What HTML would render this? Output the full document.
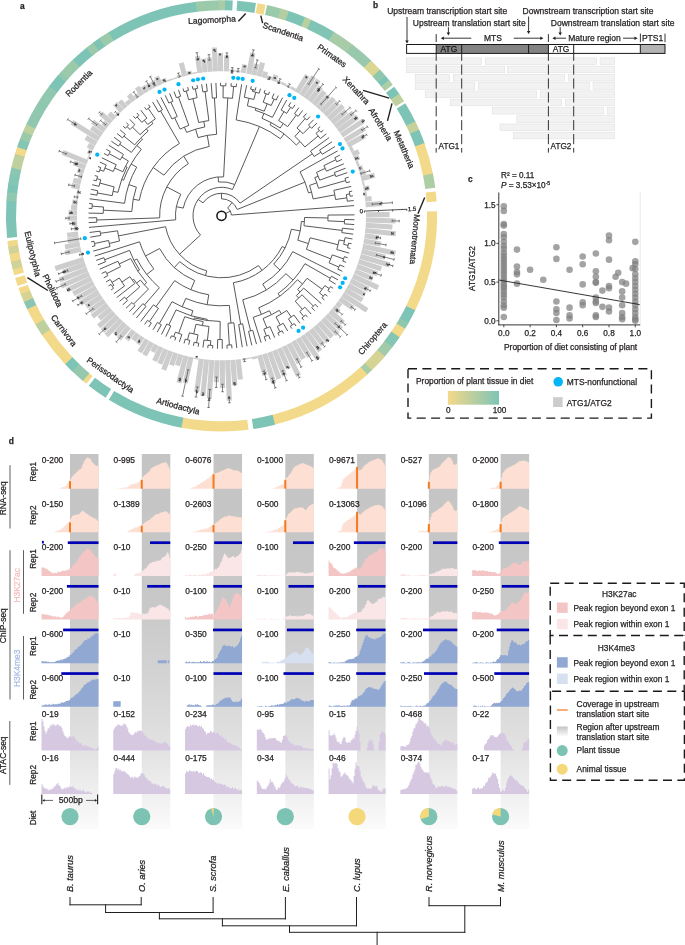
<!DOCTYPE html>
<html><head><meta charset="utf-8"><style>
html,body{margin:0;padding:0;background:#fff;}
svg{display:block;will-change:transform;}
text{font-family:"Liberation Sans", sans-serif;stroke:#231f20;stroke-width:0.25px;}
</style></head><body>
<svg width="685" height="945" viewBox="0 0 685 945">
<text x="20" y="9" font-size="8.4" text-anchor="start" fill="#231f20" font-weight="bold" font-style="normal">a</text>
<path d="M237.29 0.78A215.6 215.6 0 0 1 255.97 2.97L254.36 12.94A205.5 205.5 0 0 0 236.55 10.85Z" fill="#7ec4b6"/>
<path d="M257.46 3.22A215.6 215.6 0 0 1 265.59 4.76L263.52 14.64A205.5 205.5 0 0 0 255.77 13.18Z" fill="#f3da8a"/>
<path d="M267.06 5.07A215.6 215.6 0 0 1 281.47 8.71L278.66 18.41A205.5 205.5 0 0 0 264.93 14.94Z" fill="#9bcaab"/>
<path d="M280.57 8.45A215.6 215.6 0 0 1 289.73 11.28L286.54 20.86A205.5 205.5 0 0 0 277.8 18.16Z" fill="#b3cea2"/>
<path d="M288.84 10.99A215.6 215.6 0 0 1 305.91 17.41L301.96 26.71A205.5 205.5 0 0 0 285.68 20.58Z" fill="#7ec4b6"/>
<path d="M305.05 17.05A215.6 215.6 0 0 1 312.1 20.16L307.86 29.33A205.5 205.5 0 0 0 301.13 26.36Z" fill="#b8cfa0"/>
<path d="M311.25 19.77A215.6 215.6 0 0 1 334.63 32.27L329.33 40.86A205.5 205.5 0 0 0 307.05 28.95Z" fill="#80c4b5"/>
<path d="M333.83 31.77A215.6 215.6 0 0 1 353.2 45.1L347.03 53.09A205.5 205.5 0 0 0 328.57 40.4Z" fill="#a7cca7"/>
<path d="M352.45 44.52A215.6 215.6 0 0 1 371.67 61.1L364.64 68.35A205.5 205.5 0 0 0 346.32 52.55Z" fill="#98c9ac"/>
<path d="M371 60.45A215.6 215.6 0 0 1 380.58 70.28L373.13 77.1A205.5 205.5 0 0 0 363.99 67.73Z" fill="#dcd693"/>
<path d="M379.95 69.59A215.6 215.6 0 0 1 386.05 76.5L378.34 83.02A205.5 205.5 0 0 0 372.52 76.44Z" fill="#90c7af"/>
<path d="M385.44 75.78A215.6 215.6 0 0 1 389.64 80.85L381.77 87.17A205.5 205.5 0 0 0 377.76 82.34Z" fill="#7ec4b6"/>
<path d="M389.05 80.12A215.6 215.6 0 0 1 392.78 84.85L384.75 90.98A205.5 205.5 0 0 0 381.2 86.47Z" fill="#adcda4"/>
<path d="M394.14 86.65A215.6 215.6 0 0 1 399.71 94.46L391.36 100.14A205.5 205.5 0 0 0 386.05 92.7Z" fill="#7ec4b6"/>
<path d="M399.18 93.68A215.6 215.6 0 0 1 404.14 101.23L395.58 106.6A205.5 205.5 0 0 0 390.86 99.4Z" fill="#bed09e"/>
<path d="M405.33 103.15A215.6 215.6 0 0 1 415.69 122.13L406.59 126.52A205.5 205.5 0 0 0 396.72 108.43Z" fill="#7ec4b6"/>
<path d="M415.28 121.29A215.6 215.6 0 0 1 419.59 130.69L410.31 134.68A205.5 205.5 0 0 0 406.2 125.71Z" fill="#c4d19c"/>
<path d="M419.22 129.83A215.6 215.6 0 0 1 424.8 144.01L415.27 147.37A205.5 205.5 0 0 0 409.96 133.86Z" fill="#7ec4b6"/>
<path d="M424.48 143.12A215.6 215.6 0 0 1 433.1 174.48L423.19 176.41A205.5 205.5 0 0 0 414.97 146.53Z" fill="#f3da8a"/>
<path d="M432.92 173.55A215.6 215.6 0 0 1 435.26 187.66L425.24 188.98A205.5 205.5 0 0 0 423.02 175.53Z" fill="#adcda4"/>
<path d="M435.71 191.39A215.6 215.6 0 0 1 436.63 201.51L426.55 202.18A205.5 205.5 0 0 0 425.68 192.54Z" fill="#f3da8a"/>
<path d="M437.05 211.28A215.6 215.6 0 0 1 414.87 311.16L405.81 306.69A205.5 205.5 0 0 0 426.95 211.5Z" fill="#f3da8a"/>
<path d="M415.28 310.31A215.6 215.6 0 0 1 408.12 323.76L399.38 318.71A205.5 205.5 0 0 0 406.2 305.89Z" fill="#7ec4b6"/>
<path d="M408.59 322.95A215.6 215.6 0 0 1 404.64 329.57L396.06 324.24A205.5 205.5 0 0 0 399.83 317.93Z" fill="#90c7af"/>
<path d="M405.13 328.77A215.6 215.6 0 0 1 399.07 338.07L390.76 332.34A205.5 205.5 0 0 0 396.53 323.48Z" fill="#f3da8a"/>
<path d="M399.61 337.3A215.6 215.6 0 0 1 391.97 347.79L383.99 341.61A205.5 205.5 0 0 0 391.26 331.6Z" fill="#84c5b4"/>
<path d="M392.55 347.05A215.6 215.6 0 0 1 384.34 357.1L376.71 350.48A205.5 205.5 0 0 0 384.53 340.9Z" fill="#a1cba9"/>
<path d="M384.95 356.39A215.6 215.6 0 0 1 371.13 371.02L364.12 363.75A205.5 205.5 0 0 0 377.3 349.81Z" fill="#d6d495"/>
<path d="M371.81 370.37A215.6 215.6 0 0 1 366.74 375.14L359.94 367.67A205.5 205.5 0 0 0 364.77 363.13Z" fill="#a7cca7"/>
<path d="M367.43 374.5A215.6 215.6 0 0 1 274.21 424.86L271.74 415.06A205.5 205.5 0 0 0 360.6 367.07Z" fill="#f3da8a"/>
<path d="M275.12 424.63A215.6 215.6 0 0 1 253.37 429.03L251.87 419.04A205.5 205.5 0 0 0 272.61 414.84Z" fill="#7ec4b6"/>
<path d="M248.52 429.7A215.6 215.6 0 0 1 180.55 427.47L182.46 417.56A205.5 205.5 0 0 0 247.26 419.68Z" fill="#f3da8a"/>
<path d="M181.47 427.65A215.6 215.6 0 0 1 108.85 399.63L114.13 391.02A205.5 205.5 0 0 0 183.35 417.73Z" fill="#7ec4b6"/>
<path d="M105.66 397.64A215.6 215.6 0 0 1 88.76 385.7L94.98 377.74A205.5 205.5 0 0 0 111.08 389.12Z" fill="#7ec4b6"/>
<path d="M86.4 383.83A215.6 215.6 0 0 1 82.2 380.35L88.72 372.64A205.5 205.5 0 0 0 92.73 375.95Z" fill="#f3da8a"/>
<path d="M82.91 380.96A215.6 215.6 0 0 1 71.6 370.76L78.62 363.5A205.5 205.5 0 0 0 89.41 373.22Z" fill="#95c8ad"/>
<path d="M72.27 371.41A215.6 215.6 0 0 1 64.46 363.53L71.82 356.61A205.5 205.5 0 0 0 79.26 364.12Z" fill="#7ec4b6"/>
<path d="M65.11 364.21A215.6 215.6 0 0 1 41.4 334.33L49.84 328.77A205.5 205.5 0 0 0 72.44 357.26Z" fill="#f3da8a"/>
<path d="M41.92 335.11A215.6 215.6 0 0 1 34.88 323.76L43.62 318.71A205.5 205.5 0 0 0 50.33 329.52Z" fill="#bed09e"/>
<path d="M35.35 324.58A215.6 215.6 0 0 1 26.82 308.45L35.94 304.11A205.5 205.5 0 0 0 44.07 319.48Z" fill="#f3da8a"/>
<path d="M27.23 309.3A215.6 215.6 0 0 1 23.56 301.25L32.83 297.25A205.5 205.5 0 0 0 36.33 304.92Z" fill="#8ac6b2"/>
<path d="M23.93 302.12A215.6 215.6 0 0 1 20.29 293.24L29.71 289.61A205.5 205.5 0 0 0 33.19 298.07Z" fill="#d6d495"/>
<path d="M20.63 294.12A215.6 215.6 0 0 1 18.39 288.12L27.91 284.74A205.5 205.5 0 0 0 30.04 290.45Z" fill="#f3da8a"/>
<path d="M17.65 285.99A215.6 215.6 0 0 1 15.1 278.12L24.77 275.2A205.5 205.5 0 0 0 27.2 282.7Z" fill="#f3da8a"/>
<path d="M14.25 275.23A215.6 215.6 0 0 1 12.44 268.51L22.24 266.04A205.5 205.5 0 0 0 23.96 272.44Z" fill="#f3da8a"/>
<path d="M12.67 269.42A215.6 215.6 0 0 1 10.65 260.81L20.53 258.7A205.5 205.5 0 0 0 22.46 266.91Z" fill="#d0d397"/>
<path d="M10.85 261.73A215.6 215.6 0 0 1 9.14 253.05L19.09 251.31A205.5 205.5 0 0 0 20.72 259.58Z" fill="#f3da8a"/>
<path d="M9.31 253.98A215.6 215.6 0 0 1 8.02 245.99L18.02 244.58A205.5 205.5 0 0 0 19.25 252.19Z" fill="#d0d397"/>
<path d="M8.16 246.92A215.6 215.6 0 0 1 7.37 240.95L17.4 239.78A205.5 205.5 0 0 0 18.15 245.47Z" fill="#edd98c"/>
<path d="M7.04 237.96A215.6 215.6 0 0 1 6.49 199.82L16.57 200.57A205.5 205.5 0 0 0 17.09 236.92Z" fill="#7ec4b6"/>
<path d="M6.43 200.76A215.6 215.6 0 0 1 7.31 191.21L17.34 192.36A205.5 205.5 0 0 0 16.5 201.47Z" fill="#90c7af"/>
<path d="M7.2 192.14A215.6 215.6 0 0 1 8.35 183.37L18.34 184.89A205.5 205.5 0 0 0 17.24 193.25Z" fill="#7ec4b6"/>
<path d="M8.21 184.3A215.6 215.6 0 0 1 9.83 174.85L19.74 176.76A205.5 205.5 0 0 0 18.2 185.78Z" fill="#84c5b4"/>
<path d="M9.65 175.77A215.6 215.6 0 0 1 11.55 166.75L21.39 169.05A205.5 205.5 0 0 0 19.57 177.65Z" fill="#8ac6b2"/>
<path d="M11.34 167.67A215.6 215.6 0 0 1 15.27 152.94L24.93 155.89A205.5 205.5 0 0 0 21.19 169.92Z" fill="#bed09e"/>
<path d="M14.99 153.85A215.6 215.6 0 0 1 17.46 146.14L27.02 149.4A205.5 205.5 0 0 0 24.67 156.75Z" fill="#f3da8a"/>
<path d="M17.16 147.03A215.6 215.6 0 0 1 20.29 138.36L29.71 141.99A205.5 205.5 0 0 0 26.73 150.25Z" fill="#84c5b4"/>
<path d="M19.95 139.24A215.6 215.6 0 0 1 23.41 130.69L32.69 134.68A205.5 205.5 0 0 0 29.39 142.83Z" fill="#9bcaab"/>
<path d="M23.04 131.56A215.6 215.6 0 0 1 26.66 123.49L35.79 127.82A205.5 205.5 0 0 0 32.34 135.5Z" fill="#bed09e"/>
<path d="M26.26 124.34A215.6 215.6 0 0 1 49.88 85.3L57.92 91.41A205.5 205.5 0 0 0 35.41 128.63Z" fill="#90c7af"/>
<path d="M49.31 86.05A215.6 215.6 0 0 1 58.41 74.78L66.05 81.39A205.5 205.5 0 0 0 57.38 92.13Z" fill="#7ec4b6"/>
<path d="M57.8 75.49A215.6 215.6 0 0 1 61.15 71.68L68.66 78.43A205.5 205.5 0 0 0 65.47 82.07Z" fill="#90c7af"/>
<path d="M60.52 72.38A215.6 215.6 0 0 1 73.5 59.02L80.43 66.37A205.5 205.5 0 0 0 68.07 79.1Z" fill="#9bcaab"/>
<path d="M72.82 59.67A215.6 215.6 0 0 1 87.14 47.19L93.43 55.09A205.5 205.5 0 0 0 79.78 66.98Z" fill="#7ec4b6"/>
<path d="M86.4 47.77A215.6 215.6 0 0 1 93.71 42.15L99.7 50.29A205.5 205.5 0 0 0 92.73 55.65Z" fill="#9bcaab"/>
<path d="M92.95 42.71A215.6 215.6 0 0 1 99.85 37.8L105.55 46.14A205.5 205.5 0 0 0 98.98 50.82Z" fill="#7ec4b6"/>
<path d="M99.07 38.33A215.6 215.6 0 0 1 109.33 31.68L114.59 40.3A205.5 205.5 0 0 0 104.81 46.65Z" fill="#9bcaab"/>
<path d="M108.53 32.17A215.6 215.6 0 0 1 196.53 1.65L197.7 11.68A205.5 205.5 0 0 0 113.82 40.77Z" fill="#7ec4b6"/>
<path d="M195.6 1.76A215.6 215.6 0 0 1 219.81 0.21L219.89 10.31A205.5 205.5 0 0 0 196.81 11.79Z" fill="#9bcaab"/>
<path d="M218.87 0.22A215.6 215.6 0 0 1 226.2 0.25L225.98 10.35A205.5 205.5 0 0 0 218.99 10.32Z" fill="#a7cca7"/>
<path d="M225.26 0.23A215.6 215.6 0 0 1 232.78 0.5L232.26 10.58A205.5 205.5 0 0 0 225.09 10.33Z" fill="#7ec4b6"/>
<g fill="#cdcdcd"><rect x="0" y="-2.55" width="23.64" height="5.1" transform="translate(366 214.79) rotate(-0.4)"/><rect x="0" y="-2.55" width="29.77" height="5.1" transform="translate(365.94 220.05) rotate(1.69)"/><rect x="0" y="-2.55" width="26.76" height="5.1" transform="translate(365.69 225.31) rotate(3.77)"/><rect x="0" y="-2.55" width="30.61" height="5.1" transform="translate(365.24 230.56) rotate(5.86)"/><rect x="0" y="-2.55" width="14.1" height="5.1" transform="translate(364.61 235.78) rotate(7.95)"/><rect x="0" y="-2.55" width="17.14" height="5.1" transform="translate(363.79 240.98) rotate(10.04)"/><rect x="0" y="-2.55" width="33.5" height="5.1" transform="translate(362.78 246.15) rotate(12.12)"/><rect x="0" y="-2.55" width="24.41" height="5.1" transform="translate(361.58 251.27) rotate(14.21)"/><rect x="0" y="-2.55" width="30.61" height="5.1" transform="translate(360.19 256.35) rotate(16.3)"/><rect x="0" y="-2.55" width="23.88" height="5.1" transform="translate(358.62 261.37) rotate(18.38)"/><rect x="0" y="-2.55" width="21.8" height="5.1" transform="translate(356.87 266.34) rotate(20.47)"/><rect x="0" y="-2.55" width="19.12" height="5.1" transform="translate(354.94 271.24) rotate(22.56)"/><rect x="0" y="-2.55" width="27.86" height="5.1" transform="translate(352.84 276.06) rotate(24.65)"/><rect x="0" y="-2.55" width="19.68" height="5.1" transform="translate(350.55 280.8) rotate(26.73)"/><rect x="0" y="-2.55" width="19.17" height="5.1" transform="translate(348.1 285.46) rotate(28.82)"/><rect x="0" y="-2.55" width="19.7" height="5.1" transform="translate(345.48 290.02) rotate(30.91)"/><rect x="0" y="-2.55" width="29.04" height="5.1" transform="translate(342.69 294.49) rotate(32.99)"/><rect x="0" y="-2.55" width="16.4" height="5.1" transform="translate(339.75 298.85) rotate(35.08)"/><rect x="0" y="-2.55" width="5.08" height="5.1" transform="translate(336.65 303.1) rotate(37.17)"/><rect x="0" y="-2.55" width="7.45" height="5.1" transform="translate(333.39 307.24) rotate(39.26)"/><rect x="0" y="-2.55" width="17.66" height="5.1" transform="translate(329.99 311.25) rotate(41.34)"/><rect x="0" y="-2.55" width="20.27" height="5.1" transform="translate(326.44 315.14) rotate(43.43)"/><rect x="0" y="-2.55" width="21.4" height="5.1" transform="translate(322.75 318.9) rotate(45.52)"/><rect x="0" y="-2.55" width="19.57" height="5.1" transform="translate(318.93 322.52) rotate(47.61)"/><rect x="0" y="-2.55" width="20.42" height="5.1" transform="translate(314.98 325.99) rotate(49.69)"/><rect x="0" y="-2.55" width="19.77" height="5.1" transform="translate(310.9 329.32) rotate(51.78)"/><rect x="0" y="-2.55" width="22.87" height="5.1" transform="translate(306.71 332.5) rotate(53.87)"/><rect x="0" y="-2.55" width="28.74" height="5.1" transform="translate(302.4 335.53) rotate(55.95)"/><rect x="0" y="-2.55" width="21.55" height="5.1" transform="translate(297.99 338.4) rotate(58.04)"/><rect x="0" y="-2.55" width="20.32" height="5.1" transform="translate(293.47 341.1) rotate(60.13)"/><rect x="0" y="-2.55" width="21.92" height="5.1" transform="translate(288.86 343.64) rotate(62.22)"/><rect x="0" y="-2.55" width="33.24" height="5.1" transform="translate(284.16 346.01) rotate(64.3)"/><rect x="0" y="-2.55" width="22.47" height="5.1" transform="translate(279.37 348.2) rotate(66.39)"/><rect x="0" y="-2.55" width="27.41" height="5.1" transform="translate(274.51 350.22) rotate(68.48)"/><rect x="0" y="-2.55" width="28.33" height="5.1" transform="translate(269.58 352.07) rotate(70.56)"/><rect x="0" y="-2.55" width="30.72" height="5.1" transform="translate(264.59 353.73) rotate(72.65)"/><rect x="0" y="-2.55" width="20.83" height="5.1" transform="translate(259.54 355.2) rotate(74.74)"/><rect x="0" y="-2.55" width="2.52" height="5.1" transform="translate(254.43 356.5) rotate(76.83)"/><rect x="0" y="-2.55" width="1.2" height="5.1" transform="translate(249.29 357.6) rotate(78.91)"/><rect x="0" y="-2.55" width="1.72" height="5.1" transform="translate(244.1 358.52) rotate(81)"/><rect x="0" y="-2.55" width="20.22" height="5.1" transform="translate(238.11 359.34) rotate(83.4)"/><rect x="0" y="-2.55" width="25.44" height="5.1" transform="translate(232.87 359.85) rotate(85.49)"/><rect x="0" y="-2.55" width="40.43" height="5.1" transform="translate(227.61 360.17) rotate(87.58)"/><rect x="0" y="-2.55" width="27.69" height="5.1" transform="translate(222.34 360.3) rotate(89.67)"/><rect x="0" y="-2.55" width="22.03" height="5.1" transform="translate(217.07 360.23) rotate(91.76)"/><rect x="0" y="-2.55" width="38.6" height="5.1" transform="translate(211.81 359.97) rotate(93.84)"/><rect x="0" y="-2.55" width="36.28" height="5.1" transform="translate(206.56 359.53) rotate(95.93)"/><rect x="0" y="-2.55" width="33.42" height="5.1" transform="translate(201.33 358.89) rotate(98.02)"/><rect x="0" y="-2.55" width="1.21" height="5.1" transform="translate(196.13 358.06) rotate(100.11)"/><rect x="0" y="-2.55" width="26.55" height="5.1" transform="translate(190.96 357.04) rotate(102.2)"/><rect x="0" y="-2.55" width="27.81" height="5.1" transform="translate(185.84 355.83) rotate(104.29)"/><rect x="0" y="-2.55" width="11.55" height="5.1" transform="translate(180.76 354.44) rotate(106.38)"/><rect x="0" y="-2.55" width="13.04" height="5.1" transform="translate(175.73 352.86) rotate(108.47)"/><rect x="0" y="-2.55" width="20.11" height="5.1" transform="translate(170.76 351.1) rotate(110.56)"/><rect x="0" y="-2.55" width="15.74" height="5.1" transform="translate(165.87 349.16) rotate(112.64)"/><rect x="0" y="-2.55" width="15.43" height="5.1" transform="translate(161.04 347.04) rotate(114.73)"/><rect x="0" y="-2.55" width="8" height="5.1" transform="translate(156.3 344.75) rotate(116.82)"/><rect x="0" y="-2.55" width="14.71" height="5.1" transform="translate(151.64 342.29) rotate(118.91)"/><rect x="0" y="-2.55" width="14.33" height="5.1" transform="translate(147.08 339.66) rotate(121)"/><rect x="0" y="-2.55" width="8.51" height="5.1" transform="translate(142.38 336.71) rotate(123.2)"/><rect x="0" y="-2.55" width="7.94" height="5.1" transform="translate(138 333.73) rotate(125.3)"/><rect x="0" y="-2.55" width="11.44" height="5.1" transform="translate(133.73 330.59) rotate(127.4)"/><rect x="0" y="-2.55" width="15.83" height="5.1" transform="translate(129 326.82) rotate(129.8)"/><rect x="0" y="-2.55" width="15.17" height="5.1" transform="translate(125.11 323.45) rotate(131.84)"/><rect x="0" y="-2.55" width="21.61" height="5.1" transform="translate(121.34 319.95) rotate(133.88)"/><rect x="0" y="-2.55" width="21.29" height="5.1" transform="translate(117.7 316.32) rotate(135.92)"/><rect x="0" y="-2.55" width="20.69" height="5.1" transform="translate(114.18 312.56) rotate(137.96)"/><rect x="0" y="-2.55" width="15.23" height="5.1" transform="translate(110.81 308.68) rotate(140)"/><rect x="0" y="-2.55" width="19.36" height="5.1" transform="translate(107.57 304.68) rotate(142.04)"/><rect x="0" y="-2.55" width="18.22" height="5.1" transform="translate(104.48 300.57) rotate(144.08)"/><rect x="0" y="-2.55" width="18.35" height="5.1" transform="translate(101.54 296.35) rotate(146.12)"/><rect x="0" y="-2.55" width="21.89" height="5.1" transform="translate(98.74 292.03) rotate(148.16)"/><rect x="0" y="-2.55" width="21.91" height="5.1" transform="translate(96.11 287.61) rotate(150.2)"/><rect x="0" y="-2.55" width="22.94" height="5.1" transform="translate(93.63 283.1) rotate(152.24)"/><rect x="0" y="-2.55" width="27" height="5.1" transform="translate(91.32 278.51) rotate(154.28)"/><rect x="0" y="-2.55" width="30.85" height="5.1" transform="translate(89.17 273.84) rotate(156.32)"/><rect x="0" y="-2.55" width="29.68" height="5.1" transform="translate(87.18 269.09) rotate(158.36)"/><rect x="0" y="-2.55" width="23.6" height="5.1" transform="translate(85.37 264.27) rotate(160.4)"/><rect x="0" y="-2.55" width="29.88" height="5.1" transform="translate(83.76 259.49) rotate(162.4)"/><rect x="0" y="-2.55" width="1.46" height="5.1" transform="translate(82.19 254.17) rotate(164.6)"/><rect x="0" y="-2.55" width="16.16" height="5.1" transform="translate(80.9 249.16) rotate(166.65)"/><rect x="0" y="-2.55" width="15.07" height="5.1" transform="translate(79.8 244.11) rotate(168.7)"/><rect x="0" y="-2.55" width="11.33" height="5.1" transform="translate(78.88 239.03) rotate(170.75)"/><rect x="0" y="-2.55" width="11.08" height="5.1" transform="translate(78.14 233.91) rotate(172.8)"/><rect x="0" y="-2.55" width="3.44" height="5.1" transform="translate(77.55 228.39) rotate(175)"/><rect x="0" y="-2.55" width="5.64" height="5.1" transform="translate(77.19 223.22) rotate(177.06)"/><rect x="0" y="-2.55" width="9.52" height="5.1" transform="translate(77.02 218.03) rotate(179.12)"/><rect x="0" y="-2.55" width="8.41" height="5.1" transform="translate(77.03 212.84) rotate(181.17)"/><rect x="0" y="-2.55" width="6.16" height="5.1" transform="translate(77.23 207.66) rotate(183.23)"/><rect x="0" y="-2.55" width="5.32" height="5.1" transform="translate(77.62 202.48) rotate(185.29)"/><rect x="0" y="-2.55" width="2.16" height="5.1" transform="translate(78.19 197.32) rotate(187.35)"/><rect x="0" y="-2.55" width="2.11" height="5.1" transform="translate(78.94 192.19) rotate(189.4)"/><rect x="0" y="-2.55" width="8.52" height="5.1" transform="translate(79.88 187.08) rotate(191.46)"/><rect x="0" y="-2.55" width="7.98" height="5.1" transform="translate(81 182.02) rotate(193.52)"/><rect x="0" y="-2.55" width="4.21" height="5.1" transform="translate(82.31 177) rotate(195.58)"/><rect x="0" y="-2.55" width="6.55" height="5.1" transform="translate(83.79 172.02) rotate(197.64)"/><rect x="0" y="-2.55" width="12.55" height="5.1" transform="translate(85.45 167.11) rotate(199.69)"/><rect x="0" y="-2.55" width="26.53" height="5.1" transform="translate(87.29 162.25) rotate(201.75)"/><rect x="0" y="-2.55" width="1.47" height="5.1" transform="translate(89.3 157.47) rotate(203.81)"/><rect x="0" y="-2.55" width="3.94" height="5.1" transform="translate(91.48 152.76) rotate(205.87)"/><rect x="0" y="-2.55" width="6.6" height="5.1" transform="translate(93.82 148.13) rotate(207.92)"/><rect x="0" y="-2.55" width="12.15" height="5.1" transform="translate(96.34 143.59) rotate(209.98)"/><rect x="0" y="-2.55" width="31.95" height="5.1" transform="translate(99.01 139.14) rotate(212.04)"/><rect x="0" y="-2.55" width="12.6" height="5.1" transform="translate(101.84 134.79) rotate(214.1)"/><rect x="0" y="-2.55" width="15" height="5.1" transform="translate(104.83 130.55) rotate(216.16)"/><rect x="0" y="-2.55" width="6.17" height="5.1" transform="translate(107.96 126.41) rotate(218.21)"/><rect x="0" y="-2.55" width="13.95" height="5.1" transform="translate(111.25 122.39) rotate(220.27)"/><rect x="0" y="-2.55" width="7.51" height="5.1" transform="translate(114.67 118.5) rotate(222.33)"/><rect x="0" y="-2.55" width="2.36" height="5.1" transform="translate(118.24 114.72) rotate(224.39)"/><rect x="0" y="-2.55" width="10.02" height="5.1" transform="translate(121.93 111.08) rotate(226.44)"/><rect x="0" y="-2.55" width="8.93" height="5.1" transform="translate(125.76 107.57) rotate(228.5)"/><rect x="0" y="-2.55" width="4.38" height="5.1" transform="translate(129.7 104.2) rotate(230.56)"/><rect x="0" y="-2.55" width="7.99" height="5.1" transform="translate(133.77 100.98) rotate(232.62)"/><rect x="0" y="-2.55" width="4.09" height="5.1" transform="translate(137.95 97.9) rotate(234.68)"/><rect x="0" y="-2.55" width="9.34" height="5.1" transform="translate(142.24 94.98) rotate(236.73)"/><rect x="0" y="-2.55" width="7.18" height="5.1" transform="translate(146.63 92.21) rotate(238.79)"/><rect x="0" y="-2.55" width="6.58" height="5.1" transform="translate(151.11 89.6) rotate(240.85)"/><rect x="0" y="-2.55" width="6.92" height="5.1" transform="translate(155.69 87.16) rotate(242.91)"/><rect x="0" y="-2.55" width="9.12" height="5.1" transform="translate(160.35 84.88) rotate(244.96)"/><rect x="0" y="-2.55" width="4.48" height="5.1" transform="translate(165.09 82.77) rotate(247.02)"/><rect x="0" y="-2.55" width="1.64" height="5.1" transform="translate(169.9 80.83) rotate(249.08)"/><rect x="0" y="-2.55" width="1.2" height="5.1" transform="translate(174.78 79.06) rotate(251.14)"/><rect x="0" y="-2.55" width="2.54" height="5.1" transform="translate(179.72 77.47) rotate(253.2)"/><rect x="0" y="-2.55" width="13.68" height="5.1" transform="translate(184.72 76.06) rotate(255.25)"/><rect x="0" y="-2.55" width="3.98" height="5.1" transform="translate(189.76 74.83) rotate(257.31)"/><rect x="0" y="-2.55" width="1.48" height="5.1" transform="translate(194.84 73.78) rotate(259.37)"/><rect x="0" y="-2.55" width="17.08" height="5.1" transform="translate(199.96 72.91) rotate(261.43)"/><rect x="0" y="-2.55" width="13.54" height="5.1" transform="translate(205.1 72.23) rotate(263.48)"/><rect x="0" y="-2.55" width="14.37" height="5.1" transform="translate(210.27 71.74) rotate(265.54)"/><rect x="0" y="-2.55" width="23.94" height="5.1" transform="translate(215.45 71.43) rotate(267.6)"/><rect x="0" y="-2.55" width="18.33" height="5.1" transform="translate(220.49 71.3) rotate(269.6)"/><rect x="0" y="-2.55" width="16.06" height="5.1" transform="translate(226.29 71.38) rotate(271.9)"/><rect x="0" y="-2.55" width="2.28" height="5.1" transform="translate(232.08 71.69) rotate(274.2)"/><rect x="0" y="-2.55" width="2.07" height="5.1" transform="translate(237.86 72.23) rotate(276.5)"/><rect x="0" y="-2.55" width="8.56" height="5.1" transform="translate(243.36 72.96) rotate(278.7)"/><rect x="0" y="-2.55" width="21.28" height="5.1" transform="translate(248.82 73.91) rotate(280.9)"/><rect x="0" y="-2.55" width="11.37" height="5.1" transform="translate(253.89 74.98) rotate(282.95)"/><rect x="0" y="-2.55" width="14.06" height="5.1" transform="translate(258.92 76.23) rotate(285.01)"/><rect x="0" y="-2.55" width="6.13" height="5.1" transform="translate(263.9 77.66) rotate(287.06)"/><rect x="0" y="-2.55" width="3.39" height="5.1" transform="translate(268.83 79.27) rotate(289.12)"/><rect x="0" y="-2.55" width="6.29" height="5.1" transform="translate(273.7 81.06) rotate(291.17)"/><rect x="0" y="-2.55" width="2.51" height="5.1" transform="translate(278.49 83.01) rotate(293.23)"/><rect x="0" y="-2.55" width="2.49" height="5.1" transform="translate(283.22 85.14) rotate(295.28)"/><rect x="0" y="-2.55" width="2.17" height="5.1" transform="translate(287.86 87.44) rotate(297.34)"/><rect x="0" y="-2.55" width="2.81" height="5.1" transform="translate(292.42 89.9) rotate(299.39)"/><rect x="0" y="-2.55" width="20.08" height="5.1" transform="translate(296.89 92.53) rotate(301.45)"/><rect x="0" y="-2.55" width="22.51" height="5.1" transform="translate(301.27 95.31) rotate(303.5)"/><rect x="0" y="-2.55" width="22.38" height="5.1" transform="translate(305.53 98.25) rotate(305.56)"/><rect x="0" y="-2.55" width="18.23" height="5.1" transform="translate(309.7 101.34) rotate(307.62)"/><rect x="0" y="-2.55" width="16.97" height="5.1" transform="translate(313.74 104.57) rotate(309.67)"/><rect x="0" y="-2.55" width="16.23" height="5.1" transform="translate(317.67 107.95) rotate(311.73)"/><rect x="0" y="-2.55" width="18.08" height="5.1" transform="translate(321.48 111.47) rotate(313.78)"/><rect x="0" y="-2.55" width="17.9" height="5.1" transform="translate(325.16 115.12) rotate(315.83)"/><rect x="0" y="-2.55" width="19.44" height="5.1" transform="translate(328.7 118.9) rotate(317.89)"/><rect x="0" y="-2.55" width="18.29" height="5.1" transform="translate(332.1 122.81) rotate(319.94)"/><rect x="0" y="-2.55" width="22.93" height="5.1" transform="translate(335.37 126.84) rotate(322)"/><rect x="0" y="-2.55" width="23.73" height="5.1" transform="translate(338.4 130.87) rotate(324)"/><rect x="0" y="-2.55" width="26.15" height="5.1" transform="translate(341.58 135.42) rotate(326.2)"/><rect x="0" y="-2.55" width="23.23" height="5.1" transform="translate(344.84 140.51) rotate(328.6)"/><rect x="0" y="-2.55" width="19.62" height="5.1" transform="translate(347.64 145.3) rotate(330.8)"/><rect x="0" y="-2.55" width="3.25" height="5.1" transform="translate(350.08 149.87) rotate(332.85)"/><rect x="0" y="-2.55" width="7.27" height="5.1" transform="translate(352.36 154.52) rotate(334.91)"/><rect x="0" y="-2.55" width="5.27" height="5.1" transform="translate(354.48 159.25) rotate(336.96)"/><rect x="0" y="-2.55" width="2.6" height="5.1" transform="translate(356.42 164.06) rotate(339.02)"/><rect x="0" y="-2.55" width="4.84" height="5.1" transform="translate(358.19 168.93) rotate(341.07)"/><rect x="0" y="-2.55" width="5.82" height="5.1" transform="translate(359.78 173.86) rotate(343.13)"/><rect x="0" y="-2.55" width="13.94" height="5.1" transform="translate(361.19 178.84) rotate(345.18)"/><rect x="0" y="-2.55" width="2.07" height="5.1" transform="translate(362.43 183.88) rotate(347.24)"/><rect x="0" y="-2.55" width="6.17" height="5.1" transform="translate(363.48 188.95) rotate(349.29)"/><rect x="0" y="-2.55" width="2.53" height="5.1" transform="translate(364.35 194.06) rotate(351.35)"/><rect x="0" y="-2.55" width="6.6" height="5.1" transform="translate(365.04 199.19) rotate(353.4)"/><rect x="0" y="-2.55" width="16.76" height="5.1" transform="translate(365.57 204.71) rotate(355.6)"/></g>
<path d="M392.16 220.83L399.22 221.03M392.2 219.53L392.12 222.13M399.26 219.74L399.18 222.33M376.73 237.47L380.42 237.99M376.91 236.19L376.55 238.76M380.6 236.7L380.24 239.28M375.32 243.02L386.02 244.91M375.55 241.74L375.1 244.3M386.24 243.63L385.79 246.19M376.38 255.02L394.1 259.51M376.69 253.76L376.06 256.28M394.42 258.25L393.78 260.77M386.35 264L392.79 265.88M386.71 262.75L385.99 265.25M393.16 264.63L392.43 267.13M373.41 272.51L381.19 275.42M373.87 271.29L372.96 273.73M381.64 274.2L380.73 276.63M365.97 288.56L370.29 290.74M366.55 287.4L365.38 289.73M370.87 289.58L369.7 291.9M351.26 306.93L355.08 309.62M352 305.87L350.51 308M355.83 308.56L354.34 310.69M336.05 309.41L342.27 314.49M336.87 308.4L335.22 310.42M343.09 313.49L341.44 315.5M341.12 321.05L345.37 324.79M341.98 320.07L340.26 322.03M346.23 323.81L344.51 325.76M335.09 323.33L347.23 334.82M335.98 322.39L334.19 324.28M348.12 333.88L346.34 335.77M335.13 331.5L340.36 336.83M336.05 330.59L334.2 332.41M341.29 335.92L339.44 337.74M321.68 343.01L324.59 346.7M322.7 342.2L320.66 343.81M325.61 345.9L323.57 347.51M306.79 352.51L312 360.86M307.89 351.82L305.69 353.2M313.1 360.17L310.89 361.54M296.94 358.97L301.22 367.1M298.09 358.37L295.79 359.58M302.37 366.49L300.07 367.7M297.76 374.28L299.38 377.63M298.93 373.72L296.59 374.85M300.55 377.07L298.21 378.2M282.61 370.76L286.53 380.69M283.82 370.28L281.4 371.24M287.74 380.21L285.32 381.17M272.22 378.14L275.28 387.94M273.46 377.76L270.98 378.53M276.52 387.56L274.04 388.33M263.85 371L266.19 379.6M265.1 370.66L262.59 371.34M267.45 379.26L264.94 379.94M244.16 358.86L244.59 361.58M245.44 358.66L242.87 359.06M245.87 361.37L243.3 361.78M229.22 398.36L229.41 402.76M230.52 398.31L227.92 398.42M230.71 402.71L228.11 402.82M222.48 384.25L222.52 391.72M223.78 384.24L221.18 384.26M223.82 391.72L221.22 391.73M216.56 377.08L216.24 387.42M217.86 377.12L215.26 377.04M217.54 387.46L214.94 387.38M209.83 389.45L208.62 407.52M211.13 389.54L208.53 389.36M209.91 407.61L207.32 407.44M197.38 386.96L195.96 396.99M198.66 387.14L196.09 386.78M197.25 397.17L194.68 396.81M188.2 369.83L182.51 396.15M189.47 370.11L186.93 369.56M183.78 396.42L181.24 395.87M121.32 336.04L116.42 341.92M122.32 336.87L120.32 335.2M117.42 342.75L115.42 341.09M105.59 328.05L99.21 334.22M106.49 328.98L104.69 327.11M100.12 335.16L98.31 333.29M93.2 308.74L86.24 313.78M93.96 309.8L92.44 307.69M87.01 314.83L85.48 312.73M82.45 302.15L77.85 305M83.13 303.25L81.76 301.05M78.54 306.11L77.17 303.9M81.54 295.95L72.65 301.05M82.19 297.08L80.9 294.83M73.3 302.17L72.01 299.92M65.24 284.33L56.59 288.12M65.77 285.52L64.72 283.14M57.11 289.31L56.07 286.93M63.16 278.62L56.03 281.45M63.63 279.83L62.68 277.41M56.51 282.66L55.55 280.24M67.7 270.56L58.57 273.82M68.14 271.79L67.27 269.34M59 275.04L58.13 272.59M81.94 254.24L79.63 254.88M82.28 255.49L81.59 252.99M79.97 256.13L79.28 253.63M69.07 251.97L61.29 253.82M69.38 253.24L68.77 250.71M61.59 255.09L60.99 252.56M80.76 238.72L54.63 242.98M80.97 240L80.55 237.44M54.84 244.26L54.42 241.69M76.86 228.45L71.38 228.93M76.98 229.75L76.75 227.16M71.5 230.23L71.27 227.64M73.15 223.42L69.96 223.59M73.22 224.72L73.09 222.13M70.03 224.89L69.89 222.29M69.19 218.15L65.82 218.2M69.21 219.45L69.17 216.85M65.84 219.5L65.8 216.9M77.76 197.27L74.34 196.83M77.59 198.56L77.92 195.98M74.17 198.12L74.5 195.54M74.36 185.97L68.71 184.82M74.1 187.24L74.62 184.69M68.45 186.09L68.97 183.55M81.5 176.77L75.01 174.96M81.15 178.02L81.85 175.52M74.66 176.21L75.36 173.71M76.76 163.99L70.52 161.76M76.32 165.22L77.2 162.77M70.08 162.98L70.96 160.54M66.16 153.82L59.14 151.02M65.68 155.03L66.64 152.61M58.66 152.23L59.63 149.82M76.25 124.9L67.61 119.49M75.56 126L76.94 123.8M66.92 120.59L68.3 118.39M96.86 124.73L88.56 118.66M96.1 125.78L97.63 123.68M87.8 119.71L89.33 117.61M105.68 124.61L100.55 120.58M104.88 125.64L106.48 123.59M99.75 121.6L101.36 119.56M101.83 114.42L99.37 112.33M100.99 115.41L102.67 113.43M98.53 113.33L100.21 111.34M117.9 114.39L115.19 111.75M116.99 115.32L118.81 113.46M114.28 112.67L116.1 110.82M137.48 97.24L133.7 91.9M136.42 97.99L138.54 96.49M132.64 92.66L134.76 91.15M149.38 86.5L146.43 81.21M148.24 87.13L150.51 85.86M145.3 81.85L147.57 80.58M154.77 85.36L150.31 76.63M153.61 85.96L155.93 84.77M149.15 77.23L151.46 76.04M179.58 76.98L178.4 73.09M178.33 77.36L180.82 76.61M177.16 73.47L179.65 72.71M197.92 59.38L196.91 52.67M196.63 59.58L199.2 59.19M195.62 52.87L198.19 52.48M209.37 60.18L208.94 54.65M208.07 60.28L210.66 60.07M207.64 54.76L210.23 54.55M226.74 57.74L226.9 52.92M225.44 57.7L228.04 57.78M225.6 52.88L228.2 52.97M232.12 71.23L232.38 67.6M230.82 71.14L233.41 71.33M231.09 67.5L233.68 67.69M237.9 71.82L238.28 68.52M236.61 71.67L239.2 71.96M236.99 68.37L239.57 68.67M252.25 56.11L253.45 49.91M250.98 55.86L253.53 56.35M252.17 49.67L254.72 50.16M255.54 67.82L257.35 59.97M254.28 67.53L256.81 68.11M256.08 59.68L258.61 60.26M278.69 82.55L280.27 78.87M277.5 82.04L279.89 83.07M279.08 78.36L281.47 79.38M288.06 87.06L289.65 83.98M286.91 86.46L289.22 87.65M288.5 83.38L290.81 84.58M308.61 84.21L318.77 68.86M307.53 83.5L309.7 84.93M317.69 68.14L319.86 69.58M318.67 89.69L322.97 84.11M317.64 88.89L319.7 90.48M321.94 83.31L324 84.9M320.95 104.28L336 87.4M319.98 103.42L321.92 105.15M335.03 86.53L336.97 88.26M336.33 104.27L339.65 101.04M335.43 103.34L337.24 105.2M338.75 100.11L340.56 101.97M342.04 114.45L350.17 107.62M341.21 113.46L342.88 115.45M349.33 106.63L351 108.62M350.78 114.79L356.09 110.65M349.98 113.77L351.58 115.82M355.29 109.62L356.89 111.67M361.83 130.14L367.49 126.69M361.16 129.03L362.51 131.25M366.82 125.58L368.17 127.79M362.88 136.78L366.65 134.68M362.25 135.65L363.52 137.92M366.02 133.54L367.29 135.81M360.89 173.52L369.8 170.82M360.52 172.28L361.27 174.77M369.42 169.58L370.18 172.06M372.18 204.21L392.39 202.65M372.08 202.91L372.28 205.5M392.29 201.35L392.49 203.95" stroke="#555" stroke-width="0.75" fill="none"/>
<g fill="#666" style="stroke:none"><text x="392.59" y="233.36" font-size="3.2" text-anchor="middle" dominant-baseline="central" transform="rotate(5.86 392.59 233.36)">bc</text><text x="377.07" y="237.52" font-size="3.2" text-anchor="middle" dominant-baseline="central" transform="rotate(7.95 377.07 237.52)">a*</text><text x="392.3" y="252.49" font-size="3.2" text-anchor="middle" dominant-baseline="central" transform="rotate(12.12 392.3 252.49)">ab</text><text x="384.19" y="257" font-size="3.2" text-anchor="middle" dominant-baseline="central" transform="rotate(14.21 384.19 257)">a</text><text x="388.44" y="264.61" font-size="3.2" text-anchor="middle" dominant-baseline="central" transform="rotate(16.3 388.44 264.61)">a*</text><text x="374.51" y="272.92" font-size="3.2" text-anchor="middle" dominant-baseline="central" transform="rotate(20.47 374.51 272.92)">a*</text><text x="370.94" y="277.88" font-size="3.2" text-anchor="middle" dominant-baseline="central" transform="rotate(22.56 370.94 277.88)">bc</text><text x="365.33" y="288.24" font-size="3.2" text-anchor="middle" dominant-baseline="central" transform="rotate(26.73 365.33 288.24)">a</text><text x="363.95" y="294.18" font-size="3.2" text-anchor="middle" dominant-baseline="central" transform="rotate(28.82 363.95 294.18)">a</text><text x="337.32" y="310.45" font-size="3.2" text-anchor="middle" dominant-baseline="central" transform="rotate(39.26 337.32 310.45)">b</text><text x="338.76" y="326.81" font-size="3.2" text-anchor="middle" dominant-baseline="central" transform="rotate(43.43 338.76 326.81)">b</text><text x="327.39" y="340.63" font-size="3.2" text-anchor="middle" dominant-baseline="central" transform="rotate(49.69 327.39 340.63)">a*</text><text x="317.77" y="347.66" font-size="3.2" text-anchor="middle" dominant-baseline="central" transform="rotate(53.87 317.77 347.66)">ab</text><text x="317.61" y="358.04" font-size="3.2" text-anchor="middle" dominant-baseline="central" transform="rotate(55.95 317.61 358.04)">ab</text><text x="287.76" y="367.39" font-size="3.2" text-anchor="middle" dominant-baseline="central" transform="rotate(66.39 287.76 367.39)">a*</text><text x="283.86" y="373.93" font-size="3.2" text-anchor="middle" dominant-baseline="central" transform="rotate(68.48 283.86 373.93)">b</text><text x="273.49" y="382.23" font-size="3.2" text-anchor="middle" dominant-baseline="central" transform="rotate(72.65 273.49 382.23)">bc</text><text x="264.59" y="373.73" font-size="3.2" text-anchor="middle" dominant-baseline="central" transform="rotate(74.74 264.59 373.73)">b</text><text x="234.75" y="383.75" font-size="3.2" text-anchor="middle" dominant-baseline="central" transform="rotate(85.49 234.75 383.75)">ab</text><text x="229.18" y="397.45" font-size="3.2" text-anchor="middle" dominant-baseline="central" transform="rotate(87.58 229.18 397.45)">a</text><text x="209.17" y="399.22" font-size="3.2" text-anchor="middle" dominant-baseline="central" transform="rotate(273.84 209.17 399.22)">bc</text><text x="202.99" y="393.9" font-size="3.2" text-anchor="middle" dominant-baseline="central" transform="rotate(275.93 202.99 393.9)">bc</text><text x="196.73" y="391.57" font-size="3.2" text-anchor="middle" dominant-baseline="central" transform="rotate(278.02 196.73 391.57)">a*</text><text x="196.36" y="356.78" font-size="3.2" text-anchor="middle" dominant-baseline="central" transform="rotate(280.11 196.36 356.78)">a</text><text x="185.96" y="380.2" font-size="3.2" text-anchor="middle" dominant-baseline="central" transform="rotate(282.2 185.96 380.2)">a*</text><text x="179.8" y="379.52" font-size="3.2" text-anchor="middle" dominant-baseline="central" transform="rotate(284.29 179.8 379.52)">ab</text><text x="139.37" y="341.31" font-size="3.2" text-anchor="middle" dominant-baseline="central" transform="rotate(303.2 139.37 341.31)">a*</text><text x="128.69" y="337.2" font-size="3.2" text-anchor="middle" dominant-baseline="central" transform="rotate(307.4 128.69 337.2)">b</text><text x="115.93" y="333.7" font-size="3.2" text-anchor="middle" dominant-baseline="central" transform="rotate(311.84 115.93 333.7)">a*</text><text x="104.74" y="328.87" font-size="3.2" text-anchor="middle" dominant-baseline="central" transform="rotate(315.92 104.74 328.87)">a</text><text x="88.65" y="305.01" font-size="3.2" text-anchor="middle" dominant-baseline="central" transform="rotate(326.12 88.65 305.01)">a</text><text x="81.52" y="302.73" font-size="3.2" text-anchor="middle" dominant-baseline="central" transform="rotate(328.16 81.52 302.73)">a</text><text x="78.32" y="297.8" font-size="3.2" text-anchor="middle" dominant-baseline="central" transform="rotate(330.2 78.32 297.8)">b</text><text x="68.55" y="289.48" font-size="3.2" text-anchor="middle" dominant-baseline="central" transform="rotate(334.28 68.55 289.48)">ab</text><text x="64.12" y="271.84" font-size="3.2" text-anchor="middle" dominant-baseline="central" transform="rotate(340.4 64.12 271.84)">ab</text><text x="83.14" y="253.91" font-size="3.2" text-anchor="middle" dominant-baseline="central" transform="rotate(344.6 83.14 253.91)">b</text><text x="76.65" y="228.47" font-size="3.2" text-anchor="middle" dominant-baseline="central" transform="rotate(355 76.65 228.47)">ab</text><text x="73.71" y="223.4" font-size="3.2" text-anchor="middle" dominant-baseline="central" transform="rotate(357.06 73.71 223.4)">bc</text><text x="71.05" y="212.72" font-size="3.2" text-anchor="middle" dominant-baseline="central" transform="rotate(361.17 71.05 212.72)">ab</text><text x="75.17" y="202.25" font-size="3.2" text-anchor="middle" dominant-baseline="central" transform="rotate(365.29 75.17 202.25)">bc</text><text x="79.31" y="192.25" font-size="3.2" text-anchor="middle" dominant-baseline="central" transform="rotate(369.4 79.31 192.25)">bc</text><text x="79.49" y="170.65" font-size="3.2" text-anchor="middle" dominant-baseline="central" transform="rotate(377.64 79.49 170.65)">b</text><text x="76.4" y="163.87" font-size="3.2" text-anchor="middle" dominant-baseline="central" transform="rotate(379.69 76.4 163.87)">ab</text><text x="90.3" y="157.91" font-size="3.2" text-anchor="middle" dominant-baseline="central" transform="rotate(383.81 90.3 157.91)">a</text><text x="90.16" y="152.12" font-size="3.2" text-anchor="middle" dominant-baseline="central" transform="rotate(385.87 90.16 152.12)">a*</text><text x="74.96" y="124.09" font-size="3.2" text-anchor="middle" dominant-baseline="central" transform="rotate(392.04 74.96 124.09)">b</text><text x="118.24" y="114.73" font-size="3.2" text-anchor="middle" dominant-baseline="central" transform="rotate(404.39 118.24 114.73)">a</text><text x="116.34" y="105.2" font-size="3.2" text-anchor="middle" dominant-baseline="central" transform="rotate(406.44 116.34 105.2)">a</text><text x="144.21" y="88.23" font-size="3.2" text-anchor="middle" dominant-baseline="central" transform="rotate(418.79 144.21 88.23)">b</text><text x="149.15" y="86.09" font-size="3.2" text-anchor="middle" dominant-baseline="central" transform="rotate(420.85 149.15 86.09)">b</text><text x="153.87" y="83.6" font-size="3.2" text-anchor="middle" dominant-baseline="central" transform="rotate(422.91 153.87 83.6)">b</text><text x="157.57" y="78.91" font-size="3.2" text-anchor="middle" dominant-baseline="central" transform="rotate(424.96 157.57 78.91)">a</text><text x="164.23" y="80.73" font-size="3.2" text-anchor="middle" dominant-baseline="central" transform="rotate(427.02 164.23 80.73)">a*</text><text x="189.37" y="73.1" font-size="3.2" text-anchor="middle" dominant-baseline="central" transform="rotate(437.31 189.37 73.1)">b</text><text x="197.95" y="59.57" font-size="3.2" text-anchor="middle" dominant-baseline="central" transform="rotate(441.43 197.95 59.57)">b</text><text x="203.83" y="61.12" font-size="3.2" text-anchor="middle" dominant-baseline="central" transform="rotate(443.48 203.83 61.12)">a*</text><text x="214.57" y="50.45" font-size="3.2" text-anchor="middle" dominant-baseline="central" transform="rotate(447.6 214.57 50.45)">a*</text><text x="220.37" y="54.32" font-size="3.2" text-anchor="middle" dominant-baseline="central" transform="rotate(449.6 220.37 54.32)">a</text><text x="226.78" y="56.5" font-size="3.2" text-anchor="middle" dominant-baseline="central" transform="rotate(271.9 226.78 56.5)">a</text><text x="232.07" y="71.84" font-size="3.2" text-anchor="middle" dominant-baseline="central" transform="rotate(274.2 232.07 71.84)">bc</text><text x="244.34" y="66.54" font-size="3.2" text-anchor="middle" dominant-baseline="central" transform="rotate(278.7 244.34 66.54)">a</text><text x="252.42" y="55.25" font-size="3.2" text-anchor="middle" dominant-baseline="central" transform="rotate(280.9 252.42 55.25)">b</text><text x="269.17" y="78.29" font-size="3.2" text-anchor="middle" dominant-baseline="central" transform="rotate(289.12 269.17 78.29)">bc</text><text x="274.96" y="77.8" font-size="3.2" text-anchor="middle" dominant-baseline="central" transform="rotate(291.17 274.96 77.8)">b</text><text x="278.53" y="82.94" font-size="3.2" text-anchor="middle" dominant-baseline="central" transform="rotate(293.23 278.53 82.94)">a</text><text x="306.2" y="77.31" font-size="3.2" text-anchor="middle" dominant-baseline="central" transform="rotate(301.45 306.2 77.31)">a</text><text x="316.73" y="82.59" font-size="3.2" text-anchor="middle" dominant-baseline="central" transform="rotate(305.56 316.73 82.59)">a</text><text x="318.52" y="89.88" font-size="3.2" text-anchor="middle" dominant-baseline="central" transform="rotate(307.62 318.52 89.88)">ab</text><text x="327.38" y="97.07" font-size="3.2" text-anchor="middle" dominant-baseline="central" transform="rotate(311.73 327.38 97.07)">b</text><text x="355.8" y="118.23" font-size="3.2" text-anchor="middle" dominant-baseline="central" transform="rotate(324 355.8 118.23)">ab</text><text x="363.07" y="121.03" font-size="3.2" text-anchor="middle" dominant-baseline="central" transform="rotate(326.2 363.07 121.03)">ab</text><text x="362.85" y="136.8" font-size="3.2" text-anchor="middle" dominant-baseline="central" transform="rotate(330.8 362.85 136.8)">a*</text><text x="356.77" y="158.28" font-size="3.2" text-anchor="middle" dominant-baseline="central" transform="rotate(336.96 356.77 158.28)">bc</text><text x="360.4" y="168.17" font-size="3.2" text-anchor="middle" dominant-baseline="central" transform="rotate(341.07 360.4 168.17)">b</text><text x="371.68" y="176.07" font-size="3.2" text-anchor="middle" dominant-baseline="central" transform="rotate(345.18 371.68 176.07)">bc</text><text x="366.75" y="188.33" font-size="3.2" text-anchor="middle" dominant-baseline="central" transform="rotate(349.29 366.75 188.33)">ab</text><text x="364.28" y="194.07" font-size="3.2" text-anchor="middle" dominant-baseline="central" transform="rotate(351.35 364.28 194.07)">b</text><text x="381.03" y="203.52" font-size="3.2" text-anchor="middle" dominant-baseline="central" transform="rotate(355.6 381.03 203.52)">a*</text></g>
<path d="M328.02 215.06L354.5 214.87M344.6 219.43L354.44 219.72M344.39 223.91L354.21 224.56M344.6 219.43A123.15 123.15 0 0 1 344.39 223.91M327.9 220.87L344.51 221.67M328.02 215.06A106.52 106.52 0 0 1 327.9 220.87M304.54 217.49L328 217.97M342.36 228.21L353.8 229.38M341.83 232.6L353.22 234.19M342.36 228.21A121.49 121.49 0 0 1 341.83 232.6M303.96 225.79L342.11 230.41M304.54 217.49A83.06 83.06 0 0 1 303.96 225.79M301.43 221.44L304.35 221.64M345.03 237.66L352.46 238.98M348.6 243.1L351.53 243.73M347.52 247.71L350.43 248.45M348.6 243.1A130 130 0 0 1 347.52 247.71M343.66 244.38L348.08 245.41M345.03 237.66A125.45 125.45 0 0 1 343.66 244.38M339.13 239.95L344.39 241.03M336.76 249.5L349.16 253.12M339.13 239.95A120.08 120.08 0 0 1 336.76 249.5M310.07 237.8L338.04 244.75M344.36 256.63L347.71 257.75M342.79 261.08L346.1 262.32M344.36 256.63A129.47 129.47 0 0 1 342.79 261.08M332.22 254.85L343.6 258.87M339.72 264.91L344.32 266.82M337.85 269.18L342.38 271.26M339.72 264.91A128.02 128.02 0 0 1 337.85 269.18M329.09 262.81L338.81 267.06M332.22 254.85A117.41 117.41 0 0 1 329.09 262.81M306.4 249.27L330.73 258.86M310.07 237.8A91.26 91.26 0 0 1 306.4 249.27M297.82 240.2L308.42 243.6M301.43 221.44A80.12 80.12 0 0 1 297.82 240.2M291.38 229.24L300.18 230.93M292.71 251.67L340.28 275.63M331.4 276.27L338.03 279.91M329.13 280.23L335.61 284.12M331.4 276.27A125.44 125.44 0 0 1 329.13 280.23M304.92 263.7L330.28 278.26M330.53 286.59L333.05 288.23M327.88 290.52L330.34 292.24M330.53 286.59A130 130 0 0 1 327.88 290.52M324.81 285.58L329.23 288.57M324.85 294.16L327.48 296.15M321.92 297.87L324.48 299.96M324.85 294.16A129.69 129.69 0 0 1 321.92 297.87M319.45 292.92L323.4 296.03M324.81 285.58A124.67 124.67 0 0 1 319.45 292.92M307.07 278.26L322.2 289.3M303.64 288.07L321.35 303.66M315.05 304.36L318.09 307.23M311.76 307.71L314.69 310.69M315.05 304.36A128.82 128.82 0 0 1 311.76 307.71M301.98 294.81L313.42 306.05M304.87 307.12L311.17 314.02M305.6 314.94L307.54 317.22M301.93 317.93L303.79 320.29M305.6 314.94A130 130 0 0 1 301.93 317.93M299.76 311.54L303.78 316.45M304.87 307.12A123.65 123.65 0 0 1 299.76 311.54M295.24 301.14L302.35 309.36M301.98 294.81A112.78 112.78 0 0 1 295.24 301.14M296.36 295.58L298.67 298.04M303.64 288.07A109.4 109.4 0 0 1 296.36 295.58M297.6 289.5L300.09 291.91M307.07 278.26A105.94 105.94 0 0 1 297.6 289.5M297.44 279.75L302.53 284.04M293.96 315.04L299.93 323.22M294.28 323.52L295.96 326M290.31 326.1L291.9 328.64M294.28 323.52A130 130 0 0 1 290.31 326.1M288.43 318.85L292.31 324.82M293.96 315.04A122.88 122.88 0 0 1 288.43 318.85M286.73 310.47L291.22 316.98M283.23 323.27L287.74 331.13M282.1 330.81L283.5 333.47M277.87 332.94L279.17 335.65M282.1 330.81A130 130 0 0 1 277.87 332.94M277.27 326.48L279.99 331.9M283.23 323.27A123.94 123.94 0 0 1 277.27 326.48M276.01 317.02L280.27 324.92M286.73 310.47A114.96 114.96 0 0 1 276.01 317.02M279.28 310.33L281.46 313.89M269.96 326.66L274.77 337.67M268.57 335.15L270.29 339.53M264.19 336.78L265.76 341.22M268.57 335.15A128.29 128.29 0 0 1 264.19 336.78M263.83 329.14L266.39 335.99M269.96 326.66A120.99 120.99 0 0 1 263.83 329.14M263.08 318.49L266.91 327.94M279.28 310.33A110.79 110.79 0 0 1 263.08 318.49M269.36 310.79L271.35 314.74M253.22 317.32L261.16 342.75M269.36 310.79A106.36 106.36 0 0 1 253.22 317.32M258.76 307.82L261.42 314.39M297.44 279.75A99.28 99.28 0 0 1 258.76 307.82M278 293.65L279.81 296.15M304.92 263.7A96.19 96.19 0 0 1 278 293.65M285.93 273.7L293.04 280.1M252.73 330.27L256.51 344.11M248.54 331.33L251.81 345.3M252.73 330.27A118.65 118.65 0 0 1 248.54 331.33M242.78 299.77L250.64 330.82M285.93 273.7A86.63 86.63 0 0 1 242.78 299.77M262.73 284.05L266.29 289.95M292.71 251.67A79.73 79.73 0 0 1 262.73 284.05M273.72 264.15L280 269.97M291.38 229.24A71.16 71.16 0 0 1 273.72 264.15M282.17 246.5L285 247.93M242.67 323.82L247.08 346.32M238.72 324.52L242.31 347.16M242.67 323.82A110.07 110.07 0 0 1 238.72 324.52M233.36 282.76L240.7 324.18M282.17 246.5A68 68 0 0 1 233.36 282.76M233.88 322.78L236.79 347.92M231.68 344.84L231.96 348.39M226.97 345.13L227.12 348.68M231.68 344.84A129.44 129.44 0 0 1 226.97 345.13M228.01 323.29L229.33 345.01M233.88 322.78A107.69 107.69 0 0 1 228.01 323.29M229.4 305.45L230.95 323.07M222.22 339.54L222.27 348.8M217.71 339.49L217.43 348.74M222.22 339.54A123.75 123.75 0 0 1 217.71 339.49M220.19 321.45L219.96 339.54M212.78 345.51L212.58 348.5M208.06 345.1L207.75 348.09M212.78 345.51A130 130 0 0 1 208.06 345.1M210.81 340.76L210.42 345.33M204 339.99L202.94 347.5M210.81 340.76A125.41 125.41 0 0 1 204 339.99M208.97 326.51L207.4 340.42M198.79 343.17L198.15 346.73M194.16 342.26L193.39 345.8M198.79 343.17A129.38 129.38 0 0 1 194.16 342.26M198.03 334.84L196.47 342.74M189.78 340.35L188.67 344.69M185.26 339.11L184 343.4M189.78 340.35A128.53 128.53 0 0 1 185.26 339.11M189.42 332.81L187.51 339.75M198.03 334.84A121.33 121.33 0 0 1 189.42 332.81M195.97 324.26L193.7 333.9M208.97 326.51A111.42 111.42 0 0 1 195.97 324.26M203.13 321.59L202.44 325.58M181.86 334.51L179.37 341.95M175.85 337.52L174.8 340.33M171.45 335.78L170.29 338.55M175.85 337.52A130 130 0 0 1 171.45 335.78M175.43 332.17L173.64 336.67M181.86 334.51A125.15 125.15 0 0 1 175.43 332.17M184.72 316.68L178.63 333.38M203.13 321.59A107.37 107.37 0 0 1 184.72 316.68M194.26 317.89L193.82 319.54M220.19 321.45A105.66 105.66 0 0 1 194.26 317.89M207.27 319.33L207.11 320.48M170.79 325.88L165.85 336.6M166.81 323.96L161.49 334.49M170.79 325.88A121.2 121.2 0 0 1 166.81 323.96M176.05 309.9L168.79 324.94M207.27 319.33A104.5 104.5 0 0 1 176.05 309.9M192.84 310.7L191.29 315.84M161.32 324.76L157.2 332.22M157.39 322.5L153 329.8M161.32 324.76A124.48 124.48 0 0 1 157.39 322.5M172 301.69L159.34 323.65M192.84 310.7A99.13 99.13 0 0 1 172 301.69M185.79 298.41L182.16 306.79M229.4 305.45A90 90 0 0 1 185.79 298.41M151.38 322.96L148.67 327.09M147.5 320.32L144.64 324.35M151.38 322.96A128.06 128.06 0 0 1 147.5 320.32M158.47 308.38L149.43 321.65M153.47 304.77L140.72 321.46M158.47 308.38A112 112 0 0 1 153.47 304.77M146.05 306.36L136.37 317.98M142.87 303.62L132.78 314.89M146.05 306.36A117.88 117.88 0 0 1 142.87 303.62M159.4 287.69L144.45 305M135.09 305.66L129.31 311.67M131.94 302.53L125.96 308.32M135.09 305.66A124.67 124.67 0 0 1 131.94 302.53M148.45 289.11L133.5 304.11M127.58 300.49L122.72 304.86M124.62 297.09L119.62 301.29M127.58 300.49A126.47 126.47 0 0 1 124.62 297.09M139.75 286.91L126.08 298.8M134.78 283.45L116.64 297.61M124.62 285.98L113.79 293.83M113.57 288.27L111.08 289.94M111.06 284.38L108.51 285.96M113.57 288.27A130 130 0 0 1 111.06 284.38M113.84 285.34L112.3 286.34M110.28 279.49L106.09 281.9M113.84 285.34A128.16 128.16 0 0 1 110.28 279.49M119.31 278.01L112.02 282.44M124.62 285.98A119.64 119.64 0 0 1 119.31 278.01M129.92 276.71L121.88 282.05M134.78 283.45A109.99 109.99 0 0 1 129.92 276.71M133.61 279.17L132.28 280.13M139.75 286.91A108.35 108.35 0 0 1 133.61 279.17M140.4 280.09L136.59 283.11M148.45 289.11A103.5 103.5 0 0 1 140.4 280.09M146.63 282.63L144.29 284.72M107.82 275.64L103.81 277.75M105.76 271.55L101.68 273.52M107.82 275.64A128.47 128.47 0 0 1 105.76 271.55M120.53 266.67L106.77 273.6M117.96 261.21L99.7 269.22M120.53 266.67A113.06 113.06 0 0 1 117.96 261.21M130.7 258.55L119.21 263.96M146.63 282.63A100.36 100.36 0 0 1 130.7 258.55M139.56 270L137.8 271.16M105.48 261.83L97.87 264.85M103.91 257.67L96.21 260.42M105.48 261.83A124.82 124.82 0 0 1 103.91 257.67M129.55 250.4L104.68 259.76M139.56 270A98.25 98.25 0 0 1 129.55 250.4M136.89 259L134 260.48M159.4 287.69A95 95 0 0 1 136.89 259M110.06 246.49L93.28 251.12M95.01 245.82L92.09 246.51M94.02 241.27L91.08 241.86M95.01 245.82A130 130 0 0 1 94.02 241.27M108.58 240.47L94.5 243.55M110.06 246.49A115.59 115.59 0 0 1 108.58 240.47M119.56 240.96L109.28 243.49M100.73 235.47L90.23 237.18M100.11 231.14L89.55 232.47M100.73 235.47A122.36 122.36 0 0 1 100.11 231.14M117.58 230.82L100.4 233.3M119.56 240.96A105 105 0 0 1 117.58 230.82M175.68 219.81L89.01 227.39M96.86 222.21L88.68 222.63M96.71 217.73L88.52 217.85M96.86 222.21A124.8 124.8 0 0 1 96.71 217.73M159.68 217.87L96.77 219.97M103.2 213.38L88.53 213.08M91.96 208.49L88.71 208.3M92.3 203.84L89.07 203.54M91.96 208.49A129.75 129.75 0 0 1 92.3 203.84M103.5 207.01L92.11 206.16M103.2 213.38A118.33 118.33 0 0 1 103.5 207.01M131.77 211.54L103.31 210.19M124.53 203.3L89.59 198.79M96.96 195.17L90.29 194.07M97.78 190.71L91.15 189.37M96.96 195.17A126.24 126.24 0 0 1 97.78 190.71M112.18 195.67L97.35 192.94M99.01 186.35L92.19 184.71M96.28 180.89L93.39 180.08M97.61 176.42L94.75 175.51M96.28 180.89A130 130 0 0 1 97.61 176.42M100.77 179.79L96.92 178.65M99.01 186.35A125.98 125.98 0 0 1 100.77 179.79M114.17 186.91L99.85 183.06M112.18 195.67A111.15 111.15 0 0 1 114.17 186.91M117.9 192.36L113.09 191.27M99.1 171.99L96.28 170.98M100.76 167.63L97.97 166.51M99.1 171.99A130 130 0 0 1 100.76 167.63M103.65 171.22L99.91 169.8M106.23 164.94L99.82 162.11M103.65 171.22A126 126 0 0 1 106.23 164.94M113.25 171.48L104.9 168.06M116.24 164.77L101.83 157.77M113.25 171.48A116.98 116.98 0 0 1 116.24 164.77M122.87 171.75L114.69 168.1M108.06 155.67L103.99 153.52M110.29 151.64L106.3 149.34M108.06 155.67A128.39 128.39 0 0 1 110.29 151.64M120.3 159.81L109.15 153.65M123.46 154.44L108.76 145.24M120.3 159.81A115.66 115.66 0 0 1 123.46 154.44M128.42 160.98L121.84 157.1M122.87 171.75A108.02 108.02 0 0 1 128.42 160.98M127.09 167.11L125.49 166.29M117.9 192.36A106.22 106.22 0 0 1 127.09 167.11M123.65 180.16L121.69 179.44M118.48 146.06L111.37 141.24M121.05 142.4L114.11 137.33M118.48 146.06A124.4 124.4 0 0 1 121.05 142.4M131.41 152.42L119.75 144.22M122.52 137.87L117 133.53M125.38 134.37L120.02 129.83M122.52 137.87A125.98 125.98 0 0 1 125.38 134.37M134.68 144.89L123.93 136.11M125.39 128.26L123.17 126.24M128.6 124.87L126.45 122.77M125.39 128.26A130 130 0 0 1 128.6 124.87M130.09 129.49L126.98 126.55M134.87 124.69L129.86 119.41M130.09 129.49A125.72 125.72 0 0 1 134.87 124.69M140.06 134.64L132.45 127.06M135.36 118.43L133.38 116.19M138.91 115.4L137.01 113.09M135.36 118.43A130 130 0 0 1 138.91 115.4M141.75 122.32L137.13 116.9M146.9 118.16L140.75 110.12M141.75 122.32A122.88 122.88 0 0 1 146.9 118.16M147.75 124.49L144.29 120.2M146.33 109.73L144.6 107.29M150.19 107.1L148.54 104.6M146.33 109.73A130 130 0 0 1 150.19 107.1M155.36 118.83L148.25 108.4M147.75 124.49A117.38 117.38 0 0 1 155.36 118.83M152.93 123.5L151.5 121.58M140.06 134.64A114.98 114.98 0 0 1 152.93 123.5M148.17 131.01L146.29 128.83M134.68 144.89A112.1 112.1 0 0 1 148.17 131.01M142.53 139.02L141.13 137.66M131.41 152.42A110.15 110.15 0 0 1 142.53 139.02M141.33 149.33L136.71 145.5M123.65 180.16A104.14 104.14 0 0 1 141.33 149.33M136.69 167.15L131.16 163.99M124.53 203.3A97.77 97.77 0 0 1 136.69 167.15M136.36 187.16L128.83 184.63M131.77 211.54A89.83 89.83 0 0 1 136.36 187.16M139.26 200.33L133.22 199.19M158.64 112.04L152.58 102.05M162.41 109.85L156.71 99.65M158.64 112.04A121.31 121.31 0 0 1 162.41 109.85M179.43 143.46L160.51 110.93M139.26 200.33A83.69 83.69 0 0 1 179.43 143.46M163.98 175.17L153.15 167.52M171.98 119L160.93 97.39M168.84 103.06L165.22 95.3M172.92 101.24L169.58 93.35M168.84 103.06A124.43 124.43 0 0 1 172.92 101.24M177.26 116.47L170.88 102.13M171.98 119A108.74 108.74 0 0 1 177.26 116.47M180.05 129.1L174.6 117.7M176.38 97.76L174.01 91.57M180.65 96.22L178.5 89.94M176.38 97.76A126.37 126.37 0 0 1 180.65 96.22M188.8 125.43L178.51 96.97M180.05 129.1A96.1 96.1 0 0 1 188.8 125.43M186.58 132.39L184.38 127.16M184.03 91.72L183.05 88.48M188.51 90.45L187.65 87.18M184.03 91.72A129.62 129.62 0 0 1 188.51 90.45M188.71 99.73L186.26 91.07M193.02 89.32L192.29 86.05M197.58 88.38L196.96 85.08M193.02 89.32A129.65 129.65 0 0 1 197.58 88.38M197.12 97.68L195.3 88.83M188.71 99.73A120.61 120.61 0 0 1 197.12 97.68M198.73 122.52L192.9 98.63M202.82 91.88L201.67 84.29M207.28 91.28L206.41 83.66M202.82 91.88A125.32 125.32 0 0 1 207.28 91.28M208.89 120.61L205.05 91.56M198.73 122.52A96.02 96.02 0 0 1 208.89 120.61M204.82 126.93L203.79 121.43M186.58 132.39A90.42 90.42 0 0 1 204.82 126.93M198.06 137.56L195.55 129.18M212.33 98.13L211.16 83.2M216.56 97.88L215.93 82.92M212.33 98.13A118.03 118.03 0 0 1 216.56 97.88M216.62 134.28L214.44 97.98M198.06 137.56A81.67 81.67 0 0 1 216.62 134.28M209.21 146.45L207.24 135.38M163.98 175.17A70.43 70.43 0 0 1 209.21 146.45M188.35 163.58L183.76 156.34M159.68 217.87A61.85 61.85 0 0 1 188.35 163.58M180.82 194.32L166.81 186.91M175.68 219.81A46 46 0 0 1 180.82 194.32M220.59 85.8L220.57 82.8M225.81 85.87L225.91 82.87M220.59 85.8A130 130 0 0 1 225.81 85.87M223.04 97.81L223.2 85.81M231.02 86.23L231.24 83.16M236.21 86.71L236.56 83.65M231.02 86.23A129.92 129.92 0 0 1 236.21 86.71M232.5 98.31L233.61 86.45M223.04 97.81A118 118 0 0 1 232.5 98.31M244.32 97.28L246.65 85.2M250.64 89.11L251.32 86.19M255.17 90.24L255.95 87.34M250.64 89.11A130 130 0 0 1 255.17 90.24M252.48 91.39L252.91 89.65M259.12 93.23L260.53 88.66M252.48 91.39A128.21 128.21 0 0 1 259.12 93.23M253.8 99.51L255.81 92.27M244.32 97.28A120.69 120.69 0 0 1 253.8 99.51M247.32 105.8L249.08 98.3M264.08 92.97L265.06 90.14M268.46 94.58L269.54 91.78M264.08 92.97A130 130 0 0 1 268.46 94.58M263.18 102.19L266.28 93.75M271.99 98.17L273.96 93.58M276.17 100.06L278.31 95.54M271.99 98.17A128 128 0 0 1 276.17 100.06M271.22 105.47L274.09 99.1M263.18 102.19A121.02 121.02 0 0 1 271.22 105.47M264.2 111.19L267.23 103.76M247.32 105.8A112.99 112.99 0 0 1 264.2 111.19M255.21 110.21L255.87 108.17M272.41 117.34L282.58 97.66M255.21 110.21A110.84 110.84 0 0 1 272.41 117.34M261.95 118.25L263.96 113.41M281.1 110L286.78 99.92M288.59 106.1L290.89 102.34M292.48 108.58L294.92 104.9M288.59 106.1A128.59 128.59 0 0 1 292.48 108.58M286.7 113.36L290.55 107.32M281.1 110A121.43 121.43 0 0 1 286.7 113.36M278.6 120.54L283.93 111.64M294.53 113.64L298.85 107.6M298.14 116.33L302.68 110.45M294.53 113.64A125.57 125.57 0 0 1 298.14 116.33M287.7 126.62L296.35 114.97M278.6 120.54A111.06 111.06 0 0 1 287.7 126.62M280.19 128.01L283.22 123.47M261.95 118.25A105.6 105.6 0 0 1 280.19 128.01M270.08 124.98L271.31 122.68M303.42 117.02L306.4 113.43M306.91 120.02L310.02 116.54M303.42 117.02A128.33 128.33 0 0 1 306.91 120.02M296.98 128.04L305.18 118.5M308.42 125.1L313.52 119.77M311.62 128.27L316.91 123.14M308.42 125.1A125.63 125.63 0 0 1 311.62 128.27M303.07 133.68L310.03 126.67M296.98 128.04A115.75 115.75 0 0 1 303.07 133.68M294.88 136.42L300.07 130.81M317.83 128.73L320.17 126.62M320.89 132.24L323.3 130.21M317.83 128.73A129.85 129.85 0 0 1 320.89 132.24M316.01 133.41L319.38 130.47M320.3 138.61L326.31 133.92M316.01 133.41A125.38 125.38 0 0 1 320.3 138.61M304.86 146.98L318.19 135.98M294.88 136.42A108.1 108.1 0 0 1 304.86 146.98M296.34 145.04L300.05 141.53M270.08 124.98A103 103 0 0 1 296.34 145.04M319.56 150.16L332.02 141.81M322.22 154.32L335.02 146.51M319.56 150.16A118 118 0 0 1 322.22 154.32M300.06 171.89L337.6 150.91M334.77 157.72L339.85 155.12M336.78 161.82L341.95 159.4M334.77 157.72A127.29 127.29 0 0 1 336.78 161.82M323.9 165.6L335.79 159.76M326.45 171.17L343.89 163.76M323.9 165.6A114.04 114.04 0 0 1 326.45 171.17M316.49 172.35L325.21 168.37M334.36 172.52L345.68 168.18M335.84 176.59L347.31 172.66M334.36 172.52A120.88 120.88 0 0 1 335.84 176.59M319.69 180.15L335.12 174.55M316.49 172.35A104.46 104.46 0 0 1 319.69 180.15M314.8 177.6L318.17 176.22M345.03 178.33L348.77 177.2M346.29 182.79L350.08 181.78M345.03 178.33A129.09 129.09 0 0 1 346.29 182.79M318.49 188.27L345.68 180.55M314.8 177.6A100.82 100.82 0 0 1 318.49 188.27M309.52 185.4L316.79 182.88M333.86 190.35L351.21 186.42M349.24 191.64L352.18 191.09M350.02 196.24L352.99 195.79M349.24 191.64A130 130 0 0 1 350.02 196.24M346.34 194.5L349.65 193.94M347.3 201.24L353.62 200.51M346.34 194.5A126.64 126.64 0 0 1 347.3 201.24M335.55 199.49L346.86 197.87M333.86 190.35A115.21 115.21 0 0 1 335.55 199.49M313.08 198.91L334.8 194.9M309.52 185.4A93.13 93.13 0 0 1 313.08 198.91M308.53 192.88L311.55 192.08M300.06 171.89A90 90 0 0 1 308.53 192.88M208.75 294.78L207.15 304.65M174.68 280.66L155.95 306.61M208.75 294.78A80 80 0 0 1 174.68 280.66M153.84 268.88L146.76 274.44M139.53 241.8L94.73 256.02M153.84 268.88A86 86 0 0 1 139.53 241.8M194.71 280.47L190.89 289.71M159.61 248.51L145.47 255.99M194.71 280.47A70 70 0 0 1 159.61 248.51M258.47 265.57L262.04 270.39M179.76 261.64L174.37 267.56M258.47 265.57A62 62 0 0 1 179.76 261.64M206.75 270.86L205.45 275.69M165.56 226.72L118.44 235.91M206.75 270.86A57 57 0 0 1 165.56 226.72M183.27 208.08L176.41 206.69M223.58 176.86L227.78 97.97M183.27 208.08A39 39 0 0 1 223.58 176.86M236.17 119.92L241.62 84.33M280.38 138.72L284.02 133.95M236.17 119.92A97 97 0 0 1 280.38 138.72M218.54 181.93L218.1 176.95M234.81 184.51L259.46 126.54M218.54 181.93A34 34 0 0 1 234.81 184.51M200.49 235.05L179.48 254.31M232.54 189.53L234.68 184.46M200.49 235.05A28.5 28.5 0 0 1 232.54 189.53M310.49 151.14L329.1 137.62M314.17 156.54L320.91 152.23M310.49 151.14A110 110 0 0 1 314.17 156.54M203.07 202.89L198.15 199.45M240.09 203.12L312.37 153.81M203.07 202.89A22.5 22.5 0 0 1 240.09 203.12M221.5 198.8L221.5 193.3M237.26 209.44L304.96 182.12M221.5 198.8A17 17 0 0 1 237.26 209.44M227.73 207.97L232.08 202.5M231.47 215.03L354.11 205.6M227.73 207.97A10 10 0 0 1 231.47 215.03M225.91 213.45L230.33 211.11" fill="none" stroke="#505050" stroke-width="0.95"/>
<circle cx="221.5" cy="215.8" r="4.6" fill="#fff" stroke="#111" stroke-width="1.5"/>
<circle cx="97.23" cy="154.65" r="2.1" fill="#00b6f5"/>
<circle cx="159.49" cy="91.96" r="2.1" fill="#00b6f5"/>
<circle cx="164.51" cy="89.57" r="2.1" fill="#00b6f5"/>
<circle cx="178.47" cy="84.15" r="2.1" fill="#00b6f5"/>
<circle cx="193.18" cy="80.23" r="2.1" fill="#00b6f5"/>
<circle cx="197.93" cy="79.32" r="2.1" fill="#00b6f5"/>
<circle cx="203.18" cy="78.52" r="2.1" fill="#00b6f5"/>
<circle cx="233.33" cy="77.81" r="2.1" fill="#00b6f5"/>
<circle cx="238.14" cy="78.3" r="2.1" fill="#00b6f5"/>
<circle cx="242.69" cy="78.93" r="2.1" fill="#00b6f5"/>
<circle cx="252.66" cy="80.85" r="2.1" fill="#00b6f5"/>
<circle cx="289.49" cy="95.14" r="2.1" fill="#00b6f5"/>
<circle cx="294.28" cy="97.96" r="2.1" fill="#00b6f5"/>
<circle cx="318.06" cy="116.51" r="2.1" fill="#00b6f5"/>
<circle cx="339.97" cy="144.05" r="2.1" fill="#00b6f5"/>
<circle cx="342.52" cy="148.44" r="2.1" fill="#00b6f5"/>
<circle cx="352.77" cy="171.62" r="2.1" fill="#00b6f5"/>
<circle cx="345.12" cy="278.25" r="2.1" fill="#00b6f5"/>
<circle cx="342.63" cy="282.95" r="2.1" fill="#00b6f5"/>
<circle cx="340.09" cy="287.34" r="2.1" fill="#00b6f5"/>
<circle cx="298.55" cy="330.89" r="2.1" fill="#00b6f5"/>
<circle cx="303.1" cy="327.71" r="2.1" fill="#00b6f5"/>
<circle cx="84.82" cy="238.18" r="2.1" fill="#00b6f5"/>
<circle cx="87.97" cy="252.58" r="2.1" fill="#00b6f5"/>
<path d="M364.4 211.1L406.8 209.3" stroke="#231f20" stroke-width="0.8"/>
<line x1="364.4" y1="210.8" x2="364.4" y2="212.7" stroke="#231f20" stroke-width="0.7"/>
<line x1="378.53" y1="210.2" x2="378.53" y2="212.1" stroke="#231f20" stroke-width="0.7"/>
<line x1="392.67" y1="209.6" x2="392.67" y2="211.5" stroke="#231f20" stroke-width="0.7"/>
<line x1="406.8" y1="209" x2="406.8" y2="210.9" stroke="#231f20" stroke-width="0.7"/>
<text x="361.4" y="213.1" font-size="6" text-anchor="middle" fill="#231f20" transform="rotate(-2.5 361.4 213.1)">0</text>
<text x="412.2" y="211.0" font-size="6" text-anchor="middle" fill="#231f20" transform="rotate(-2.5 412.2 211)">1.5</text>
<text x="212" y="19.8" font-size="8.5" text-anchor="middle" dominant-baseline="central" fill="#231f20" transform="rotate(-3 212 19.8)">Lagomorpha</text>
<text x="283.2" y="31.5" font-size="8.5" text-anchor="middle" dominant-baseline="central" fill="#231f20" transform="rotate(19 283.2 31.5)">Scandentia</text>
<text x="332.1" y="55.6" font-size="8.5" text-anchor="middle" dominant-baseline="central" fill="#231f20" transform="rotate(35 332.1 55.6)">Primates</text>
<text x="356.3" y="90.4" font-size="8.5" text-anchor="middle" dominant-baseline="central" fill="#231f20" transform="rotate(47 356.3 90.4)">Xenathra</text>
<text x="380.5" y="124.3" font-size="8.5" text-anchor="middle" dominant-baseline="central" fill="#231f20" transform="rotate(58 380.5 124.3)">Afrotheria</text>
<text x="404.2" y="149.4" font-size="8.5" text-anchor="middle" dominant-baseline="central" fill="#231f20" transform="rotate(67 404.2 149.4)">Metatheria</text>
<text x="415" y="239.2" font-size="8.5" text-anchor="middle" dominant-baseline="central" fill="#231f20" transform="rotate(95.3 415 239.2)">Monotremata</text>
<text x="372.5" y="338.4" font-size="8.5" text-anchor="middle" dominant-baseline="central" fill="#231f20" transform="rotate(-50 372.5 338.4)">Chiroptera</text>
<text x="178.2" y="406" font-size="8.5" text-anchor="middle" dominant-baseline="central" fill="#231f20" transform="rotate(15 178.2 406)">Artiodactyla</text>
<text x="110.4" y="374.9" font-size="8.5" text-anchor="middle" dominant-baseline="central" fill="#231f20" transform="rotate(35 110.4 374.9)">Perissodactyla</text>
<text x="63.9" y="330.5" font-size="8.5" text-anchor="middle" dominant-baseline="central" fill="#231f20" transform="rotate(53 63.9 330.5)">Carnivora</text>
<text x="52.6" y="290.6" font-size="8.5" text-anchor="middle" dominant-baseline="central" fill="#231f20" transform="rotate(64 52.6 290.6)">Pholidota</text>
<text x="32.8" y="253.8" font-size="8.5" text-anchor="middle" dominant-baseline="central" fill="#231f20" transform="rotate(76.5 32.8 253.8)">Eulipotyphla</text>
<text x="78.8" y="83.2" font-size="8.5" text-anchor="middle" dominant-baseline="central" fill="#231f20" transform="rotate(-45 78.8 83.2)">Rodentia</text>
<line x1="238.4" y1="21.2" x2="245.7" y2="13.4" stroke="#231f20" stroke-width="1.4"/>
<line x1="262.6" y1="23.2" x2="260.8" y2="15.6" stroke="#231f20" stroke-width="1.4"/>
<line x1="363" y1="90.4" x2="389.2" y2="98.1" stroke="#231f20" stroke-width="1.4"/>
<line x1="392" y1="103.4" x2="387.5" y2="120.9" stroke="#231f20" stroke-width="1.4"/>
<line x1="417.9" y1="213.7" x2="424.7" y2="197.6" stroke="#231f20" stroke-width="1.4"/>
<line x1="27.4" y1="277.6" x2="47.9" y2="290.5" stroke="#231f20" stroke-width="1.4"/>
<rect x="408.0" y="368.8" width="243.4" height="49.3" fill="none" stroke="#1a1a1a" stroke-width="1.4" stroke-dasharray="9 5.4"/>
<text x="416" y="384" font-size="8.4" text-anchor="start" fill="#231f20" font-weight="normal" font-style="normal">Proportion of plant tissue in diet</text>
<defs><linearGradient id="gdiet" x1="0" x2="1" y1="0" y2="0"><stop offset="0" stop-color="#f3d98a"/><stop offset="1" stop-color="#7fc4b6"/></linearGradient><linearGradient id="ggray" x1="0" x2="0" y1="0" y2="1"><stop offset="0" stop-color="#c4c4c4"/><stop offset="0.4" stop-color="#c8c8c8"/><stop offset="0.6" stop-color="#d4d4d4"/><stop offset="0.8" stop-color="#e3e3e3"/><stop offset="1" stop-color="#fbfbfb"/></linearGradient><linearGradient id="ggray2" x1="0" x2="0" y1="0" y2="1"><stop offset="0" stop-color="#c4c4c4"/><stop offset="1" stop-color="#fbfbfb"/></linearGradient></defs>
<rect x="447.9" y="391" width="51.1" height="13.7" fill="url(#gdiet)"/>
<text x="448.2" y="412.6" font-size="8.2" text-anchor="middle" fill="#231f20" font-weight="normal" font-style="normal">0</text>
<text x="499.6" y="412.6" font-size="8.2" text-anchor="middle" fill="#231f20" font-weight="normal" font-style="normal">100</text>
<circle cx="558.2" cy="381.8" r="4.8" fill="#00b6f5"/>
<text x="566.8" y="385" font-size="8.4" text-anchor="start" fill="#231f20" font-weight="normal" font-style="normal">MTS-nonfunctional</text>
<rect x="553.1" y="397.2" width="9.5" height="9.8" fill="#cccccc"/>
<text x="566.8" y="405.8" font-size="8.4" text-anchor="start" fill="#231f20" font-weight="normal" font-style="normal">ATG1/ATG2</text>
<text x="373" y="8.4" font-size="8.4" text-anchor="start" fill="#231f20" font-weight="bold" font-style="normal">b</text>
<text x="387.2" y="14.2" font-size="8.5" text-anchor="start" fill="#231f20" font-weight="normal" font-style="normal">Upstream transcription start site</text>
<text x="522.6" y="14.2" font-size="8.5" text-anchor="start" fill="#231f20" font-weight="normal" font-style="normal">Downstream transcription start site</text>
<text x="412.8" y="25.6" font-size="8.5" text-anchor="start" fill="#231f20" font-weight="normal" font-style="normal">Upstream translation start site</text>
<text x="550.8" y="25.6" font-size="8.5" text-anchor="start" fill="#231f20" font-weight="normal" font-style="normal">Downstream translation start site</text>
<line x1="407" y1="17" x2="407" y2="41.3" stroke="#231f20" stroke-width="0.9"/>
<path d="M405.24 40.42L408.76 40.42L407 43.5Z" fill="#231f20"/>
<line x1="448.4" y1="27.2" x2="448.4" y2="33.4" stroke="#231f20" stroke-width="0.9"/>
<path d="M446.64 32.52L450.16 32.52L448.4 35.6Z" fill="#231f20"/>
<line x1="528.6" y1="16.5" x2="528.6" y2="31.8" stroke="#231f20" stroke-width="0.9"/>
<path d="M526.84 30.92L530.36 30.92L528.6 34Z" fill="#231f20"/>
<line x1="560.2" y1="27.2" x2="560.2" y2="33.4" stroke="#231f20" stroke-width="0.9"/>
<path d="M558.44 32.52L561.96 32.52L560.2 35.6Z" fill="#231f20"/>
<line x1="471.3" y1="38.2" x2="443" y2="38.2" stroke="#231f20" stroke-width="0.9"/>
<path d="M443.88 36.44L443.88 39.96L440.8 38.2Z" fill="#231f20"/>
<text x="492.9" y="41.3" font-size="8.5" text-anchor="middle" fill="#231f20" font-weight="normal" font-style="normal">MTS</text>
<line x1="513.8" y1="38.2" x2="541.2" y2="38.2" stroke="#231f20" stroke-width="0.9"/>
<path d="M540.32 36.44L540.32 39.96L543.4 38.2Z" fill="#231f20"/>
<line x1="566" y1="38.2" x2="554.6" y2="38.2" stroke="#231f20" stroke-width="0.9"/>
<path d="M555.48 36.44L555.48 39.96L552.4 38.2Z" fill="#231f20"/>
<text x="594.5" y="41.3" font-size="8.5" text-anchor="middle" fill="#231f20" font-weight="normal" font-style="normal">Mature region</text>
<line x1="623" y1="38.2" x2="635.4" y2="38.2" stroke="#231f20" stroke-width="0.9"/>
<path d="M634.52 36.44L634.52 39.96L637.6 38.2Z" fill="#231f20"/>
<text x="652.6" y="41.3" font-size="8.5" text-anchor="middle" fill="#231f20" font-weight="normal" font-style="normal">PTS1</text>
<line x1="640.4" y1="33.6" x2="640.4" y2="42.2" stroke="#231f20" stroke-width="0.9"/>
<line x1="665" y1="33.6" x2="665" y2="42.2" stroke="#231f20" stroke-width="0.9"/>
<rect x="406.5" y="57.9" width="74.8" height="6.6" fill="#f2f2f2" stroke="#e0e0e0" stroke-width="0.6"/>
<rect x="485.3" y="57.9" width="111.3" height="6.6" fill="#f2f2f2" stroke="#e0e0e0" stroke-width="0.6"/>
<rect x="600.1" y="57.9" width="14.5" height="6.6" fill="#f2f2f2" stroke="#e0e0e0" stroke-width="0.6"/>
<rect x="406.5" y="66.16" width="98.2" height="6.6" fill="#f2f2f2" stroke="#e0e0e0" stroke-width="0.6"/>
<rect x="507.5" y="66.16" width="107.1" height="6.6" fill="#f2f2f2" stroke="#e0e0e0" stroke-width="0.6"/>
<rect x="415.2" y="74.42" width="34.3" height="6.6" fill="#f2f2f2" stroke="#e0e0e0" stroke-width="0.6"/>
<rect x="453.3" y="74.42" width="111.1" height="6.6" fill="#f2f2f2" stroke="#e0e0e0" stroke-width="0.6"/>
<rect x="568.4" y="74.42" width="46.2" height="6.6" fill="#f2f2f2" stroke="#e0e0e0" stroke-width="0.6"/>
<rect x="415.2" y="82.68" width="59.6" height="6.6" fill="#f2f2f2" stroke="#e0e0e0" stroke-width="0.6"/>
<rect x="478.3" y="82.68" width="111.3" height="6.6" fill="#f2f2f2" stroke="#e0e0e0" stroke-width="0.6"/>
<rect x="593.1" y="82.68" width="21.5" height="6.6" fill="#f2f2f2" stroke="#e0e0e0" stroke-width="0.6"/>
<rect x="425.2" y="90.94" width="111.6" height="6.6" fill="#f2f2f2" stroke="#e0e0e0" stroke-width="0.6"/>
<rect x="540.3" y="90.94" width="74.3" height="6.6" fill="#f2f2f2" stroke="#e0e0e0" stroke-width="0.6"/>
<rect x="450.2" y="99.2" width="111.4" height="6.6" fill="#f2f2f2" stroke="#e0e0e0" stroke-width="0.6"/>
<rect x="565.6" y="99.2" width="49" height="6.6" fill="#f2f2f2" stroke="#e0e0e0" stroke-width="0.6"/>
<rect x="492.3" y="107.46" width="111.3" height="6.6" fill="#f2f2f2" stroke="#e0e0e0" stroke-width="0.6"/>
<rect x="607.1" y="107.46" width="7.5" height="6.6" fill="#f2f2f2" stroke="#e0e0e0" stroke-width="0.6"/>
<rect x="516.8" y="115.72" width="97.8" height="6.6" fill="#f2f2f2" stroke="#e0e0e0" stroke-width="0.6"/>
<rect x="500" y="123.98" width="114.6" height="6.6" fill="#f2f2f2" stroke="#e0e0e0" stroke-width="0.6"/>
<rect x="513.3" y="132.24" width="101.3" height="6.6" fill="#f2f2f2" stroke="#e0e0e0" stroke-width="0.6"/>
<line x1="436.2" y1="34.1" x2="436.2" y2="42.0" stroke="#333" stroke-width="1"/>
<line x1="548.4" y1="34.1" x2="548.4" y2="42.0" stroke="#333" stroke-width="1"/>
<line x1="436.2" y1="50.6" x2="436.2" y2="152.6" stroke="#333" stroke-width="1" stroke-dasharray="10.2 3.7"/>
<line x1="461.7" y1="50.6" x2="461.7" y2="152.6" stroke="#333" stroke-width="1" stroke-dasharray="10.2 3.7"/>
<line x1="548.4" y1="50.6" x2="548.4" y2="152.6" stroke="#333" stroke-width="1" stroke-dasharray="10.2 3.7"/>
<line x1="573.7" y1="50.6" x2="573.7" y2="152.6" stroke="#333" stroke-width="1" stroke-dasharray="10.2 3.7"/>
<rect x="406.6" y="44.5" width="258.4" height="8.9" fill="#ffffff"/>
<rect x="436.2" y="44.5" width="112.2" height="8.9" fill="#838383"/>
<rect x="640.3" y="44.5" width="24.7" height="8.9" fill="#b3b3b3"/>
<rect x="406.6" y="44.5" width="258.4" height="8.9" fill="none" stroke="#1a1a1a" stroke-width="1"/>
<line x1="436.2" y1="44.5" x2="436.2" y2="53.4" stroke="#1a1a1a" stroke-width="1"/>
<line x1="461.7" y1="44.5" x2="461.7" y2="53.4" stroke="#1a1a1a" stroke-width="1"/>
<line x1="528.6" y1="44.5" x2="528.6" y2="53.4" stroke="#1a1a1a" stroke-width="1"/>
<line x1="548.4" y1="44.5" x2="548.4" y2="53.4" stroke="#1a1a1a" stroke-width="1"/>
<line x1="573.7" y1="44.5" x2="573.7" y2="53.4" stroke="#1a1a1a" stroke-width="1"/>
<line x1="640.3" y1="44.5" x2="640.3" y2="53.4" stroke="#1a1a1a" stroke-width="1"/>
<text x="448.9" y="52" font-size="8.4" text-anchor="middle" fill="#111" font-weight="normal" font-style="normal">ATG</text>
<text x="561" y="52" font-size="8.4" text-anchor="middle" fill="#111" font-weight="normal" font-style="normal">ATG</text>
<text x="449" y="149.3" font-size="8.2" text-anchor="middle" fill="#231f20" font-weight="normal" font-style="normal">ATG1</text>
<text x="561" y="149.3" font-size="8.2" text-anchor="middle" fill="#231f20" font-weight="normal" font-style="normal">ATG2</text>
<text x="468" y="181.6" font-size="8.4" text-anchor="start" fill="#231f20" font-weight="bold" font-style="normal">c</text>
<text x="501" y="178.3" font-size="8.2" text-anchor="start" fill="#231f20" font-weight="normal" font-style="normal">R² = 0.11</text>
<text x="501" y="188.3" font-size="8.2" fill="#231f20"><tspan font-style="italic">P</tspan> = 3.53×10<tspan font-size="5.2" dy="-3">-5</tspan></text>
<line x1="640.2" y1="192.5" x2="640.2" y2="324.9" stroke="#d9d9d9" stroke-width="0.6"/>
<g fill="#7f7f7f" fill-opacity="0.72"><circle cx="503.8" cy="206.25" r="3.3"/><circle cx="503.8" cy="210.89" r="3.3"/><circle cx="503.8" cy="224.05" r="3.3"/><circle cx="503.8" cy="225.6" r="3.3"/><circle cx="503.8" cy="234.11" r="3.3"/><circle cx="503.8" cy="237.21" r="3.3"/><circle cx="503.8" cy="241.85" r="3.3"/><circle cx="503.8" cy="245.72" r="3.3"/><circle cx="503.8" cy="248.82" r="3.3"/><circle cx="503.8" cy="252.69" r="3.3"/><circle cx="503.8" cy="255.78" r="3.3"/><circle cx="503.8" cy="258.88" r="3.3"/><circle cx="503.8" cy="261.98" r="3.3"/><circle cx="503.8" cy="265.07" r="3.3"/><circle cx="503.8" cy="268.17" r="3.3"/><circle cx="503.8" cy="271.26" r="3.3"/><circle cx="503.8" cy="274.36" r="3.3"/><circle cx="503.8" cy="277.46" r="3.3"/><circle cx="503.8" cy="280.55" r="3.3"/><circle cx="503.8" cy="283.65" r="3.3"/><circle cx="503.8" cy="285.97" r="3.3"/><circle cx="503.8" cy="288.29" r="3.3"/><circle cx="503.8" cy="291.39" r="3.3"/><circle cx="503.8" cy="294.48" r="3.3"/><circle cx="503.8" cy="297.58" r="3.3"/><circle cx="503.8" cy="301.45" r="3.3"/><circle cx="503.8" cy="305.32" r="3.3"/><circle cx="503.8" cy="307.64" r="3.3"/><circle cx="503.8" cy="316.93" r="3.3"/><circle cx="516.95" cy="249.59" r="3.3"/><circle cx="516.95" cy="266.62" r="3.3"/><circle cx="516.95" cy="272.04" r="3.3"/><circle cx="516.95" cy="274.36" r="3.3"/><circle cx="516.95" cy="283.65" r="3.3"/><circle cx="530.1" cy="269.72" r="3.3"/><circle cx="543.25" cy="279.78" r="3.3"/><circle cx="556.4" cy="247.27" r="3.3"/><circle cx="556.4" cy="258.88" r="3.3"/><circle cx="556.4" cy="301.45" r="3.3"/><circle cx="556.4" cy="309.19" r="3.3"/><circle cx="556.4" cy="313.06" r="3.3"/><circle cx="556.4" cy="320.03" r="3.3"/><circle cx="569.55" cy="269.72" r="3.3"/><circle cx="569.55" cy="307.64" r="3.3"/><circle cx="569.55" cy="315.38" r="3.3"/><circle cx="569.55" cy="318.48" r="3.3"/><circle cx="582.7" cy="256.56" r="3.3"/><circle cx="582.7" cy="264.3" r="3.3"/><circle cx="582.7" cy="284.42" r="3.3"/><circle cx="582.7" cy="302.22" r="3.3"/><circle cx="582.7" cy="305.32" r="3.3"/><circle cx="595.85" cy="253.46" r="3.3"/><circle cx="595.85" cy="271.26" r="3.3"/><circle cx="595.85" cy="276.68" r="3.3"/><circle cx="595.85" cy="282.1" r="3.3"/><circle cx="595.85" cy="282.87" r="3.3"/><circle cx="595.85" cy="297.58" r="3.3"/><circle cx="595.85" cy="301.45" r="3.3"/><circle cx="595.85" cy="303" r="3.3"/><circle cx="595.85" cy="315.38" r="3.3"/><circle cx="595.85" cy="316.93" r="3.3"/><circle cx="602.42" cy="290.61" r="3.3"/><circle cx="602.42" cy="306.87" r="3.3"/><circle cx="609" cy="235.66" r="3.3"/><circle cx="609" cy="240.3" r="3.3"/><circle cx="609" cy="259.65" r="3.3"/><circle cx="609" cy="285.97" r="3.3"/><circle cx="609" cy="288.29" r="3.3"/><circle cx="609" cy="307.64" r="3.3"/><circle cx="609" cy="311.51" r="3.3"/><circle cx="615.57" cy="276.68" r="3.3"/><circle cx="618.2" cy="272.81" r="3.3"/><circle cx="622.15" cy="282.1" r="3.3"/><circle cx="622.15" cy="291.39" r="3.3"/><circle cx="622.15" cy="297.58" r="3.3"/><circle cx="622.15" cy="305.32" r="3.3"/><circle cx="622.15" cy="313.06" r="3.3"/><circle cx="622.15" cy="316.93" r="3.3"/><circle cx="622.15" cy="319.25" r="3.3"/><circle cx="626.1" cy="283.65" r="3.3"/><circle cx="632.67" cy="268.17" r="3.3"/><circle cx="635.3" cy="241.85" r="3.3"/><circle cx="635.3" cy="261.2" r="3.3"/><circle cx="635.3" cy="264.3" r="3.3"/><circle cx="635.3" cy="268.94" r="3.3"/><circle cx="635.3" cy="274.36" r="3.3"/><circle cx="635.3" cy="278.23" r="3.3"/><circle cx="635.3" cy="282.1" r="3.3"/><circle cx="635.3" cy="285.97" r="3.3"/><circle cx="635.3" cy="289.84" r="3.3"/><circle cx="635.3" cy="293.71" r="3.3"/><circle cx="635.3" cy="297.58" r="3.3"/><circle cx="635.3" cy="301.45" r="3.3"/><circle cx="635.3" cy="305.32" r="3.3"/><circle cx="635.3" cy="309.19" r="3.3"/><circle cx="635.3" cy="313.06" r="3.3"/><circle cx="635.3" cy="316.93" r="3.3"/><circle cx="635.3" cy="319.25" r="3.3"/><circle cx="635.3" cy="320.8" r="3.3"/></g>
<line x1="498.8" y1="280" x2="639.7" y2="304.6" stroke="#231f20" stroke-width="0.9"/>
<line x1="498.8" y1="192.5" x2="498.8" y2="325.3" stroke="#231f20" stroke-width="0.9"/>
<line x1="498.4" y1="324.9" x2="640.2" y2="324.9" stroke="#231f20" stroke-width="0.9"/>
<line x1="496.4" y1="320.8" x2="498.8" y2="320.8" stroke="#231f20" stroke-width="0.8"/>
<text x="495.6" y="323.7" font-size="8.2" text-anchor="end" fill="#231f20" font-weight="normal" font-style="normal">0.0</text>
<line x1="496.4" y1="282.1" x2="498.8" y2="282.1" stroke="#231f20" stroke-width="0.8"/>
<text x="495.6" y="285" font-size="8.2" text-anchor="end" fill="#231f20" font-weight="normal" font-style="normal">0.5</text>
<line x1="496.4" y1="243.4" x2="498.8" y2="243.4" stroke="#231f20" stroke-width="0.8"/>
<text x="495.6" y="246.3" font-size="8.2" text-anchor="end" fill="#231f20" font-weight="normal" font-style="normal">1.0</text>
<line x1="496.4" y1="204.7" x2="498.8" y2="204.7" stroke="#231f20" stroke-width="0.8"/>
<text x="495.6" y="207.6" font-size="8.2" text-anchor="end" fill="#231f20" font-weight="normal" font-style="normal">1.5</text>
<line x1="503.8" y1="324.9" x2="503.8" y2="327.3" stroke="#231f20" stroke-width="0.8"/>
<text x="503.8" y="336.4" font-size="8.2" text-anchor="middle" fill="#231f20" font-weight="normal" font-style="normal">0.0</text>
<line x1="530.1" y1="324.9" x2="530.1" y2="327.3" stroke="#231f20" stroke-width="0.8"/>
<text x="530.1" y="336.4" font-size="8.2" text-anchor="middle" fill="#231f20" font-weight="normal" font-style="normal">0.2</text>
<line x1="556.4" y1="324.9" x2="556.4" y2="327.3" stroke="#231f20" stroke-width="0.8"/>
<text x="556.4" y="336.4" font-size="8.2" text-anchor="middle" fill="#231f20" font-weight="normal" font-style="normal">0.4</text>
<line x1="582.7" y1="324.9" x2="582.7" y2="327.3" stroke="#231f20" stroke-width="0.8"/>
<text x="582.7" y="336.4" font-size="8.2" text-anchor="middle" fill="#231f20" font-weight="normal" font-style="normal">0.6</text>
<line x1="609" y1="324.9" x2="609" y2="327.3" stroke="#231f20" stroke-width="0.8"/>
<text x="609" y="336.4" font-size="8.2" text-anchor="middle" fill="#231f20" font-weight="normal" font-style="normal">0.8</text>
<line x1="635.3" y1="324.9" x2="635.3" y2="327.3" stroke="#231f20" stroke-width="0.8"/>
<text x="635.3" y="336.4" font-size="8.2" text-anchor="middle" fill="#231f20" font-weight="normal" font-style="normal">1.0</text>
<text x="570.6" y="350.2" font-size="8.4" text-anchor="middle" fill="#231f20" font-weight="normal" font-style="normal">Proportion of diet consisting of plant</text>
<text x="475" y="268.6" font-size="8.4" text-anchor="middle" fill="#231f20" font-weight="normal" font-style="normal" transform="rotate(-90 475 268.6)">ATG1/ATG2</text>
<text x="8.8" y="444" font-size="8.4" text-anchor="start" fill="#231f20" font-weight="bold" font-style="normal">d</text>
<rect x="70" y="454" width="28.5" height="375" fill="url(#ggray)"/>
<rect x="141.77" y="454" width="28.5" height="375" fill="url(#ggray)"/>
<rect x="213.54" y="454" width="28.5" height="375" fill="url(#ggray)"/>
<rect x="285.31" y="454" width="28.5" height="375" fill="url(#ggray)"/>
<rect x="357.08" y="454" width="28.5" height="375" fill="url(#ggray)"/>
<rect x="428.85" y="454" width="28.5" height="375" fill="url(#ggray)"/>
<rect x="500.62" y="454" width="28.5" height="375" fill="url(#ggray)"/>
<path d="M58.6 488.7L58.6 488.7L59.6 488.7L59.6 488.18L60.6 488.18L60.6 487.82L61.6 487.82L61.6 487.49L62.6 487.49L62.6 487.11L63.6 487.11L63.6 486.95L64.6 486.95L64.6 486L65.6 486L65.6 485.62L66.6 485.62L66.6 484.37L67.6 484.37L67.6 483.09L68.6 483.09L68.6 482.32L69.6 482.32L69.6 479.99L70.6 479.99L70.6 478.58L71.6 478.58L71.6 476.74L72.6 476.74L72.6 475.8L73.6 475.8L73.6 474.51L74.6 474.51L74.6 473.39L75.6 473.39L75.6 472.67L76.6 472.67L76.6 471.54L77.6 471.54L77.6 470.77L78.6 470.77L78.6 469.63L79.6 469.63L79.6 469.01L80.6 469.01L80.6 468.68L81.6 468.68L81.6 466.22L82.6 466.22L82.6 464.05L83.6 464.05L83.6 461.49L84.6 461.49L84.6 460.08L85.6 460.08L85.6 458.59L86.6 458.59L86.6 457.43L87.6 457.43L87.6 457.79L88.6 457.79L88.6 458.37L89.6 458.37L89.6 458.44L90.6 458.44L90.6 459.87L91.6 459.87L91.6 462.19L92.6 462.19L92.6 462.83L93.6 462.83L93.6 464.08L94.6 464.08L94.6 464.95L95.6 464.95L95.6 465.9L96.6 465.9L96.6 465.64L97.6 465.64L97.6 466.03L98.5 466.03L98.5 488.7Z" fill="#fde0d3"/>
<path d="M54.04 532.32L54.04 531.79L55.04 531.79L55.04 531.39L56.04 531.39L56.04 531.34L57.04 531.34L57.04 530.85L58.04 530.85L58.04 530.54L59.04 530.54L59.04 530.1L60.04 530.1L60.04 529.71L61.04 529.71L61.04 529.07L62.04 529.07L62.04 527.92L63.04 527.92L63.04 527.36L64.04 527.36L64.04 525.96L65.04 525.96L65.04 525.24L66.04 525.24L66.04 524.3L67.04 524.3L67.04 523.02L68.04 523.02L68.04 522.29L69.04 522.29L69.04 521.34L70.04 521.34L70.04 519.26L71.04 519.26L71.04 517.14L72.04 517.14L72.04 516.05L73.04 516.05L73.04 515.2L74.04 515.2L74.04 515.59L75.04 515.59L75.04 514.87L76.04 514.87L76.04 514.56L77.04 514.56L77.04 514.87L78.04 514.87L78.04 514.12L79.04 514.12L79.04 513.77L80.04 513.77L80.04 512.47L81.04 512.47L81.04 511.69L82.04 511.69L82.04 510.51L83.04 510.51L83.04 511.39L84.04 511.39L84.04 511.79L85.04 511.79L85.04 513.11L86.04 513.11L86.04 513.55L87.04 513.55L87.04 514.14L88.04 514.14L88.04 514.71L89.04 514.71L89.04 515.69L90.04 515.69L90.04 516.26L91.04 516.26L91.04 516.72L92.04 516.72L92.04 517.14L93.04 517.14L93.04 518.16L94.04 518.16L94.04 518.31L95.04 518.31L95.04 518.86L96.04 518.86L96.04 519.6L97.04 519.6L97.04 520.96L98.04 520.96L98.04 520.95L98.5 520.95L98.5 532.32Z" fill="#fde0d3"/>
<path d="M41.5 575.94L41.5 567.47L42.5 567.47L42.5 567.6L43.5 567.6L43.5 567.71L44.5 567.71L44.5 567.77L45.5 567.77L45.5 569L46.5 569L46.5 568.69L47.5 568.69L47.5 569.74L48.5 569.74L48.5 570.63L49.5 570.63L49.5 571.2L50.5 571.2L50.5 571.97L51.5 571.97L51.5 572.68L52.5 572.68L52.5 573.16L53.5 573.16L53.5 573.03L54.5 573.03L54.5 572.39L55.5 572.39L55.5 573.22L56.5 573.22L56.5 573.1L57.5 573.1L57.5 571.6L58.5 571.6L58.5 571.93L59.5 571.93L59.5 571.83L60.5 571.83L60.5 571.79L61.5 571.79L61.5 571.06L62.5 571.06L62.5 570.5L63.5 570.5L63.5 570.75L64.5 570.75L64.5 570.54L65.5 570.54L65.5 570.78L66.5 570.78L66.5 569.39L67.5 569.39L67.5 570.31L68.5 570.31L68.5 569.46L69.5 569.46L69.5 568.29L70.5 568.29L70.5 568.18L71.5 568.18L71.5 566.33L72.5 566.33L72.5 564.99L73.5 564.99L73.5 564.36L74.5 564.36L74.5 563.1L75.5 563.1L75.5 562.83L76.5 562.83L76.5 560.94L77.5 560.94L77.5 559.87L78.5 559.87L78.5 557.51L79.5 557.51L79.5 556.79L80.5 556.79L80.5 555.13L81.5 555.13L81.5 553.23L82.5 553.23L82.5 552.43L83.5 552.43L83.5 551.26L84.5 551.26L84.5 550.95L85.5 550.95L85.5 549.91L86.5 549.91L86.5 548.59L87.5 548.59L87.5 548.4L88.5 548.4L88.5 549.11L89.5 549.11L89.5 549.43L90.5 549.43L90.5 550.8L91.5 550.8L91.5 552.15L92.5 552.15L92.5 553L93.5 553L93.5 554.69L94.5 554.69L94.5 556.18L95.5 556.18L95.5 556.76L96.5 556.76L96.5 557.38L97.5 557.38L97.5 558.13L98.5 558.13L98.5 575.94Z" fill="#f4c5c5"/>
<path d="M41.5 619.56L41.5 614.35L42.5 614.35L42.5 613.88L43.5 613.88L43.5 613.97L44.5 613.97L44.5 614.84L45.5 614.84L45.5 614.48L46.5 614.48L46.5 614.7L47.5 614.7L47.5 615.01L48.5 615.01L48.5 615.25L49.5 615.25L49.5 615.33L50.5 615.33L50.5 616.06L51.5 616.06L51.5 615.81L52.5 615.81L52.5 616.56L53.5 616.56L53.5 616.44L54.5 616.44L54.5 616.21L55.5 616.21L55.5 616.46L56.5 616.46L56.5 617.13L57.5 617.13L57.5 616.41L58.5 616.41L58.5 616.95L59.5 616.95L59.5 617.18L60.5 617.18L60.5 618.08L61.5 618.08L61.5 617.52L62.5 617.52L62.5 617.01L63.5 617.01L63.5 615.53L64.5 615.53L64.5 614.89L65.5 614.89L65.5 613.5L66.5 613.5L66.5 612.81L67.5 612.81L67.5 611.69L68.5 611.69L68.5 611.36L69.5 611.36L69.5 610.05L70.5 610.05L70.5 609.01L71.5 609.01L71.5 608.02L72.5 608.02L72.5 607.9L73.5 607.9L73.5 606.5L74.5 606.5L74.5 605.72L75.5 605.72L75.5 605.21L76.5 605.21L76.5 604.08L77.5 604.08L77.5 603.35L78.5 603.35L78.5 603.18L79.5 603.18L79.5 602.42L80.5 602.42L80.5 602.15L81.5 602.15L81.5 600.6L82.5 600.6L82.5 599.85L83.5 599.85L83.5 599.84L84.5 599.84L84.5 598.94L85.5 598.94L85.5 598.29L86.5 598.29L86.5 597.66L87.5 597.66L87.5 597.78L88.5 597.78L88.5 596.36L89.5 596.36L89.5 596.01L90.5 596.01L90.5 595.86L91.5 595.86L91.5 596.76L92.5 596.76L92.5 597.07L93.5 597.07L93.5 597.45L94.5 597.45L94.5 598.54L95.5 598.54L95.5 599.67L96.5 599.67L96.5 601.82L97.5 601.82L97.5 602.89L98.5 602.89L98.5 619.56Z" fill="#f4c5c5"/>
<path d="M41.5 663.18L41.5 661.31L42.5 661.31L42.5 661.09L43.5 661.09L43.5 661.72L44.5 661.72L44.5 661.16L45.5 661.16L45.5 661.29L46.5 661.29L46.5 662.12L47.5 662.12L47.5 661.61L48.5 661.61L48.5 662L49.5 662L49.5 662.28L50.5 662.28L50.5 662.23L51.5 662.23L51.5 662.05L52.5 662.05L52.5 662.26L53.5 662.26L53.5 661.99L54.5 661.99L54.5 661.94L55.5 661.94L55.5 661.12L56.5 661.12L56.5 660.98L57.5 660.98L57.5 660.42L58.5 660.42L58.5 660.2L59.5 660.2L59.5 660.41L60.5 660.41L60.5 659.28L61.5 659.28L61.5 660.21L62.5 660.21L62.5 659.3L63.5 659.3L63.5 659.08L64.5 659.08L64.5 658.52L65.5 658.52L65.5 658.52L66.5 658.52L66.5 657.19L67.5 657.19L67.5 657L68.5 657L68.5 656.58L69.5 656.58L69.5 654.95L70.5 654.95L70.5 654.76L71.5 654.76L71.5 653.3L72.5 653.3L72.5 652.68L73.5 652.68L73.5 651.38L74.5 651.38L74.5 649.9L75.5 649.9L75.5 649.1L76.5 649.1L76.5 648.64L77.5 648.64L77.5 647.14L78.5 647.14L78.5 646.38L79.5 646.38L79.5 645.76L80.5 645.76L80.5 645.07L81.5 645.07L81.5 643.49L82.5 643.49L82.5 642.55L83.5 642.55L83.5 641.04L84.5 641.04L84.5 640.26L85.5 640.26L85.5 640.04L86.5 640.04L86.5 639.69L87.5 639.69L87.5 638.28L88.5 638.28L88.5 638.76L89.5 638.76L89.5 637.92L90.5 637.92L90.5 636.62L91.5 636.62L91.5 635.86L92.5 635.86L92.5 635.8L93.5 635.8L93.5 634.46L94.5 634.46L94.5 633.42L95.5 633.42L95.5 633.56L96.5 633.56L96.5 633.26L97.5 633.26L97.5 633.3L98.5 633.3L98.5 663.18Z" fill="#91a8d3"/>
<path d="M41.5 706.8L41.5 705.71L42.5 705.71L42.5 704.71L43.5 704.71L43.5 705.4L44.5 705.4L44.5 704.53L45.5 704.53L45.5 704.5L46.5 704.5L46.5 704.82L47.5 704.82L47.5 705.17L48.5 705.17L48.5 704.12L49.5 704.12L49.5 704.66L50.5 704.66L50.5 704.67L51.5 704.67L51.5 704.71L52.5 704.71L52.5 703.73L53.5 703.73L53.5 704.28L54.5 704.28L54.5 704.46L55.5 704.46L55.5 704.11L56.5 704.11L56.5 704.48L57.5 704.48L57.5 703.73L58.5 703.73L58.5 703.78L59.5 703.78L59.5 703.67L60.5 703.67L60.5 702.72L61.5 702.72L61.5 702.35L62.5 702.35L62.5 703.11L63.5 703.11L63.5 702.12L64.5 702.12L64.5 702.15L65.5 702.15L65.5 700.97L66.5 700.97L66.5 700.86L67.5 700.86L67.5 700.94L68.5 700.94L68.5 700.21L69.5 700.21L69.5 699.67L70.5 699.67L70.5 697.87L71.5 697.87L71.5 698.09L72.5 698.09L72.5 696.97L73.5 696.97L73.5 696.33L74.5 696.33L74.5 695.3L75.5 695.3L75.5 694.54L76.5 694.54L76.5 693.54L77.5 693.54L77.5 693.56L78.5 693.56L78.5 691.67L79.5 691.67L79.5 690.94L80.5 690.94L80.5 689.3L81.5 689.3L81.5 688.23L82.5 688.23L82.5 686.95L83.5 686.95L83.5 685.31L84.5 685.31L84.5 684.55L85.5 684.55L85.5 683.99L86.5 683.99L86.5 682.79L87.5 682.79L87.5 682.29L88.5 682.29L88.5 682.33L89.5 682.33L89.5 681.37L90.5 681.37L90.5 680.75L91.5 680.75L91.5 679.8L92.5 679.8L92.5 679.49L93.5 679.49L93.5 679.59L94.5 679.59L94.5 679.95L95.5 679.95L95.5 678.71L96.5 678.71L96.5 679.18L97.5 679.18L97.5 678.98L98.5 678.98L98.5 706.8Z" fill="#91a8d3"/>
<path d="M41.5 750.42L41.5 718.85L42.5 718.85L42.5 721.54L43.5 721.54L43.5 726.53L44.5 726.53L44.5 730.75L45.5 730.75L45.5 733.43L46.5 733.43L46.5 731.29L47.5 731.29L47.5 728.42L48.5 728.42L48.5 728.19L49.5 728.19L49.5 726.23L50.5 726.23L50.5 724.58L51.5 724.58L51.5 726L52.5 726L52.5 723.94L53.5 723.94L53.5 724.61L54.5 724.61L54.5 725.56L55.5 725.56L55.5 726.08L56.5 726.08L56.5 724.59L57.5 724.59L57.5 723.94L58.5 723.94L58.5 725.78L59.5 725.78L59.5 725.7L60.5 725.7L60.5 726.23L61.5 726.23L61.5 728.15L62.5 728.15L62.5 731.24L63.5 731.24L63.5 734.27L64.5 734.27L64.5 735.88L65.5 735.88L65.5 736.5L66.5 736.5L66.5 738.22L67.5 738.22L67.5 737.84L68.5 737.84L68.5 736.48L69.5 736.48L69.5 736.55L70.5 736.55L70.5 736.49L71.5 736.49L71.5 737.62L72.5 737.62L72.5 735.91L73.5 735.91L73.5 736.59L74.5 736.59L74.5 737.82L75.5 737.82L75.5 739.6L76.5 739.6L76.5 741.81L77.5 741.81L77.5 740.67L78.5 740.67L78.5 742.96L79.5 742.96L79.5 743.01L80.5 743.01L80.5 743.35L81.5 743.35L81.5 744.42L82.5 744.42L82.5 745.93L83.5 745.93L83.5 745.74L84.5 745.74L84.5 744.47L85.5 744.47L85.5 746.42L86.5 746.42L86.5 745.53L87.5 745.53L87.5 746.26L88.5 746.26L88.5 747.13L89.5 747.13L89.5 746.36L90.5 746.36L90.5 747.98L91.5 747.98L91.5 748.12L92.5 748.12L92.5 747.83L93.5 747.83L93.5 749.03L94.5 749.03L94.5 749.56L95.5 749.56L95.5 748.86L96.5 748.86L96.5 748.51L97.5 748.51L97.5 746.45L98.5 746.45L98.5 750.42Z" fill="#d6c8e1"/>
<path d="M41.5 794.04L41.5 783.66L42.5 783.66L42.5 786.25L43.5 786.25L43.5 787.8L44.5 787.8L44.5 787.88L45.5 787.88L45.5 788.88L46.5 788.88L46.5 788.59L47.5 788.59L47.5 789.9L48.5 789.9L48.5 790.46L49.5 790.46L49.5 788.81L50.5 788.81L50.5 789.9L51.5 789.9L51.5 788.61L52.5 788.61L52.5 788.64L53.5 788.64L53.5 786.67L54.5 786.67L54.5 786.44L55.5 786.44L55.5 784.98L56.5 784.98L56.5 783.68L57.5 783.68L57.5 782.9L58.5 782.9L58.5 785.18L59.5 785.18L59.5 785.66L60.5 785.66L60.5 787.94L61.5 787.94L61.5 789.51L62.5 789.51L62.5 789.1L63.5 789.1L63.5 788.61L64.5 788.61L64.5 787.6L65.5 787.6L65.5 788.71L66.5 788.71L66.5 787.3L67.5 787.3L67.5 786.92L68.5 786.92L68.5 787.66L69.5 787.66L69.5 785.73L70.5 785.73L70.5 787.06L71.5 787.06L71.5 786.99L72.5 786.99L72.5 786.09L73.5 786.09L73.5 788.19L74.5 788.19L74.5 787.99L75.5 787.99L75.5 789.81L76.5 789.81L76.5 790.23L77.5 790.23L77.5 789.2L78.5 789.2L78.5 791.03L79.5 791.03L79.5 789.48L80.5 789.48L80.5 791.09L81.5 791.09L81.5 791.1L82.5 791.1L82.5 789.59L83.5 789.59L83.5 790.56L84.5 790.56L84.5 791.97L85.5 791.97L85.5 792.56L86.5 792.56L86.5 790.93L87.5 790.93L87.5 791.68L88.5 791.68L88.5 791.32L89.5 791.32L89.5 792.89L90.5 792.89L90.5 791.77L91.5 791.77L91.5 792.99L92.5 792.99L92.5 794.04L93.5 794.04L93.5 794.04L94.5 794.04L94.5 794.04L95.5 794.04L95.5 794.04L96.5 794.04L96.5 794.04L97.5 794.04L97.5 794.04L98.5 794.04L98.5 794.04Z" fill="#d6c8e1"/>
<rect x="69" y="481.11" width="2" height="7.59" fill="#f47a20"/>
<rect x="69" y="522.42" width="2" height="9.9" fill="#f47a20"/>
<rect x="67.8" y="541.34" width="30.7" height="2.7" fill="#0000b4"/>
<rect x="66.9" y="584.96" width="31.6" height="2.7" fill="#0000b4"/>
<rect x="63.1" y="628.58" width="35.4" height="2.7" fill="#0000b4"/>
<rect x="61.3" y="672.2" width="37.2" height="2.7" fill="#0000b4"/>
<text x="41.8" y="462.9" font-size="8.4" text-anchor="start" fill="#231f20" font-weight="normal" font-style="normal">0-200</text>
<text x="41.8" y="506.52" font-size="8.4" text-anchor="start" fill="#231f20" font-weight="normal" font-style="normal">0-150</text>
<text x="41.8" y="550.14" font-size="8.4" text-anchor="start" fill="#231f20" font-weight="normal" font-style="normal">0-200</text>
<text x="41.8" y="593.76" font-size="8.4" text-anchor="start" fill="#231f20" font-weight="normal" font-style="normal">0-200</text>
<text x="41.8" y="637.38" font-size="8.4" text-anchor="start" fill="#231f20" font-weight="normal" font-style="normal">0-600</text>
<text x="41.8" y="681" font-size="8.4" text-anchor="start" fill="#231f20" font-weight="normal" font-style="normal">0-600</text>
<text x="41.8" y="717.22" font-size="8.4" text-anchor="start" fill="#231f20" font-weight="normal" font-style="normal">0-19</text>
<text x="41.8" y="760.84" font-size="8.4" text-anchor="start" fill="#231f20" font-weight="normal" font-style="normal">0-16</text>
<circle cx="70" cy="816.6" r="8.6" fill="#7cc3b4"/>
<path d="M114.41 488.7L114.41 488.7L115.41 488.7L115.41 488.7L116.41 488.7L116.41 488.62L117.41 488.62L117.41 488.46L118.41 488.46L118.41 488.17L119.41 488.17L119.41 488.25L120.41 488.25L120.41 488.12L121.41 488.12L121.41 488.18L122.41 488.18L122.41 487.63L123.41 487.63L123.41 487.65L124.41 487.65L124.41 487.44L125.41 487.44L125.41 487.59L126.41 487.59L126.41 487.21L127.41 487.21L127.41 487.03L128.41 487.03L128.41 486.11L129.41 486.11L129.41 485.26L130.41 485.26L130.41 484.28L131.41 484.28L131.41 484.22L132.41 484.22L132.41 484.15L133.41 484.15L133.41 483.92L134.41 483.92L134.41 483.55L135.41 483.55L135.41 483.39L136.41 483.39L136.41 482.56L137.41 482.56L137.41 482.56L138.41 482.56L138.41 481.74L139.41 481.74L139.41 481.31L140.41 481.31L140.41 480.08L141.41 480.08L141.41 478.4L142.41 478.4L142.41 476.99L143.41 476.99L143.41 475.82L144.41 475.82L144.41 474.9L145.41 474.9L145.41 474.25L146.41 474.25L146.41 473.32L147.41 473.32L147.41 472.42L148.41 472.42L148.41 471.38L149.41 471.38L149.41 470.38L150.41 470.38L150.41 468.51L151.41 468.51L151.41 467.91L152.41 467.91L152.41 467.32L153.41 467.32L153.41 466.78L154.41 466.78L154.41 466.34L155.41 466.34L155.41 465.73L156.41 465.73L156.41 465.25L157.41 465.25L157.41 464.69L158.41 464.69L158.41 464.64L159.41 464.64L159.41 463.7L160.41 463.7L160.41 463.72L161.41 463.72L161.41 463L162.41 463L162.41 462.83L163.41 462.83L163.41 462.64L164.41 462.64L164.41 462.58L165.41 462.58L165.41 462.08L166.41 462.08L166.41 463.52L167.41 463.52L167.41 464.71L168.41 464.71L168.41 467.34L169.41 467.34L169.41 469.38L170.27 469.38L170.27 488.7Z" fill="#fde0d3"/>
<path d="M127.52 532.32L127.52 531.3L128.52 531.3L128.52 530.41L129.52 530.41L129.52 529.96L130.52 529.96L130.52 529.66L131.52 529.66L131.52 529.1L132.52 529.1L132.52 528.78L133.52 528.78L133.52 528.15L134.52 528.15L134.52 527.36L135.52 527.36L135.52 527.45L136.52 527.45L136.52 527.16L137.52 527.16L137.52 526.75L138.52 526.75L138.52 526.55L139.52 526.55L139.52 525.94L140.52 525.94L140.52 525.63L141.52 525.63L141.52 525.18L142.52 525.18L142.52 524.21L143.52 524.21L143.52 522.99L144.52 522.99L144.52 522.17L145.52 522.17L145.52 521.73L146.52 521.73L146.52 521.23L147.52 521.23L147.52 520.24L148.52 520.24L148.52 520.24L149.52 520.24L149.52 519.52L150.52 519.52L150.52 518.24L151.52 518.24L151.52 517.67L152.52 517.67L152.52 517.1L153.52 517.1L153.52 515.96L154.52 515.96L154.52 514.86L155.52 514.86L155.52 514.6L156.52 514.6L156.52 514.32L157.52 514.32L157.52 514.11L158.52 514.11L158.52 513.74L159.52 513.74L159.52 512.8L160.52 512.8L160.52 512.7L161.52 512.7L161.52 512.06L162.52 512.06L162.52 512.3L163.52 512.3L163.52 511.82L164.52 511.82L164.52 511.6L165.52 511.6L165.52 511.03L166.52 511.03L166.52 511.89L167.52 511.89L167.52 512.76L168.52 512.76L168.52 513.65L169.52 513.65L169.52 514.59L170.27 514.59L170.27 532.32Z" fill="#fde0d3"/>
<path d="M113.27 575.94L113.27 573.89L114.27 573.89L114.27 573.91L115.27 573.91L115.27 572.68L116.27 572.68L116.27 575.94L117.27 575.94L117.27 575.94L118.27 575.94L118.27 575.94L119.27 575.94L119.27 575.94L120.27 575.94L120.27 575.94L121.27 575.94L121.27 575.94L122.27 575.94L122.27 575.94L123.27 575.94L123.27 575.94L124.27 575.94L124.27 575.94L125.27 575.94L125.27 575.94L126.27 575.94L126.27 575.94L127.27 575.94L127.27 575.94L128.27 575.94L128.27 575.94L129.27 575.94L129.27 575.94L130.27 575.94L130.27 575.94L131.27 575.94L131.27 575.94L132.27 575.94L132.27 575.94L133.27 575.94L133.27 575.94L134.27 575.94L134.27 574.38L135.27 574.38L135.27 573.41L136.27 573.41L136.27 573.3L137.27 573.3L137.27 572.88L138.27 572.88L138.27 573.23L139.27 573.23L139.27 572.52L140.27 572.52L140.27 572.35L141.27 572.35L141.27 571.35L142.27 571.35L142.27 570.41L143.27 570.41L143.27 570.19L144.27 570.19L144.27 568.7L145.27 568.7L145.27 568.39L146.27 568.39L146.27 567.49L147.27 567.49L147.27 565.64L148.27 565.64L148.27 564.55L149.27 564.55L149.27 563.3L150.27 563.3L150.27 563.21L151.27 563.21L151.27 562.53L152.27 562.53L152.27 562.05L153.27 562.05L153.27 561.46L154.27 561.46L154.27 561.91L155.27 561.91L155.27 561.38L156.27 561.38L156.27 560.56L157.27 560.56L157.27 561.04L158.27 561.04L158.27 560.86L159.27 560.86L159.27 560.28L160.27 560.28L160.27 560.13L161.27 560.13L161.27 558.24L162.27 558.24L162.27 557.19L163.27 557.19L163.27 556.88L164.27 556.88L164.27 556.13L165.27 556.13L165.27 555.21L166.27 555.21L166.27 553.65L167.27 553.65L167.27 552.12L168.27 552.12L168.27 554.22L169.27 554.22L169.27 557.79L170.27 557.79L170.27 575.94Z" fill="#fae6e6"/>
<path d="M113.27 619.56L113.27 618.25L114.27 618.25L114.27 618.49L115.27 618.49L115.27 617.65L116.27 617.65L116.27 618.51L117.27 618.51L117.27 618.31L118.27 618.31L118.27 618.19L119.27 618.19L119.27 618.08L120.27 618.08L120.27 618.44L121.27 618.44L121.27 618.01L122.27 618.01L122.27 618.16L123.27 618.16L123.27 617.58L124.27 617.58L124.27 617.84L125.27 617.84L125.27 617.39L126.27 617.39L126.27 617.71L127.27 617.71L127.27 617.57L128.27 617.57L128.27 617.81L129.27 617.81L129.27 615.64L130.27 615.64L130.27 612.54L131.27 612.54L131.27 612.75L132.27 612.75L132.27 612.36L133.27 612.36L133.27 612.66L134.27 612.66L134.27 612.69L135.27 612.69L135.27 613.27L136.27 613.27L136.27 612.55L137.27 612.55L137.27 613.12L138.27 613.12L138.27 613.57L139.27 613.57L139.27 613.94L140.27 613.94L140.27 614.06L141.27 614.06L141.27 613.93L142.27 613.93L142.27 613.39L143.27 613.39L143.27 613.9L144.27 613.9L144.27 614.2L145.27 614.2L145.27 613.27L146.27 613.27L146.27 613.54L147.27 613.54L147.27 613.51L148.27 613.51L148.27 611.01L149.27 611.01L149.27 608.5L150.27 608.5L150.27 608.04L151.27 608.04L151.27 607.22L152.27 607.22L152.27 606.94L153.27 606.94L153.27 607.23L154.27 607.23L154.27 607.57L155.27 607.57L155.27 607.15L156.27 607.15L156.27 606.59L157.27 606.59L157.27 605.83L158.27 605.83L158.27 605.43L159.27 605.43L159.27 604.86L160.27 604.86L160.27 604.83L161.27 604.83L161.27 605.25L162.27 605.25L162.27 606.37L163.27 606.37L163.27 606.09L164.27 606.09L164.27 606.97L165.27 606.97L165.27 607.13L166.27 607.13L166.27 608.34L167.27 608.34L167.27 608.56L168.27 608.56L168.27 609.62L169.27 609.62L169.27 611.38L170.27 611.38L170.27 619.56Z" fill="#fae6e6"/>
<path d="M157.73 663.18L157.73 660.21L158.73 660.21L158.73 660.21L159.73 660.21L159.73 660.21L160.73 660.21L160.73 660.21L161.73 660.21L161.73 660.21L162.73 660.21L162.73 660.21L163.73 660.21L163.73 660.21L164.73 660.21L164.73 660.21L165.73 660.21L165.73 660.21L166.73 660.21L166.73 663.18L167.73 663.18L167.73 660.21L168.73 660.21L168.73 660.21L169.13 660.21L169.13 663.18Z" fill="#91a8d3"/>
<path d="M113.27 706.8L113.27 701.19L114.27 701.19L114.27 701.19L115.27 701.19L115.27 701.19L116.27 701.19L116.27 701.19L117.27 701.19L117.27 701.19L118.27 701.19L118.27 701.19L119.27 701.19L119.27 701.19L120.27 701.19L120.27 701.19L120.68 701.19L120.68 706.8Z" fill="#91a8d3"/>
<path d="M113.27 750.42L113.27 729.71L114.27 729.71L114.27 727.8L115.27 727.8L115.27 726.53L116.27 726.53L116.27 725.9L117.27 725.9L117.27 724.25L118.27 724.25L118.27 725.01L119.27 725.01L119.27 724.44L120.27 724.44L120.27 725.91L121.27 725.91L121.27 725.41L122.27 725.41L122.27 725.4L123.27 725.4L123.27 723.46L124.27 723.46L124.27 723.68L125.27 723.68L125.27 724.82L126.27 724.82L126.27 726.51L127.27 726.51L127.27 728.6L128.27 728.6L128.27 732.09L129.27 732.09L129.27 733.4L130.27 733.4L130.27 734.27L131.27 734.27L131.27 735.32L132.27 735.32L132.27 734.77L133.27 734.77L133.27 734.59L134.27 734.59L134.27 732.81L135.27 732.81L135.27 731.78L136.27 731.78L136.27 732.74L137.27 732.74L137.27 730.69L138.27 730.69L138.27 731.13L139.27 731.13L139.27 730.49L140.27 730.49L140.27 730.42L141.27 730.42L141.27 731.33L142.27 731.33L142.27 731.84L143.27 731.84L143.27 733.75L144.27 733.75L144.27 735.57L145.27 735.57L145.27 735.69L146.27 735.69L146.27 736.79L147.27 736.79L147.27 738.71L148.27 738.71L148.27 738.59L149.27 738.59L149.27 739.1L150.27 739.1L150.27 740.12L151.27 740.12L151.27 739.81L152.27 739.81L152.27 739.99L153.27 739.99L153.27 740.44L154.27 740.44L154.27 740.78L155.27 740.78L155.27 742.35L156.27 742.35L156.27 741.87L157.27 741.87L157.27 743.09L158.27 743.09L158.27 742.84L159.27 742.84L159.27 743.37L160.27 743.37L160.27 743.43L161.27 743.43L161.27 743.7L162.27 743.7L162.27 742.4L163.27 742.4L163.27 742.71L164.27 742.71L164.27 741.76L165.27 741.76L165.27 742.26L166.27 742.26L166.27 743.32L167.27 743.32L167.27 744.56L168.27 744.56L168.27 745.73L169.27 745.73L169.27 746.41L170.27 746.41L170.27 750.42Z" fill="#d6c8e1"/>
<path d="M113.27 794.04L113.27 774.08L114.27 774.08L114.27 771.24L115.27 771.24L115.27 768.51L116.27 768.51L116.27 768.09L117.27 768.09L117.27 769.46L118.27 769.46L118.27 768.46L119.27 768.46L119.27 770.41L120.27 770.41L120.27 769.83L121.27 769.83L121.27 771.81L122.27 771.81L122.27 770.73L123.27 770.73L123.27 771.42L124.27 771.42L124.27 771.29L125.27 771.29L125.27 772.23L126.27 772.23L126.27 773.53L127.27 773.53L127.27 773.99L128.27 773.99L128.27 775.03L129.27 775.03L129.27 776.14L130.27 776.14L130.27 777.67L131.27 777.67L131.27 777.25L132.27 777.25L132.27 776.66L133.27 776.66L133.27 778.47L134.27 778.47L134.27 776.53L135.27 776.53L135.27 777.28L136.27 777.28L136.27 777.38L137.27 777.38L137.27 778.03L138.27 778.03L138.27 776.4L139.27 776.4L139.27 776.14L140.27 776.14L140.27 774.3L141.27 774.3L141.27 772.99L142.27 772.99L142.27 773.31L143.27 773.31L143.27 774.34L144.27 774.34L144.27 775.42L145.27 775.42L145.27 777.8L146.27 777.8L146.27 778.2L147.27 778.2L147.27 779.92L148.27 779.92L148.27 780.18L149.27 780.18L149.27 781.61L150.27 781.61L150.27 781.06L151.27 781.06L151.27 783.25L152.27 783.25L152.27 783.67L153.27 783.67L153.27 784.23L154.27 784.23L154.27 783.75L155.27 783.75L155.27 783.47L156.27 783.47L156.27 785.5L157.27 785.5L157.27 784.77L158.27 784.77L158.27 784.81L159.27 784.81L159.27 786.41L160.27 786.41L160.27 787.13L161.27 787.13L161.27 786.32L162.27 786.32L162.27 786.05L163.27 786.05L163.27 786.29L164.27 786.29L164.27 786.98L165.27 786.98L165.27 788.05L166.27 788.05L166.27 788.38L167.27 788.38L167.27 788.49L168.27 788.49L168.27 787.96L169.27 787.96L169.27 789.7L170.27 789.7L170.27 794.04Z" fill="#d6c8e1"/>
<rect x="140.77" y="479.79" width="2" height="8.91" fill="#f47a20"/>
<rect x="140.77" y="525.72" width="2" height="6.6" fill="#f47a20"/>
<rect x="150" y="541.34" width="20.27" height="2.7" fill="#0000b4"/>
<rect x="147.2" y="584.96" width="23.07" height="2.7" fill="#0000b4"/>
<text x="113.57" y="462.9" font-size="8.4" text-anchor="start" fill="#231f20" font-weight="normal" font-style="normal">0-995</text>
<text x="113.57" y="506.52" font-size="8.4" text-anchor="start" fill="#231f20" font-weight="normal" font-style="normal">0-1389</text>
<text x="113.57" y="550.14" font-size="8.4" text-anchor="start" fill="#231f20" font-weight="normal" font-style="normal">0-10</text>
<text x="113.57" y="593.76" font-size="8.4" text-anchor="start" fill="#231f20" font-weight="normal" font-style="normal">0-10</text>
<text x="113.57" y="637.38" font-size="8.4" text-anchor="start" fill="#231f20" font-weight="normal" font-style="normal">0-10</text>
<text x="113.57" y="681" font-size="8.4" text-anchor="start" fill="#231f20" font-weight="normal" font-style="normal">0-10</text>
<text x="113.57" y="717.22" font-size="8.4" text-anchor="start" fill="#231f20" font-weight="normal" font-style="normal">0-152</text>
<text x="113.57" y="760.84" font-size="8.4" text-anchor="start" fill="#231f20" font-weight="normal" font-style="normal">0-444</text>
<circle cx="141.77" cy="816.6" r="8.6" fill="#7cc3b4"/>
<path d="M190.17 488.7L190.17 488.62L191.17 488.62L191.17 487.96L192.17 487.96L192.17 487.27L193.17 487.27L193.17 487.33L194.17 487.33L194.17 486.98L195.17 486.98L195.17 486.43L196.17 486.43L196.17 485.56L197.17 485.56L197.17 484.95L198.17 484.95L198.17 484.65L199.17 484.65L199.17 484.06L200.17 484.06L200.17 483.22L201.17 483.22L201.17 482.61L202.17 482.61L202.17 481.95L203.17 481.95L203.17 481.27L204.17 481.27L204.17 481.05L205.17 481.05L205.17 480.1L206.17 480.1L206.17 479.21L207.17 479.21L207.17 478.47L208.17 478.47L208.17 478.23L209.17 478.23L209.17 477.22L210.17 477.22L210.17 476.58L211.17 476.58L211.17 475.52L212.17 475.52L212.17 475.11L213.17 475.11L213.17 473.99L214.17 473.99L214.17 473.41L215.17 473.41L215.17 473.17L216.17 473.17L216.17 472.93L217.17 472.93L217.17 472.49L218.17 472.49L218.17 472.16L219.17 472.16L219.17 471.86L220.17 471.86L220.17 471.47L221.17 471.47L221.17 470.82L222.17 470.82L222.17 470.81L223.17 470.81L223.17 469.97L224.17 469.97L224.17 469.58L225.17 469.58L225.17 469.12L226.17 469.12L226.17 468.72L227.17 468.72L227.17 468.38L228.17 468.38L228.17 468.08L229.17 468.08L229.17 468.44L230.17 468.44L230.17 469.05L231.17 469.05L231.17 469.21L232.17 469.21L232.17 469.98L233.17 469.98L233.17 470.15L234.17 470.15L234.17 470.35L235.17 470.35L235.17 470.43L236.17 470.43L236.17 470.49L237.17 470.49L237.17 470.69L238.17 470.69L238.17 471.12L239.17 471.12L239.17 471.66L240.17 471.66L240.17 472.67L241.17 472.67L241.17 473L242.04 473L242.04 488.7Z" fill="#fde0d3"/>
<path d="M192.45 532.32L192.45 532.32L193.45 532.32L193.45 531.82L194.45 531.82L194.45 531.61L195.45 531.61L195.45 531.47L196.45 531.47L196.45 530.83L197.45 530.83L197.45 530.67L198.45 530.67L198.45 530.17L199.45 530.17L199.45 530.07L200.45 530.07L200.45 529.54L201.45 529.54L201.45 529.33L202.45 529.33L202.45 529.68L203.45 529.68L203.45 529L204.45 529L204.45 528.81L205.45 528.81L205.45 528.86L206.45 528.86L206.45 528.54L207.45 528.54L207.45 527.81L208.45 527.81L208.45 527.4L209.45 527.4L209.45 526.66L210.45 526.66L210.45 526.05L211.45 526.05L211.45 525.92L212.45 525.92L212.45 525.49L213.45 525.49L213.45 524.7L214.45 524.7L214.45 523.71L215.45 523.71L215.45 522.78L216.45 522.78L216.45 522.05L217.45 522.05L217.45 521.42L218.45 521.42L218.45 520.58L219.45 520.58L219.45 519.44L220.45 519.44L220.45 518.84L221.45 518.84L221.45 518.34L222.45 518.34L222.45 517.42L223.45 517.42L223.45 517.19L224.45 517.19L224.45 516.56L225.45 516.56L225.45 516.61L226.45 516.61L226.45 516.13L227.45 516.13L227.45 515.9L228.45 515.9L228.45 515.61L229.45 515.61L229.45 515.45L230.45 515.45L230.45 515.91L231.45 515.91L231.45 516.19L232.45 516.19L232.45 516L233.45 516L233.45 516.73L234.45 516.73L234.45 516.69L235.45 516.69L235.45 516.51L236.45 516.51L236.45 517.17L237.45 517.17L237.45 516.79L238.45 516.79L238.45 517.18L239.45 517.18L239.45 517.53L240.45 517.53L240.45 517.5L241.45 517.5L241.45 517.46L242.04 517.46L242.04 532.32Z" fill="#fde0d3"/>
<path d="M185.04 575.94L185.04 575.1L186.04 575.1L186.04 574.93L187.04 574.93L187.04 575.54L188.04 575.54L188.04 575.32L189.04 575.32L189.04 574.32L190.04 574.32L190.04 575.03L191.04 575.03L191.04 574.99L192.04 574.99L192.04 575.5L193.04 575.5L193.04 575.24L194.04 575.24L194.04 574.35L195.04 574.35L195.04 574.7L196.04 574.7L196.04 574.94L197.04 574.94L197.04 575.54L198.04 575.54L198.04 575.09L199.04 575.09L199.04 574.58L200.04 574.58L200.04 575.04L201.04 575.04L201.04 574.83L202.04 574.83L202.04 574.3L203.04 574.3L203.04 574.35L204.04 574.35L204.04 574.08L205.04 574.08L205.04 574.58L206.04 574.58L206.04 574.3L207.04 574.3L207.04 573.03L208.04 573.03L208.04 573.21L209.04 573.21L209.04 572.31L210.04 572.31L210.04 571.97L211.04 571.97L211.04 571.27L212.04 571.27L212.04 571.4L213.04 571.4L213.04 570L214.04 570L214.04 569.68L215.04 569.68L215.04 568.87L216.04 568.87L216.04 569.21L217.04 569.21L217.04 567.74L218.04 567.74L218.04 567.58L219.04 567.58L219.04 565.6L220.04 565.6L220.04 562.87L221.04 562.87L221.04 561.19L222.04 561.19L222.04 558.22L223.04 558.22L223.04 555.71L224.04 555.71L224.04 553.41L225.04 553.41L225.04 554.81L226.04 554.81L226.04 555.46L227.04 555.46L227.04 557.34L228.04 557.34L228.04 558.17L229.04 558.17L229.04 557.5L230.04 557.5L230.04 557.72L231.04 557.72L231.04 557.03L232.04 557.03L232.04 556.28L233.04 556.28L233.04 556.29L234.04 556.29L234.04 557.2L235.04 557.2L235.04 557.44L236.04 557.44L236.04 556.37L237.04 556.37L237.04 556.1L238.04 556.1L238.04 555.14L239.04 555.14L239.04 554.3L240.04 554.3L240.04 552.72L241.04 552.72L241.04 550.37L242.04 550.37L242.04 575.94Z" fill="#fae6e6"/>
<path d="M185.04 619.56L185.04 616.95L186.04 616.95L186.04 618.04L187.04 618.04L187.04 617.72L188.04 617.72L188.04 617.29L189.04 617.29L189.04 617.4L190.04 617.4L190.04 616.65L191.04 616.65L191.04 617.04L192.04 617.04L192.04 616.4L193.04 616.4L193.04 617.12L194.04 617.12L194.04 616.52L195.04 616.52L195.04 615.81L196.04 615.81L196.04 616.06L197.04 616.06L197.04 616.76L198.04 616.76L198.04 616.63L199.04 616.63L199.04 615.82L200.04 615.82L200.04 616.06L201.04 616.06L201.04 615.96L202.04 615.96L202.04 615.71L203.04 615.71L203.04 615.42L204.04 615.42L204.04 614.65L205.04 614.65L205.04 615.34L206.04 615.34L206.04 614.64L207.04 614.64L207.04 614.77L208.04 614.77L208.04 614.13L209.04 614.13L209.04 613.62L210.04 613.62L210.04 614.14L211.04 614.14L211.04 613.64L212.04 613.64L212.04 613.67L213.04 613.67L213.04 616.91L214.04 616.91L214.04 614.09L215.04 614.09L215.04 612.75L216.04 612.75L216.04 610.83L217.04 610.83L217.04 608.88L218.04 608.88L218.04 606.54L219.04 606.54L219.04 605.05L220.04 605.05L220.04 602.01L221.04 602.01L221.04 600.16L222.04 600.16L222.04 597.24L223.04 597.24L223.04 597.6L224.04 597.6L224.04 598.73L225.04 598.73L225.04 599.11L226.04 599.11L226.04 601.22L227.04 601.22L227.04 603.27L228.04 603.27L228.04 605.23L229.04 605.23L229.04 608.07L230.04 608.07L230.04 605.16L231.04 605.16L231.04 602.22L232.04 602.22L232.04 599.22L233.04 599.22L233.04 596.96L234.04 596.96L234.04 594.94L235.04 594.94L235.04 593.87L236.04 593.87L236.04 593.82L237.04 593.82L237.04 593.1L238.04 593.1L238.04 594.52L239.04 594.52L239.04 594.54L240.04 594.54L240.04 595.09L241.04 595.09L241.04 596.29L242.04 596.29L242.04 619.56Z" fill="#f4c5c5"/>
<path d="M185.04 663.18L185.04 662.32L186.04 662.32L186.04 661.58L187.04 661.58L187.04 662.37L188.04 662.37L188.04 662.01L189.04 662.01L189.04 661.61L190.04 661.61L190.04 662.49L191.04 662.49L191.04 662.17L192.04 662.17L192.04 661.95L193.04 661.95L193.04 661.82L194.04 661.82L194.04 662.26L195.04 662.26L195.04 661.9L196.04 661.9L196.04 662.39L197.04 662.39L197.04 662.32L198.04 662.32L198.04 661.95L199.04 661.95L199.04 662.18L200.04 662.18L200.04 661.06L201.04 661.06L201.04 661.96L202.04 661.96L202.04 661.91L203.04 661.91L203.04 661.2L204.04 661.2L204.04 661.23L205.04 661.23L205.04 661.88L206.04 661.88L206.04 661.19L207.04 661.19L207.04 661.51L208.04 661.51L208.04 661.88L209.04 661.88L209.04 661.62L210.04 661.62L210.04 662.19L211.04 662.19L211.04 661.98L212.04 661.98L212.04 660.93L213.04 660.93L213.04 661.28L214.04 661.28L214.04 659.52L215.04 659.52L215.04 659.31L216.04 659.31L216.04 658.21L217.04 658.21L217.04 657.15L218.04 657.15L218.04 654.02L219.04 654.02L219.04 652.04L220.04 652.04L220.04 650.55L221.04 650.55L221.04 648.77L222.04 648.77L222.04 646.35L223.04 646.35L223.04 645.4L224.04 645.4L224.04 644.67L225.04 644.67L225.04 645.94L226.04 645.94L226.04 645.39L227.04 645.39L227.04 646.18L228.04 646.18L228.04 645.56L229.04 645.56L229.04 645.88L230.04 645.88L230.04 646.05L231.04 646.05L231.04 646.74L232.04 646.74L232.04 645.96L233.04 645.96L233.04 647.24L234.04 647.24L234.04 647.47L235.04 647.47L235.04 646.43L236.04 646.43L236.04 646.22L237.04 646.22L237.04 645.26L238.04 645.26L238.04 643.75L239.04 643.75L239.04 641.76L240.04 641.76L240.04 638.31L241.04 638.31L241.04 635.41L242.04 635.41L242.04 663.18Z" fill="#91a8d3"/>
<path d="M186.75 706.8L186.75 705.39L187.75 705.39L187.75 704.63L188.75 704.63L188.75 704.37L189.75 704.37L189.75 705.32L190.75 705.32L190.75 704.48L191.75 704.48L191.75 705.14L192.75 705.14L192.75 705.09L193.75 705.09L193.75 705.48L194.75 705.48L194.75 704.48L195.75 704.48L195.75 704.8L196.75 704.8L196.75 704.29L197.75 704.29L197.75 704.87L198.75 704.87L198.75 705.27L199.75 705.27L199.75 705.19L200.75 705.19L200.75 706L201.75 706L201.75 706.8L202.75 706.8L202.75 706.8L203.75 706.8L203.75 706.8L204.75 706.8L204.75 706.8L205.75 706.8L205.75 705.79L206.75 705.79L206.75 705.21L207.75 705.21L207.75 705.36L208.75 705.36L208.75 705.01L209.75 705.01L209.75 705.38L210.75 705.38L210.75 704.92L211.75 704.92L211.75 704.66L212.75 704.66L212.75 704.62L213.75 704.62L213.75 705.25L214.75 705.25L214.75 705.1L215.75 705.1L215.75 704.29L216.75 704.29L216.75 703.68L217.75 703.68L217.75 703.17L218.75 703.17L218.75 701.99L219.75 701.99L219.75 700.53L220.75 700.53L220.75 700.53L221.75 700.53L221.75 699.47L222.75 699.47L222.75 698.91L223.75 698.91L223.75 698.59L224.75 698.59L224.75 697.84L225.75 697.84L225.75 698.03L226.75 698.03L226.75 697.62L227.75 697.62L227.75 697.67L228.75 697.67L228.75 696.92L229.75 696.92L229.75 697.65L230.75 697.65L230.75 699.53L231.75 699.53L231.75 700.93L232.75 700.93L232.75 701.89L233.75 701.89L233.75 702.04L234.75 702.04L234.75 701.34L235.75 701.34L235.75 702.16L236.75 702.16L236.75 701.68L237.75 701.68L237.75 701.66L238.75 701.66L238.75 701.17L239.75 701.17L239.75 701.01L240.75 701.01L240.75 698.87L241.75 698.87L241.75 698.62L242.04 698.62L242.04 706.8Z" fill="#91a8d3"/>
<path d="M185.04 750.42L185.04 729.23L186.04 729.23L186.04 727.36L187.04 727.36L187.04 726.22L188.04 726.22L188.04 726.17L189.04 726.17L189.04 726.75L190.04 726.75L190.04 724.44L191.04 724.44L191.04 725.66L192.04 725.66L192.04 724.93L193.04 724.93L193.04 724.58L194.04 724.58L194.04 725.51L195.04 725.51L195.04 725.02L196.04 725.02L196.04 725.12L197.04 725.12L197.04 726.09L198.04 726.09L198.04 726.6L199.04 726.6L199.04 725.53L200.04 725.53L200.04 726.67L201.04 726.67L201.04 726.04L202.04 726.04L202.04 728.34L203.04 728.34L203.04 728.69L204.04 728.69L204.04 731.19L205.04 731.19L205.04 731.64L206.04 731.64L206.04 734.21L207.04 734.21L207.04 733.35L208.04 733.35L208.04 733.09L209.04 733.09L209.04 732.87L210.04 732.87L210.04 730.99L211.04 730.99L211.04 731.6L212.04 731.6L212.04 732.48L213.04 732.48L213.04 731.65L214.04 731.65L214.04 732.7L215.04 732.7L215.04 733.64L216.04 733.64L216.04 733.24L217.04 733.24L217.04 732.8L218.04 732.8L218.04 733.3L219.04 733.3L219.04 734.95L220.04 734.95L220.04 736.32L221.04 736.32L221.04 735.32L222.04 735.32L222.04 737.56L223.04 737.56L223.04 737.57L224.04 737.57L224.04 739.6L225.04 739.6L225.04 738.5L226.04 738.5L226.04 740.51L227.04 740.51L227.04 741.74L228.04 741.74L228.04 742.76L229.04 742.76L229.04 742.63L230.04 742.63L230.04 742.18L231.04 742.18L231.04 743.96L232.04 743.96L232.04 744.99L233.04 744.99L233.04 744.8L234.04 744.8L234.04 744.41L235.04 744.41L235.04 746.19L236.04 746.19L236.04 746.15L237.04 746.15L237.04 746.03L238.04 746.03L238.04 747.94L239.04 747.94L239.04 747.36L240.04 747.36L240.04 748.55L241.04 748.55L241.04 749.99L242.04 749.99L242.04 750.42Z" fill="#d6c8e1"/>
<path d="M185.04 794.04L185.04 773.18L186.04 773.18L186.04 770.92L187.04 770.92L187.04 771.8L188.04 771.8L188.04 771.63L189.04 771.63L189.04 770.32L190.04 770.32L190.04 771.1L191.04 771.1L191.04 771.27L192.04 771.27L192.04 771.77L193.04 771.77L193.04 770.71L194.04 770.71L194.04 771.83L195.04 771.83L195.04 771.34L196.04 771.34L196.04 770.67L197.04 770.67L197.04 771.03L198.04 771.03L198.04 772.59L199.04 772.59L199.04 772.92L200.04 772.92L200.04 772.27L201.04 772.27L201.04 772.68L202.04 772.68L202.04 774.62L203.04 774.62L203.04 773.04L204.04 773.04L204.04 775.53L205.04 775.53L205.04 776.08L206.04 776.08L206.04 777L207.04 777L207.04 776.92L208.04 776.92L208.04 777.27L209.04 777.27L209.04 777.21L210.04 777.21L210.04 779.1L211.04 779.1L211.04 778.15L212.04 778.15L212.04 779.9L213.04 779.9L213.04 779.71L214.04 779.71L214.04 781.38L215.04 781.38L215.04 782.05L216.04 782.05L216.04 783.58L217.04 783.58L217.04 782.38L218.04 782.38L218.04 784.11L219.04 784.11L219.04 782.97L220.04 782.97L220.04 784.31L221.04 784.31L221.04 784.07L222.04 784.07L222.04 784.33L223.04 784.33L223.04 785.08L224.04 785.08L224.04 784.59L225.04 784.59L225.04 784.88L226.04 784.88L226.04 786.76L227.04 786.76L227.04 787.04L228.04 787.04L228.04 786.18L229.04 786.18L229.04 788.3L230.04 788.3L230.04 787.88L231.04 787.88L231.04 788.14L232.04 788.14L232.04 787.09L233.04 787.09L233.04 789.3L234.04 789.3L234.04 788.33L235.04 788.33L235.04 788.34L236.04 788.34L236.04 788.66L237.04 788.66L237.04 790.59L238.04 790.59L238.04 788.78L239.04 788.78L239.04 790.6L240.04 790.6L240.04 789.71L241.04 789.71L241.04 790.52L242.04 790.52L242.04 794.04Z" fill="#d6c8e1"/>
<rect x="212.54" y="474.18" width="2" height="14.52" fill="#f47a20"/>
<rect x="212.54" y="525.06" width="2" height="7.26" fill="#f47a20"/>
<rect x="214.2" y="541.34" width="27.84" height="2.7" fill="#0000b4"/>
<rect x="213.3" y="584.96" width="28.74" height="2.7" fill="#0000b4"/>
<rect x="213" y="628.58" width="29.04" height="2.7" fill="#0000b4"/>
<rect x="213.5" y="672.2" width="28.54" height="2.7" fill="#0000b4"/>
<text x="185.34" y="462.9" font-size="8.4" text-anchor="start" fill="#231f20" font-weight="normal" font-style="normal">0-6076</text>
<text x="185.34" y="506.52" font-size="8.4" text-anchor="start" fill="#231f20" font-weight="normal" font-style="normal">0-2603</text>
<text x="185.34" y="550.14" font-size="8.4" text-anchor="start" fill="#231f20" font-weight="normal" font-style="normal">0-250</text>
<text x="185.34" y="593.76" font-size="8.4" text-anchor="start" fill="#231f20" font-weight="normal" font-style="normal">0-100</text>
<text x="185.34" y="637.38" font-size="8.4" text-anchor="start" fill="#231f20" font-weight="normal" font-style="normal">0-350</text>
<text x="185.34" y="681" font-size="8.4" text-anchor="start" fill="#231f20" font-weight="normal" font-style="normal">0-100</text>
<text x="185.34" y="717.22" font-size="8.4" text-anchor="start" fill="#231f20" font-weight="normal" font-style="normal">0-234</text>
<text x="185.34" y="760.84" font-size="8.4" text-anchor="start" fill="#231f20" font-weight="normal" font-style="normal">0-175</text>
<circle cx="213.54" cy="816.6" r="8.6" fill="#7cc3b4"/>
<path d="M213.54 816.6L211.14 808.34A8.6 8.6 0 0 1 213.54 808Z" fill="#f5d87a"/>
<path d="M272.2 488.7L272.2 488.58L273.2 488.58L273.2 487.96L274.2 487.96L274.2 487.72L275.2 487.72L275.2 487.59L276.2 487.59L276.2 486.98L277.2 486.98L277.2 486.79L278.2 486.79L278.2 486.12L279.2 486.12L279.2 485.6L280.2 485.6L280.2 484.9L281.2 484.9L281.2 484.74L282.2 484.74L282.2 483.94L283.2 483.94L283.2 483.54L284.2 483.54L284.2 480.89L285.2 480.89L285.2 479.11L286.2 479.11L286.2 477.8L287.2 477.8L287.2 477.05L288.2 477.05L288.2 475.45L289.2 475.45L289.2 474.21L290.2 474.21L290.2 473.18L291.2 473.18L291.2 471.59L292.2 471.59L292.2 469.44L293.2 469.44L293.2 467.88L294.2 467.88L294.2 466.95L295.2 466.95L295.2 466.02L296.2 466.02L296.2 465.61L297.2 465.61L297.2 465.25L298.2 465.25L298.2 464.54L299.2 464.54L299.2 464.28L300.2 464.28L300.2 463.72L301.2 463.72L301.2 463.36L302.2 463.36L302.2 463.16L303.2 463.16L303.2 463.55L304.2 463.55L304.2 463.79L305.2 463.79L305.2 464.3L306.2 464.3L306.2 464.69L307.2 464.69L307.2 465.14L308.2 465.14L308.2 465.33L309.2 465.33L309.2 466.05L310.2 466.05L310.2 466.37L311.2 466.37L311.2 466.74L312.2 466.74L312.2 467.42L313.2 467.42L313.2 467.64L313.81 467.64L313.81 488.7Z" fill="#fde0d3"/>
<path d="M263.08 532.32L263.08 532.32L264.08 532.32L264.08 532.32L265.08 532.32L265.08 532.12L266.08 532.12L266.08 531.59L267.08 531.59L267.08 531.9L268.08 531.9L268.08 531.82L269.08 531.82L269.08 531.7L270.08 531.7L270.08 531.06L271.08 531.06L271.08 531.35L272.08 531.35L272.08 530.87L273.08 530.87L273.08 530.48L274.08 530.48L274.08 529.84L275.08 529.84L275.08 529.65L276.08 529.65L276.08 529.21L277.08 529.21L277.08 529.13L278.08 529.13L278.08 528.06L279.08 528.06L279.08 527.44L280.08 527.44L280.08 526.9L281.08 526.9L281.08 526.13L282.08 526.13L282.08 525.63L283.08 525.63L283.08 524.93L284.08 524.93L284.08 521.99L285.08 521.99L285.08 519.54L286.08 519.54L286.08 518.1L287.08 518.1L287.08 515.69L288.08 515.69L288.08 513.79L289.08 513.79L289.08 513.2L290.08 513.2L290.08 512.31L291.08 512.31L291.08 511.14L292.08 511.14L292.08 510.31L293.08 510.31L293.08 509.15L294.08 509.15L294.08 508.48L295.08 508.48L295.08 508.26L296.08 508.26L296.08 508.27L297.08 508.27L297.08 507.86L298.08 507.86L298.08 507.81L299.08 507.81L299.08 507.39L300.08 507.39L300.08 507.48L301.08 507.48L301.08 507.5L302.08 507.5L302.08 507.49L303.08 507.49L303.08 508.27L304.08 508.27L304.08 509.15L305.08 509.15L305.08 510.21L306.08 510.21L306.08 509.26L307.08 509.26L307.08 507.88L308.08 507.88L308.08 506.56L309.08 506.56L309.08 505.76L310.08 505.76L310.08 505.04L311.08 505.04L311.08 504.4L312.08 504.4L312.08 504.02L313.08 504.02L313.08 503.53L313.81 503.53L313.81 532.32Z" fill="#fde0d3"/>
<path d="M256.81 575.94L256.81 575.04L257.81 575.04L257.81 574.93L258.81 574.93L258.81 574.79L259.81 574.79L259.81 574.73L260.81 574.73L260.81 574.89L261.81 574.89L261.81 575.39L262.81 575.39L262.81 575.07L263.81 575.07L263.81 575.07L264.81 575.07L264.81 574.77L265.81 574.77L265.81 575L266.81 575L266.81 575.35L267.81 575.35L267.81 575.69L268.81 575.69L268.81 575.51L269.81 575.51L269.81 575.61L270.81 575.61L270.81 575.04L271.81 575.04L271.81 574.92L272.81 574.92L272.81 575.69L273.81 575.69L273.81 575.24L274.81 575.24L274.81 574.83L275.81 574.83L275.81 575.46L276.81 575.46L276.81 575.81L277.81 575.81L277.81 575.14L278.81 575.14L278.81 575.46L279.81 575.46L279.81 575.75L280.81 575.75L280.81 575.56L281.81 575.56L281.81 575.93L282.81 575.93L282.81 575.74L283.81 575.74L283.81 575.38L284.81 575.38L284.81 575.8L285.81 575.8L285.81 574.77L286.81 574.77L286.81 573.17L287.81 573.17L287.81 572.41L288.81 572.41L288.81 572.35L289.81 572.35L289.81 572.8L290.81 572.8L290.81 571.78L291.81 571.78L291.81 572.68L292.81 572.68L292.81 572.36L293.81 572.36L293.81 572.33L294.81 572.33L294.81 572.39L295.81 572.39L295.81 571.84L296.81 571.84L296.81 571.81L297.81 571.81L297.81 572.35L298.81 572.35L298.81 572.1L299.81 572.1L299.81 572.72L300.81 572.72L300.81 572.19L301.81 572.19L301.81 572.69L302.81 572.69L302.81 572.87L303.81 572.87L303.81 573.45L304.81 573.45L304.81 573.2L305.81 573.2L305.81 573.27L306.81 573.27L306.81 572.85L307.81 572.85L307.81 573.45L308.81 573.45L308.81 573.11L309.81 573.11L309.81 572.15L310.81 572.15L310.81 572.87L311.81 572.87L311.81 572L312.81 572L312.81 572.15L313.81 572.15L313.81 575.94Z" fill="#fae6e6"/>
<path d="M256.81 619.56L256.81 618.68L257.81 618.68L257.81 618.78L258.81 618.78L258.81 619.44L259.81 619.44L259.81 618.6L260.81 618.6L260.81 619.02L261.81 619.02L261.81 619.14L262.81 619.14L262.81 618.43L263.81 618.43L263.81 618.53L264.81 618.53L264.81 619.15L265.81 619.15L265.81 618.67L266.81 618.67L266.81 619.4L267.81 619.4L267.81 618.88L268.81 618.88L268.81 619.45L269.81 619.45L269.81 618.71L270.81 618.71L270.81 618.35L271.81 618.35L271.81 618.72L272.81 618.72L272.81 619.51L273.81 619.51L273.81 618.88L274.81 618.88L274.81 618.94L275.81 618.94L275.81 618.98L276.81 618.98L276.81 619.36L277.81 619.36L277.81 619.19L278.81 619.19L278.81 618.97L279.81 618.97L279.81 619.47L280.81 619.47L280.81 618.67L281.81 618.67L281.81 619.24L282.81 619.24L282.81 618.68L283.81 618.68L283.81 618.37L284.81 618.37L284.81 617.51L285.81 617.51L285.81 616.2L286.81 616.2L286.81 616.56L287.81 616.56L287.81 616.34L288.81 616.34L288.81 615.84L289.81 615.84L289.81 615.1L290.81 615.1L290.81 616.29L291.81 616.29L291.81 616.02L292.81 616.02L292.81 616.25L293.81 616.25L293.81 615.68L294.81 615.68L294.81 616.03L295.81 616.03L295.81 616.57L296.81 616.57L296.81 615.62L297.81 615.62L297.81 616.38L298.81 616.38L298.81 615.97L299.81 615.97L299.81 616.27L300.81 616.27L300.81 615.43L301.81 615.43L301.81 616.21L302.81 616.21L302.81 615.7L303.81 615.7L303.81 615.33L304.81 615.33L304.81 615.07L305.81 615.07L305.81 614.05L306.81 614.05L306.81 614.18L307.81 614.18L307.81 614.09L308.81 614.09L308.81 613.65L309.81 613.65L309.81 613.78L310.81 613.78L310.81 614.72L311.81 614.72L311.81 615.46L312.81 615.46L312.81 615.76L313.81 615.76L313.81 619.56Z" fill="#fae6e6"/>
<path d="M261.37 663.18L261.37 662.45L262.37 662.45L262.37 661.98L263.37 661.98L263.37 661.96L264.37 661.96L264.37 662.35L265.37 662.35L265.37 661.94L266.37 661.94L266.37 661.36L267.37 661.36L267.37 662.12L268.37 662.12L268.37 662.42L269.37 662.42L269.37 662.38L270.37 662.38L270.37 662.4L271.37 662.4L271.37 662.95L272.37 662.95L272.37 662.59L273.37 662.59L273.37 662.21L274.37 662.21L274.37 663.13L275.37 663.13L275.37 663.04L276.37 663.04L276.37 662.13L277.37 662.13L277.37 661.47L278.37 661.47L278.37 662.11L279.37 662.11L279.37 661.63L280.37 661.63L280.37 660.45L281.37 660.45L281.37 660.44L282.37 660.44L282.37 659.48L283.37 659.48L283.37 659.84L284.37 659.84L284.37 658.82L285.37 658.82L285.37 658.52L286.37 658.52L286.37 657.43L287.37 657.43L287.37 656.08L288.37 656.08L288.37 655.46L289.37 655.46L289.37 654.13L290.37 654.13L290.37 653.63L291.37 653.63L291.37 653.4L292.37 653.4L292.37 652.58L293.37 652.58L293.37 652.94L294.37 652.94L294.37 652.03L295.37 652.03L295.37 652.08L296.37 652.08L296.37 652.37L297.37 652.37L297.37 653.74L298.37 653.74L298.37 653.41L299.37 653.41L299.37 654.79L300.37 654.79L300.37 654.94L301.37 654.94L301.37 654.1L302.37 654.1L302.37 652.6L303.37 652.6L303.37 651.82L304.37 651.82L304.37 649.7L305.37 649.7L305.37 648.01L306.37 648.01L306.37 647.65L307.37 647.65L307.37 647.62L308.37 647.62L308.37 648.69L309.37 648.69L309.37 650.09L310.37 650.09L310.37 651.49L311.37 651.49L311.37 652.78L312.37 652.78L312.37 653.63L313.37 653.63L313.37 653.78L313.81 653.78L313.81 663.18Z" fill="#d6e0f1"/>
<path d="M256.81 706.8L256.81 706.27L257.81 706.27L257.81 706.46L258.81 706.46L258.81 705.98L259.81 705.98L259.81 706.22L260.81 706.22L260.81 705.99L261.81 705.99L261.81 706.2L262.81 706.2L262.81 706.42L263.81 706.42L263.81 706.75L264.81 706.75L264.81 705.72L265.81 705.72L265.81 705.93L266.81 705.93L266.81 706.48L267.81 706.48L267.81 706.13L268.81 706.13L268.81 705.94L269.81 705.94L269.81 705.96L270.81 705.96L270.81 705.35L271.81 705.35L271.81 705.42L272.81 705.42L272.81 705.81L273.81 705.81L273.81 705.53L274.81 705.53L274.81 704.94L275.81 704.94L275.81 705.3L276.81 705.3L276.81 704.05L277.81 704.05L277.81 705L278.81 705L278.81 704.16L279.81 704.16L279.81 704.23L280.81 704.23L280.81 703.67L281.81 703.67L281.81 704.09L282.81 704.09L282.81 703.64L283.81 703.64L283.81 702.41L284.81 702.41L284.81 702.46L285.81 702.46L285.81 702.63L286.81 702.63L286.81 701.74L287.81 701.74L287.81 701.72L288.81 701.72L288.81 701.02L289.81 701.02L289.81 700.45L290.81 700.45L290.81 699.06L291.81 699.06L291.81 699.6L292.81 699.6L292.81 699.34L293.81 699.34L293.81 699.23L294.81 699.23L294.81 698.83L295.81 698.83L295.81 697.75L296.81 697.75L296.81 698.33L297.81 698.33L297.81 698.34L298.81 698.34L298.81 698.7L299.81 698.7L299.81 699.1L300.81 699.1L300.81 700.14L301.81 700.14L301.81 700.6L302.81 700.6L302.81 700.82L303.81 700.82L303.81 701.43L304.81 701.43L304.81 701.61L305.81 701.61L305.81 700.78L306.81 700.78L306.81 700.96L307.81 700.96L307.81 701.48L308.81 701.48L308.81 700.98L309.81 700.98L309.81 700.14L310.81 700.14L310.81 700.03L311.81 700.03L311.81 700.07L312.81 700.07L312.81 699.95L313.81 699.95L313.81 706.8Z" fill="#91a8d3"/>
<path d="M256.81 750.42L256.81 729.42L257.81 729.42L257.81 729.74L258.81 729.74L258.81 729.65L259.81 729.65L259.81 728.71L260.81 728.71L260.81 729.93L261.81 729.93L261.81 732.04L262.81 732.04L262.81 733.07L263.81 733.07L263.81 734.21L264.81 734.21L264.81 737.16L265.81 737.16L265.81 739.43L266.81 739.43L266.81 739.45L267.81 739.45L267.81 739.17L268.81 739.17L268.81 737.81L269.81 737.81L269.81 738.9L270.81 738.9L270.81 738.09L271.81 738.09L271.81 738.24L272.81 738.24L272.81 738.01L273.81 738.01L273.81 738.06L274.81 738.06L274.81 737.89L275.81 737.89L275.81 739.68L276.81 739.68L276.81 740.57L277.81 740.57L277.81 741.02L278.81 741.02L278.81 741.17L279.81 741.17L279.81 742.31L280.81 742.31L280.81 742.65L281.81 742.65L281.81 740.11L282.81 740.11L282.81 735.88L283.81 735.88L283.81 735.62L284.81 735.62L284.81 735.79L285.81 735.79L285.81 734.76L286.81 734.76L286.81 737.17L287.81 737.17L287.81 739.88L288.81 739.88L288.81 741.47L289.81 741.47L289.81 742.3L290.81 742.3L290.81 743.65L291.81 743.65L291.81 743.27L292.81 743.27L292.81 745.13L293.81 745.13L293.81 743.94L294.81 743.94L294.81 746.01L295.81 746.01L295.81 745.14L296.81 745.14L296.81 745.1L297.81 745.1L297.81 745.26L298.81 745.26L298.81 746.05L299.81 746.05L299.81 745.39L300.81 745.39L300.81 746.18L301.81 746.18L301.81 746.38L302.81 746.38L302.81 748.14L303.81 748.14L303.81 748.24L304.81 748.24L304.81 747.94L305.81 747.94L305.81 748.11L306.81 748.11L306.81 749.42L307.81 749.42L307.81 748.08L308.81 748.08L308.81 749.13L309.81 749.13L309.81 748.98L310.81 748.98L310.81 749.02L311.81 749.02L311.81 748.43L312.81 748.43L312.81 749.81L313.81 749.81L313.81 750.42Z" fill="#d6c8e1"/>
<path d="M256.81 794.04L256.81 780.41L257.81 780.41L257.81 781.72L258.81 781.72L258.81 783.01L259.81 783.01L259.81 785.2L260.81 785.2L260.81 787.15L261.81 787.15L261.81 789.03L262.81 789.03L262.81 788.99L263.81 788.99L263.81 788.64L264.81 788.64L264.81 789.57L265.81 789.57L265.81 788.6L266.81 788.6L266.81 786.55L267.81 786.55L267.81 785.24L268.81 785.24L268.81 783.31L269.81 783.31L269.81 779.25L270.81 779.25L270.81 781.83L271.81 781.83L271.81 781.78L272.81 781.78L272.81 783.32L273.81 783.32L273.81 785.49L274.81 785.49L274.81 787.25L275.81 787.25L275.81 789.82L276.81 789.82L276.81 789.67L277.81 789.67L277.81 787.34L278.81 787.34L278.81 788.1L279.81 788.1L279.81 786.31L280.81 786.31L280.81 784.09L281.81 784.09L281.81 782.61L282.81 782.61L282.81 782.37L283.81 782.37L283.81 780.17L284.81 780.17L284.81 777.88L285.81 777.88L285.81 774.29L286.81 774.29L286.81 776.53L287.81 776.53L287.81 778.69L288.81 778.69L288.81 779.91L289.81 779.91L289.81 781.17L290.81 781.17L290.81 783.22L291.81 783.22L291.81 783.23L292.81 783.23L292.81 783.98L293.81 783.98L293.81 785.41L294.81 785.41L294.81 786.14L295.81 786.14L295.81 785.92L296.81 785.92L296.81 785.61L297.81 785.61L297.81 786.53L298.81 786.53L298.81 787.97L299.81 787.97L299.81 787.03L300.81 787.03L300.81 786.79L301.81 786.79L301.81 787.68L302.81 787.68L302.81 786.98L303.81 786.98L303.81 788.01L304.81 788.01L304.81 787.78L305.81 787.78L305.81 788.14L306.81 788.14L306.81 788.35L307.81 788.35L307.81 788.11L308.81 788.11L308.81 788.95L309.81 788.95L309.81 789.09L310.81 789.09L310.81 789.25L311.81 789.25L311.81 790.49L312.81 790.49L312.81 789.74L313.81 789.74L313.81 794.04Z" fill="#d6c8e1"/>
<rect x="284.31" y="479.79" width="2" height="8.91" fill="#f47a20"/>
<rect x="284.31" y="520.11" width="2" height="12.21" fill="#f47a20"/>
<rect x="293" y="541.34" width="20.81" height="2.7" fill="#0000b4"/>
<rect x="288.5" y="584.96" width="25.31" height="2.7" fill="#0000b4"/>
<rect x="286.9" y="628.58" width="26.91" height="2.7" fill="#0000b4"/>
<rect x="283.5" y="672.2" width="30.31" height="2.7" fill="#0000b4"/>
<text x="257.11" y="462.9" font-size="8.4" text-anchor="start" fill="#231f20" font-weight="normal" font-style="normal">0-1000</text>
<text x="257.11" y="506.52" font-size="8.4" text-anchor="start" fill="#231f20" font-weight="normal" font-style="normal">0-500</text>
<text x="257.11" y="550.14" font-size="8.4" text-anchor="start" fill="#231f20" font-weight="normal" font-style="normal">0-100</text>
<text x="257.11" y="593.76" font-size="8.4" text-anchor="start" fill="#231f20" font-weight="normal" font-style="normal">0-100</text>
<text x="257.11" y="637.38" font-size="8.4" text-anchor="start" fill="#231f20" font-weight="normal" font-style="normal">0-100</text>
<text x="257.11" y="681" font-size="8.4" text-anchor="start" fill="#231f20" font-weight="normal" font-style="normal">0-100</text>
<text x="257.11" y="717.22" font-size="8.4" text-anchor="start" fill="#231f20" font-weight="normal" font-style="normal">0-95</text>
<text x="257.11" y="760.84" font-size="8.4" text-anchor="start" fill="#231f20" font-weight="normal" font-style="normal">0-34</text>
<circle cx="285.31" cy="816.6" r="8.6" fill="#7cc3b4"/>
<path d="M336.56 488.7L336.56 488.37L337.56 488.37L337.56 488.23L338.56 488.23L338.56 487.27L339.56 487.27L339.56 487.11L340.56 487.11L340.56 486.43L341.56 486.43L341.56 482.75L342.56 482.75L342.56 479.43L343.56 479.43L343.56 478.5L344.56 478.5L344.56 477.78L345.56 477.78L345.56 476.56L346.56 476.56L346.56 476L347.56 476L347.56 475.11L348.56 475.11L348.56 474.02L349.56 474.02L349.56 473.65L350.56 473.65L350.56 472.58L351.56 472.58L351.56 471.61L352.56 471.61L352.56 471.35L353.56 471.35L353.56 470.02L354.56 470.02L354.56 469.23L355.56 469.23L355.56 468.37L356.56 468.37L356.56 466.76L357.56 466.76L357.56 468.76L358.56 468.76L358.56 470.69L359.56 470.69L359.56 470.12L360.56 470.12L360.56 469.69L361.56 469.69L361.56 468.86L362.56 468.86L362.56 467.34L363.56 467.34L363.56 466.09L364.56 466.09L364.56 464.72L365.56 464.72L365.56 464.59L366.56 464.59L366.56 463.71L367.56 463.71L367.56 462.76L368.56 462.76L368.56 462.1L369.56 462.1L369.56 461.59L370.56 461.59L370.56 461.3L371.56 461.3L371.56 460.61L372.56 460.61L372.56 460.37L373.56 460.37L373.56 459.88L374.56 459.88L374.56 459.5L375.56 459.5L375.56 458.94L376.56 458.94L376.56 458.64L377.56 458.64L377.56 458.07L378.56 458.07L378.56 458.79L379.56 458.79L379.56 459.28L380.56 459.28L380.56 459.67L381.56 459.67L381.56 460.23L382.56 460.23L382.56 462.09L383.56 462.09L383.56 463.13L384.56 463.13L384.56 465.2L385.56 465.2L385.56 465.91L385.58 465.91L385.58 488.7Z" fill="#fde0d3"/>
<path d="M336.56 532.32L336.56 532.32L337.56 532.32L337.56 531.87L338.56 531.87L338.56 530.95L339.56 530.95L339.56 530.95L340.56 530.95L340.56 530.5L341.56 530.5L341.56 526.69L342.56 526.69L342.56 524.05L343.56 524.05L343.56 522.96L344.56 522.96L344.56 522.22L345.56 522.22L345.56 521.19L346.56 521.19L346.56 520.66L347.56 520.66L347.56 519.94L348.56 519.94L348.56 519.28L349.56 519.28L349.56 518.59L350.56 518.59L350.56 518.2L351.56 518.2L351.56 517.5L352.56 517.5L352.56 516.86L353.56 516.86L353.56 516.12L354.56 516.12L354.56 515.2L355.56 515.2L355.56 514.23L356.56 514.23L356.56 512.01L357.56 512.01L357.56 513.05L358.56 513.05L358.56 514.06L359.56 514.06L359.56 514.63L360.56 514.63L360.56 513.83L361.56 513.83L361.56 513.16L362.56 513.16L362.56 512L363.56 512L363.56 511.26L364.56 511.26L364.56 510.44L365.56 510.44L365.56 509.49L366.56 509.49L366.56 509.4L367.56 509.4L367.56 508.65L368.56 508.65L368.56 507.9L369.56 507.9L369.56 507.51L370.56 507.51L370.56 506.76L371.56 506.76L371.56 506.59L372.56 506.59L372.56 505.78L373.56 505.78L373.56 506.09L374.56 506.09L374.56 505.24L375.56 505.24L375.56 505.26L376.56 505.26L376.56 505.25L377.56 505.25L377.56 504.79L378.56 504.79L378.56 504.65L379.56 504.65L379.56 505.24L380.56 505.24L380.56 505.64L381.56 505.64L381.56 506L382.56 506L382.56 507.62L383.56 507.62L383.56 508.58L384.56 508.58L384.56 509.63L385.56 509.63L385.56 509.93L385.58 509.93L385.58 532.32Z" fill="#fde0d3"/>
<path d="M328.58 575.94L328.58 560.53L329.58 560.53L329.58 562.82L330.58 562.82L330.58 563L331.58 563L331.58 564.86L332.58 564.86L332.58 566.48L333.58 566.48L333.58 567.91L334.58 567.91L334.58 568.35L335.58 568.35L335.58 569.11L336.58 569.11L336.58 570.09L337.58 570.09L337.58 571.17L338.58 571.17L338.58 571.22L339.58 571.22L339.58 572.74L340.58 572.74L340.58 573.85L341.58 573.85L341.58 573.14L342.58 573.14L342.58 573.71L343.58 573.71L343.58 573.34L344.58 573.34L344.58 573.62L345.58 573.62L345.58 573.31L346.58 573.31L346.58 572.18L347.58 572.18L347.58 572.54L348.58 572.54L348.58 572.19L349.58 572.19L349.58 571.24L350.58 571.24L350.58 570.48L351.58 570.48L351.58 569.92L352.58 569.92L352.58 569.37L353.58 569.37L353.58 568.9L354.58 568.9L354.58 568.3L355.58 568.3L355.58 567.59L356.58 567.59L356.58 567.65L357.58 567.65L357.58 568.61L358.58 568.61L358.58 568.16L359.58 568.16L359.58 569.04L360.58 569.04L360.58 568.19L361.58 568.19L361.58 566.05L362.58 566.05L362.58 563.79L363.58 563.79L363.58 562.14L364.58 562.14L364.58 559.29L365.58 559.29L365.58 558.78L366.58 558.78L366.58 558.33L367.58 558.33L367.58 557.32L368.58 557.32L368.58 555.28L369.58 555.28L369.58 555.2L370.58 555.2L370.58 555.09L371.58 555.09L371.58 554.04L372.58 554.04L372.58 554.44L373.58 554.44L373.58 552.83L374.58 552.83L374.58 552.28L375.58 552.28L375.58 552.15L376.58 552.15L376.58 551.94L377.58 551.94L377.58 550.09L378.58 550.09L378.58 548.2L379.58 548.2L379.58 547.49L380.58 547.49L380.58 548.24L381.58 548.24L381.58 548.46L382.58 548.46L382.58 548.93L383.58 548.93L383.58 548.85L384.58 548.85L384.58 550.84L385.58 550.84L385.58 575.94Z" fill="#f4c5c5"/>
<path d="M328.58 619.56L328.58 606.96L329.58 606.96L329.58 607.43L330.58 607.43L330.58 608.48L331.58 608.48L331.58 610.07L332.58 610.07L332.58 610.59L333.58 610.59L333.58 612.35L334.58 612.35L334.58 612.19L335.58 612.19L335.58 613.2L336.58 613.2L336.58 614.61L337.58 614.61L337.58 614.98L338.58 614.98L338.58 616.66L339.58 616.66L339.58 616.67L340.58 616.67L340.58 618.44L341.58 618.44L341.58 617.42L342.58 617.42L342.58 617.27L343.58 617.27L343.58 616.88L344.58 616.88L344.58 616.88L345.58 616.88L345.58 617.48L346.58 617.48L346.58 616.94L347.58 616.94L347.58 616.17L348.58 616.17L348.58 615.38L349.58 615.38L349.58 615.05L350.58 615.05L350.58 615.28L351.58 615.28L351.58 614.25L352.58 614.25L352.58 613.63L353.58 613.63L353.58 613.23L354.58 613.23L354.58 612.54L355.58 612.54L355.58 611.65L356.58 611.65L356.58 612.06L357.58 612.06L357.58 612.41L358.58 612.41L358.58 612.44L359.58 612.44L359.58 611.95L360.58 611.95L360.58 611.7L361.58 611.7L361.58 610.13L362.58 610.13L362.58 608.51L363.58 608.51L363.58 608.33L364.58 608.33L364.58 605.8L365.58 605.8L365.58 603.94L366.58 603.94L366.58 600.91L367.58 600.91L367.58 600.11L368.58 600.11L368.58 600.99L369.58 600.99L369.58 602.08L370.58 602.08L370.58 603.16L371.58 603.16L371.58 603.74L372.58 603.74L372.58 603.98L373.58 603.98L373.58 603.48L374.58 603.48L374.58 602.63L375.58 602.63L375.58 601.97L376.58 601.97L376.58 601.25L377.58 601.25L377.58 599.24L378.58 599.24L378.58 598.69L379.58 598.69L379.58 598.96L380.58 598.96L380.58 598.36L381.58 598.36L381.58 598.01L382.58 598.01L382.58 596.83L383.58 596.83L383.58 596.8L384.58 596.8L384.58 597.23L385.58 597.23L385.58 619.56Z" fill="#fae6e6"/>
<path d="M328.58 663.18L328.58 662.01L329.58 662.01L329.58 661.95L330.58 661.95L330.58 663.12L331.58 663.12L331.58 662.57L332.58 662.57L332.58 662.89L333.58 662.89L333.58 662.34L334.58 662.34L334.58 662.71L335.58 662.71L335.58 662.79L336.58 662.79L336.58 662.78L337.58 662.78L337.58 662.38L338.58 662.38L338.58 662.52L339.58 662.52L339.58 662.54L340.58 662.54L340.58 662.28L341.58 662.28L341.58 662.56L342.58 662.56L342.58 661.93L343.58 661.93L343.58 662.53L344.58 662.53L344.58 661.39L345.58 661.39L345.58 660.53L346.58 660.53L346.58 660.26L347.58 660.26L347.58 659.85L348.58 659.85L348.58 659.23L349.58 659.23L349.58 658.97L350.58 658.97L350.58 659.3L351.58 659.3L351.58 658.65L352.58 658.65L352.58 658.64L353.58 658.64L353.58 658.46L354.58 658.46L354.58 657.11L355.58 657.11L355.58 656.84L356.58 656.84L356.58 656.2L357.58 656.2L357.58 655.75L358.58 655.75L358.58 654.42L359.58 654.42L359.58 650.76L360.58 650.76L360.58 648.38L361.58 648.38L361.58 645.48L362.58 645.48L362.58 642.5L363.58 642.5L363.58 639.54L364.58 639.54L364.58 637.17L365.58 637.17L365.58 635.16L366.58 635.16L366.58 634.74L367.58 634.74L367.58 636.85L368.58 636.85L368.58 637.35L369.58 637.35L369.58 637.7L370.58 637.7L370.58 638.6L371.58 638.6L371.58 638.24L372.58 638.24L372.58 639.04L373.58 639.04L373.58 638.98L374.58 638.98L374.58 639.39L375.58 639.39L375.58 638.12L376.58 638.12L376.58 638.5L377.58 638.5L377.58 637.71L378.58 637.71L378.58 637.21L379.58 637.21L379.58 637.08L380.58 637.08L380.58 636.38L381.58 636.38L381.58 635.53L382.58 635.53L382.58 633.9L383.58 633.9L383.58 633.55L384.58 633.55L384.58 633.52L385.58 633.52L385.58 663.18Z" fill="#91a8d3"/>
<path d="M328.58 706.8L328.58 705.73L329.58 705.73L329.58 705.6L330.58 705.6L330.58 706.12L331.58 706.12L331.58 706.37L332.58 706.37L332.58 706.33L333.58 706.33L333.58 705.7L334.58 705.7L334.58 705.68L335.58 705.68L335.58 705.18L336.58 705.18L336.58 705.65L337.58 705.65L337.58 705.34L338.58 705.34L338.58 705.17L339.58 705.17L339.58 705.81L340.58 705.81L340.58 705.91L341.58 705.91L341.58 705.85L342.58 705.85L342.58 705.98L343.58 705.98L343.58 705.47L344.58 705.47L344.58 705.71L345.58 705.71L345.58 706.31L346.58 706.31L346.58 705.21L347.58 705.21L347.58 705.78L348.58 705.78L348.58 705.48L349.58 705.48L349.58 704.74L350.58 704.74L350.58 702.22L351.58 702.22L351.58 700.04L352.58 700.04L352.58 700.22L353.58 700.22L353.58 699.76L354.58 699.76L354.58 698.54L355.58 698.54L355.58 698.61L356.58 698.61L356.58 698.31L357.58 698.31L357.58 696.71L358.58 696.71L358.58 696.11L359.58 696.11L359.58 695.39L360.58 695.39L360.58 695.19L361.58 695.19L361.58 694.84L362.58 694.84L362.58 692.76L363.58 692.76L363.58 692.15L364.58 692.15L364.58 690.22L365.58 690.22L365.58 688.85L366.58 688.85L366.58 688.07L367.58 688.07L367.58 687.39L368.58 687.39L368.58 686.96L369.58 686.96L369.58 687.04L370.58 687.04L370.58 687.65L371.58 687.65L371.58 687.48L372.58 687.48L372.58 688.82L373.58 688.82L373.58 688.43L374.58 688.43L374.58 688.99L375.58 688.99L375.58 688.97L376.58 688.97L376.58 689.51L377.58 689.51L377.58 689.78L378.58 689.78L378.58 689.54L379.58 689.54L379.58 688.21L380.58 688.21L380.58 686.14L381.58 686.14L381.58 684.87L382.58 684.87L382.58 683.34L383.58 683.34L383.58 681.46L384.58 681.46L384.58 680.89L385.58 680.89L385.58 706.8Z" fill="#91a8d3"/>
<path d="M328.58 750.42L328.58 730.2L329.58 730.2L329.58 735.21L330.58 735.21L330.58 735.4L331.58 735.4L331.58 735.59L332.58 735.59L332.58 735.01L333.58 735.01L333.58 733.31L334.58 733.31L334.58 735.28L335.58 735.28L335.58 737.88L336.58 737.88L336.58 741.31L337.58 741.31L337.58 742.33L338.58 742.33L338.58 742.08L339.58 742.08L339.58 743.7L340.58 743.7L340.58 744.14L341.58 744.14L341.58 740.68L342.58 740.68L342.58 738.19L343.58 738.19L343.58 736.65L344.58 736.65L344.58 737.79L345.58 737.79L345.58 742.01L346.58 742.01L346.58 743.05L347.58 743.05L347.58 742.51L348.58 742.51L348.58 741.77L349.58 741.77L349.58 742.66L350.58 742.66L350.58 740.3L351.58 740.3L351.58 739.94L352.58 739.94L352.58 738.02L353.58 738.02L353.58 738.43L354.58 738.43L354.58 734.45L355.58 734.45L355.58 730.91L356.58 730.91L356.58 726.52L357.58 726.52L357.58 730.77L358.58 730.77L358.58 733.4L359.58 733.4L359.58 741.73L360.58 741.73L360.58 750.42L361.58 750.42L361.58 750.42L362.58 750.42L362.58 750.42L363.58 750.42L363.58 750.42L364.58 750.42L364.58 750.42L365.58 750.42L365.58 750.42L366.58 750.42L366.58 748.08L367.58 748.08L367.58 743.32L368.58 743.32L368.58 739.15L369.58 739.15L369.58 740.94L370.58 740.94L370.58 741L371.58 741L371.58 739.42L372.58 739.42L372.58 744.06L373.58 744.06L373.58 749.25L374.58 749.25L374.58 750.42L375.58 750.42L375.58 750.42L376.58 750.42L376.58 750.42L377.58 750.42L377.58 750.42L378.58 750.42L378.58 742.17L379.58 742.17L379.58 734.59L380.58 734.59L380.58 733.03L381.58 733.03L381.58 730.33L382.58 730.33L382.58 732.02L383.58 732.02L383.58 732.34L384.58 732.34L384.58 734.36L385.58 734.36L385.58 750.42Z" fill="#d6c8e1"/>
<path d="M328.58 794.04L328.58 768.75L329.58 768.75L329.58 779.35L330.58 779.35L330.58 775.28L331.58 775.28L331.58 768.5L332.58 768.5L332.58 762.86L333.58 762.86L333.58 763.73L334.58 763.73L334.58 763.24L335.58 763.24L335.58 762.85L336.58 762.85L336.58 764.11L337.58 764.11L337.58 767.9L338.58 767.9L338.58 770.67L339.58 770.67L339.58 772.58L340.58 772.58L340.58 776.82L341.58 776.82L341.58 776.17L342.58 776.17L342.58 774.4L343.58 774.4L343.58 773.76L344.58 773.76L344.58 772.3L345.58 772.3L345.58 774.61L346.58 774.61L346.58 774.89L347.58 774.89L347.58 776.03L348.58 776.03L348.58 778.26L349.58 778.26L349.58 779.06L350.58 779.06L350.58 780.59L351.58 780.59L351.58 781.39L352.58 781.39L352.58 783.29L353.58 783.29L353.58 775.94L354.58 775.94L354.58 768.82L355.58 768.82L355.58 762.12L356.58 762.12L356.58 765.07L357.58 765.07L357.58 766.31L358.58 766.31L358.58 766.62L359.58 766.62L359.58 770.65L360.58 770.65L360.58 776.52L361.58 776.52L361.58 778.43L362.58 778.43L362.58 781.25L363.58 781.25L363.58 782.58L364.58 782.58L364.58 784.84L365.58 784.84L365.58 787.5L366.58 787.5L366.58 788.84L367.58 788.84L367.58 787.92L368.58 787.92L368.58 788.62L369.58 788.62L369.58 789.03L370.58 789.03L370.58 788.5L371.58 788.5L371.58 787.29L372.58 787.29L372.58 784.98L373.58 784.98L373.58 785.82L374.58 785.82L374.58 786.98L375.58 786.98L375.58 785.77L376.58 785.77L376.58 786.39L377.58 786.39L377.58 789.4L378.58 789.4L378.58 790.51L379.58 790.51L379.58 790.44L380.58 790.44L380.58 792.24L381.58 792.24L381.58 790.69L382.58 790.69L382.58 788.85L383.58 788.85L383.58 788.45L384.58 788.45L384.58 788.15L385.58 788.15L385.58 794.04Z" fill="#d6c8e1"/>
<rect x="356.08" y="466.92" width="2" height="21.78" fill="#f47a20"/>
<rect x="356.08" y="511.86" width="2" height="20.46" fill="#f47a20"/>
<rect x="353.9" y="541.34" width="31.68" height="2.7" fill="#0000b4"/>
<rect x="358" y="584.96" width="27.58" height="2.7" fill="#0000b4"/>
<rect x="356.2" y="628.58" width="29.38" height="2.7" fill="#0000b4"/>
<rect x="356.2" y="672.2" width="29.38" height="2.7" fill="#0000b4"/>
<text x="328.88" y="462.9" font-size="8.4" text-anchor="start" fill="#231f20" font-weight="normal" font-style="normal">0-9671</text>
<text x="328.88" y="506.52" font-size="8.4" text-anchor="start" fill="#231f20" font-weight="normal" font-style="normal">0-13063</text>
<text x="328.88" y="550.14" font-size="8.4" text-anchor="start" fill="#231f20" font-weight="normal" font-style="normal">0-200</text>
<text x="328.88" y="593.76" font-size="8.4" text-anchor="start" fill="#231f20" font-weight="normal" font-style="normal">0-200</text>
<text x="328.88" y="637.38" font-size="8.4" text-anchor="start" fill="#231f20" font-weight="normal" font-style="normal">0-250</text>
<text x="328.88" y="681" font-size="8.4" text-anchor="start" fill="#231f20" font-weight="normal" font-style="normal">0-250</text>
<text x="328.88" y="717.22" font-size="8.4" text-anchor="start" fill="#231f20" font-weight="normal" font-style="normal">0-15</text>
<text x="328.88" y="760.84" font-size="8.4" text-anchor="start" fill="#231f20" font-weight="normal" font-style="normal">0-46</text>
<circle cx="357.08" cy="816.6" r="8.6" fill="#f5d87a"/>
<path d="M427.71 488.7L427.71 485.86L428.71 485.86L428.71 480.01L429.71 480.01L429.71 474.39L430.71 474.39L430.71 471.9L431.71 471.9L431.71 470.55L432.71 470.55L432.71 470L433.71 470L433.71 468.91L434.71 468.91L434.71 468.88L435.71 468.88L435.71 468.37L436.71 468.37L436.71 468.06L437.71 468.06L437.71 467.46L438.71 467.46L438.71 466.49L439.71 466.49L439.71 465.74L440.71 465.74L440.71 464.27L441.71 464.27L441.71 463.02L442.71 463.02L442.71 462.08L443.71 462.08L443.71 461.32L444.71 461.32L444.71 460.06L445.71 460.06L445.71 459.13L446.71 459.13L446.71 457.98L447.71 457.98L447.71 456.82L448.71 456.82L448.71 457.48L449.71 457.48L449.71 457.72L450.71 457.72L450.71 458.63L451.71 458.63L451.71 461.09L452.71 461.09L452.71 463.43L453.71 463.43L453.71 465.01L454.71 465.01L454.71 464.45L455.71 464.45L455.71 463.66L456.71 463.66L456.71 463.43L457.35 463.43L457.35 488.7Z" fill="#fde0d3"/>
<path d="M417.45 532.32L417.45 531.44L418.45 531.44L418.45 531.46L419.45 531.46L419.45 531.08L420.45 531.08L420.45 531.38L421.45 531.38L421.45 530.96L422.45 530.96L422.45 530.87L423.45 530.87L423.45 530.84L424.45 530.84L424.45 531.27L425.45 531.27L425.45 530.78L426.45 530.78L426.45 531.04L427.45 531.04L427.45 529.29L428.45 529.29L428.45 523.73L429.45 523.73L429.45 520.09L430.45 520.09L430.45 516.69L431.45 516.69L431.45 513.49L432.45 513.49L432.45 513.04L433.45 513.04L433.45 511.99L434.45 511.99L434.45 511.4L435.45 511.4L435.45 510.88L436.45 510.88L436.45 510.44L437.45 510.44L437.45 509.58L438.45 509.58L438.45 508.79L439.45 508.79L439.45 508.13L440.45 508.13L440.45 507.29L441.45 507.29L441.45 506.98L442.45 506.98L442.45 505.86L443.45 505.86L443.45 504.59L444.45 504.59L444.45 503.57L445.45 503.57L445.45 502.76L446.45 502.76L446.45 501.78L447.45 501.78L447.45 500.85L448.45 500.85L448.45 501.14L449.45 501.14L449.45 502.44L450.45 502.44L450.45 503.82L451.45 503.82L451.45 505.26L452.45 505.26L452.45 507.17L453.45 507.17L453.45 509.63L454.45 509.63L454.45 510.7L455.45 510.7L455.45 510.66L456.45 510.66L456.45 510.21L457.35 510.21L457.35 532.32Z" fill="#fde0d3"/>
<path d="M400.35 575.94L400.35 574.64L401.35 574.64L401.35 574.03L402.35 574.03L402.35 573.96L403.35 573.96L403.35 573.97L404.35 573.97L404.35 574.02L405.35 574.02L405.35 575.22L406.35 575.22L406.35 575.18L407.35 575.18L407.35 575.21L408.35 575.21L408.35 574.85L409.35 574.85L409.35 575.2L410.35 575.2L410.35 575.6L411.35 575.6L411.35 575.81L412.35 575.81L412.35 575.61L413.35 575.61L413.35 575.77L414.35 575.77L414.35 575.75L415.35 575.75L415.35 574.96L416.35 574.96L416.35 575.68L417.35 575.68L417.35 575.72L418.35 575.72L418.35 575.12L419.35 575.12L419.35 575.77L420.35 575.77L420.35 574.84L421.35 574.84L421.35 575.08L422.35 575.08L422.35 574.78L423.35 574.78L423.35 574.98L424.35 574.98L424.35 574.98L425.35 574.98L425.35 575.59L426.35 575.59L426.35 575.38L427.35 575.38L427.35 575.39L428.35 575.39L428.35 575.05L429.35 575.05L429.35 574.03L430.35 574.03L430.35 574.33L431.35 574.33L431.35 573.5L432.35 573.5L432.35 573.27L433.35 573.27L433.35 573.54L434.35 573.54L434.35 572.92L435.35 572.92L435.35 571.99L436.35 571.99L436.35 571.26L437.35 571.26L437.35 571.53L438.35 571.53L438.35 571.04L439.35 571.04L439.35 570.41L440.35 570.41L440.35 569.84L441.35 569.84L441.35 569.43L442.35 569.43L442.35 568.39L443.35 568.39L443.35 568.64L444.35 568.64L444.35 568.9L445.35 568.9L445.35 568.64L446.35 568.64L446.35 568.25L447.35 568.25L447.35 568.53L448.35 568.53L448.35 568.25L449.35 568.25L449.35 568.81L450.35 568.81L450.35 568.16L451.35 568.16L451.35 568.02L452.35 568.02L452.35 568.11L453.35 568.11L453.35 568.64L454.35 568.64L454.35 569.06L455.35 569.06L455.35 568.93L456.35 568.93L456.35 568.94L457.35 568.94L457.35 575.94Z" fill="#fae6e6"/>
<path d="M400.35 619.56L400.35 618.34L401.35 618.34L401.35 617.86L402.35 617.86L402.35 617.91L403.35 617.91L403.35 618.31L404.35 618.31L404.35 617.99L405.35 617.99L405.35 617.47L406.35 617.47L406.35 618.19L407.35 618.19L407.35 618.8L408.35 618.8L408.35 618.92L409.35 618.92L409.35 618.4L410.35 618.4L410.35 618.5L411.35 618.5L411.35 618.84L412.35 618.84L412.35 618.61L413.35 618.61L413.35 618.69L414.35 618.69L414.35 618.4L415.35 618.4L415.35 618.07L416.35 618.07L416.35 618.74L417.35 618.74L417.35 618.52L418.35 618.52L418.35 618.49L419.35 618.49L419.35 618.35L420.35 618.35L420.35 618.91L421.35 618.91L421.35 618.9L422.35 618.9L422.35 618.01L423.35 618.01L423.35 619.04L424.35 619.04L424.35 618.33L425.35 618.33L425.35 618.89L426.35 618.89L426.35 618.58L427.35 618.58L427.35 618.55L428.35 618.55L428.35 618.25L429.35 618.25L429.35 617.76L430.35 617.76L430.35 616.15L431.35 616.15L431.35 616.76L432.35 616.76L432.35 615.92L433.35 615.92L433.35 614.42L434.35 614.42L434.35 614.2L435.35 614.2L435.35 613.73L436.35 613.73L436.35 612.26L437.35 612.26L437.35 611.85L438.35 611.85L438.35 612.72L439.35 612.72L439.35 611.92L440.35 611.92L440.35 612.18L441.35 612.18L441.35 611.25L442.35 611.25L442.35 611.63L443.35 611.63L443.35 611.09L444.35 611.09L444.35 611.25L445.35 611.25L445.35 611.81L446.35 611.81L446.35 611.26L447.35 611.26L447.35 610.76L448.35 610.76L448.35 611.66L449.35 611.66L449.35 612.1L450.35 612.1L450.35 611.27L451.35 611.27L451.35 611.71L452.35 611.71L452.35 612.43L453.35 612.43L453.35 613.56L454.35 613.56L454.35 613.07L455.35 613.07L455.35 612.97L456.35 612.97L456.35 613.25L457.35 613.25L457.35 619.56Z" fill="#fae6e6"/>
<path d="M400.35 663.18L400.35 662.24L401.35 662.24L401.35 662.6L402.35 662.6L402.35 662.35L403.35 662.35L403.35 661.96L404.35 661.96L404.35 662.52L405.35 662.52L405.35 663.08L406.35 663.08L406.35 662.99L407.35 662.99L407.35 661.92L408.35 661.92L408.35 662.24L409.35 662.24L409.35 661.95L410.35 661.95L410.35 662.98L411.35 662.98L411.35 663.04L412.35 663.04L412.35 662.28L413.35 662.28L413.35 662.61L414.35 662.61L414.35 662.57L415.35 662.57L415.35 662.87L416.35 662.87L416.35 662.17L417.35 662.17L417.35 662.15L418.35 662.15L418.35 662.22L419.35 662.22L419.35 662.61L420.35 662.61L420.35 662.53L421.35 662.53L421.35 662.09L422.35 662.09L422.35 661.42L423.35 661.42L423.35 661.02L424.35 661.02L424.35 660.26L425.35 660.26L425.35 658.97L426.35 658.97L426.35 658.54L427.35 658.54L427.35 658.79L428.35 658.79L428.35 657.44L429.35 657.44L429.35 656.61L430.35 656.61L430.35 656.48L431.35 656.48L431.35 654.72L432.35 654.72L432.35 653.61L433.35 653.61L433.35 653.72L434.35 653.72L434.35 651.94L435.35 651.94L435.35 651.22L436.35 651.22L436.35 649.7L437.35 649.7L437.35 647.93L438.35 647.93L438.35 645.85L439.35 645.85L439.35 644.49L440.35 644.49L440.35 642.51L441.35 642.51L441.35 642.44L442.35 642.44L442.35 640.81L443.35 640.81L443.35 640.44L444.35 640.44L444.35 639.85L445.35 639.85L445.35 639.25L446.35 639.25L446.35 639.76L447.35 639.76L447.35 640.44L448.35 640.44L448.35 639.78L449.35 639.78L449.35 640.86L450.35 640.86L450.35 641.53L451.35 641.53L451.35 642.03L452.35 642.03L452.35 643.8L453.35 643.8L453.35 644.35L454.35 644.35L454.35 645.09L455.35 645.09L455.35 646.18L456.35 646.18L456.35 646.59L457.35 646.59L457.35 663.18Z" fill="#91a8d3"/>
<path d="M400.35 706.8L400.35 705.52L401.35 705.52L401.35 705.88L402.35 705.88L402.35 706.45L403.35 706.45L403.35 705.9L404.35 705.9L404.35 705.99L405.35 705.99L405.35 706.31L406.35 706.31L406.35 705.91L407.35 705.91L407.35 706.3L408.35 706.3L408.35 705.77L409.35 705.77L409.35 706.29L410.35 706.29L410.35 705.71L411.35 705.71L411.35 706.41L412.35 706.41L412.35 706.57L413.35 706.57L413.35 706.37L414.35 706.37L414.35 706.63L415.35 706.63L415.35 705.65L416.35 705.65L416.35 705.49L417.35 705.49L417.35 706.25L418.35 706.25L418.35 706.48L419.35 706.48L419.35 705.64L420.35 705.64L420.35 705.68L421.35 705.68L421.35 706.23L422.35 706.23L422.35 705.91L423.35 705.91L423.35 705.4L424.35 705.4L424.35 705.64L425.35 705.64L425.35 704.67L426.35 704.67L426.35 703.56L427.35 703.56L427.35 703.06L428.35 703.06L428.35 702.15L429.35 702.15L429.35 700.68L430.35 700.68L430.35 700.08L431.35 700.08L431.35 697.93L432.35 697.93L432.35 696.54L433.35 696.54L433.35 695.59L434.35 695.59L434.35 694.78L435.35 694.78L435.35 692.81L436.35 692.81L436.35 691.84L437.35 691.84L437.35 689.48L438.35 689.48L438.35 688.4L439.35 688.4L439.35 686.38L440.35 686.38L440.35 684.66L441.35 684.66L441.35 683.73L442.35 683.73L442.35 682.67L443.35 682.67L443.35 682.22L444.35 682.22L444.35 681.55L445.35 681.55L445.35 681.91L446.35 681.91L446.35 681.78L447.35 681.78L447.35 683.65L448.35 683.65L448.35 683.98L449.35 683.98L449.35 684.6L450.35 684.6L450.35 685.09L451.35 685.09L451.35 685.18L452.35 685.18L452.35 686.77L453.35 686.77L453.35 687.56L454.35 687.56L454.35 688.42L455.35 688.42L455.35 688.73L456.35 688.73L456.35 688.97L457.35 688.97L457.35 706.8Z" fill="#91a8d3"/>
<path d="M400.35 750.42L400.35 746.52L401.35 746.52L401.35 745.99L402.35 745.99L402.35 746.21L403.35 746.21L403.35 746.47L404.35 746.47L404.35 746.27L405.35 746.27L405.35 747.03L406.35 747.03L406.35 744.84L407.35 744.84L407.35 745.05L408.35 745.05L408.35 744.21L409.35 744.21L409.35 741.65L410.35 741.65L410.35 737.99L411.35 737.99L411.35 735.69L412.35 735.69L412.35 731.89L413.35 731.89L413.35 728.64L414.35 728.64L414.35 727.77L415.35 727.77L415.35 724.15L416.35 724.15L416.35 723.53L417.35 723.53L417.35 721.61L418.35 721.61L418.35 718.15L419.35 718.15L419.35 717.98L420.35 717.98L420.35 720.07L421.35 720.07L421.35 720.79L422.35 720.79L422.35 720.9L423.35 720.9L423.35 722.86L424.35 722.86L424.35 723.48L425.35 723.48L425.35 723.18L426.35 723.18L426.35 726.14L427.35 726.14L427.35 725.22L428.35 725.22L428.35 727.01L429.35 727.01L429.35 728.95L430.35 728.95L430.35 732.87L431.35 732.87L431.35 735.17L432.35 735.17L432.35 736.8L433.35 736.8L433.35 739.21L434.35 739.21L434.35 738.77L435.35 738.77L435.35 740.89L436.35 740.89L436.35 741.57L437.35 741.57L437.35 743.68L438.35 743.68L438.35 744.13L439.35 744.13L439.35 743.42L440.35 743.42L440.35 745.65L441.35 745.65L441.35 744.42L442.35 744.42L442.35 741.97L443.35 741.97L443.35 741.6L444.35 741.6L444.35 740.2L445.35 740.2L445.35 739.87L446.35 739.87L446.35 740.54L447.35 740.54L447.35 741.08L448.35 741.08L448.35 740.91L449.35 740.91L449.35 741.57L450.35 741.57L450.35 742.45L451.35 742.45L451.35 742.69L452.35 742.69L452.35 741.88L453.35 741.88L453.35 743.38L454.35 743.38L454.35 745.1L455.35 745.1L455.35 744.27L456.35 744.27L456.35 744.04L457.35 744.04L457.35 750.42Z" fill="#d6c8e1"/>
<path d="M400.35 794.04L400.35 789.68L401.35 789.68L401.35 789.76L402.35 789.76L402.35 789.63L403.35 789.63L403.35 789L404.35 789L404.35 788.81L405.35 788.81L405.35 788.88L406.35 788.88L406.35 787.7L407.35 787.7L407.35 787.31L408.35 787.31L408.35 785.04L409.35 785.04L409.35 782.67L410.35 782.67L410.35 780.17L411.35 780.17L411.35 778.52L412.35 778.52L412.35 774.82L413.35 774.82L413.35 772.32L414.35 772.32L414.35 769.44L415.35 769.44L415.35 764.69L416.35 764.69L416.35 764.46L417.35 764.46L417.35 762.19L418.35 762.19L418.35 761.22L419.35 761.22L419.35 763.52L420.35 763.52L420.35 766.71L421.35 766.71L421.35 768.67L422.35 768.67L422.35 769.91L423.35 769.91L423.35 771.78L424.35 771.78L424.35 772.6L425.35 772.6L425.35 772.03L426.35 772.03L426.35 773.04L427.35 773.04L427.35 771.9L428.35 771.9L428.35 772.93L429.35 772.93L429.35 775.24L430.35 775.24L430.35 778.07L431.35 778.07L431.35 780.36L432.35 780.36L432.35 783.51L433.35 783.51L433.35 784.39L434.35 784.39L434.35 785.56L435.35 785.56L435.35 787.82L436.35 787.82L436.35 788.35L437.35 788.35L437.35 786.17L438.35 786.17L438.35 786.67L439.35 786.67L439.35 786.82L440.35 786.82L440.35 786.39L441.35 786.39L441.35 785.84L442.35 785.84L442.35 786.25L443.35 786.25L443.35 786.64L444.35 786.64L444.35 786.86L445.35 786.86L445.35 785.65L446.35 785.65L446.35 785.83L447.35 785.83L447.35 787.81L448.35 787.81L448.35 786.41L449.35 786.41L449.35 786.95L450.35 786.95L450.35 787.77L451.35 787.77L451.35 787.31L452.35 787.31L452.35 788.71L453.35 788.71L453.35 788.04L454.35 788.04L454.35 788.89L455.35 788.89L455.35 789.25L456.35 789.25L456.35 790.89L457.35 790.89L457.35 794.04Z" fill="#d6c8e1"/>
<rect x="427.85" y="481.77" width="2" height="6.93" fill="#f47a20"/>
<rect x="427.85" y="524.07" width="2" height="8.25" fill="#f47a20"/>
<rect x="433" y="541.34" width="24.35" height="2.7" fill="#0000b4"/>
<rect x="430.2" y="584.96" width="27.15" height="2.7" fill="#0000b4"/>
<rect x="423" y="628.58" width="34.35" height="2.7" fill="#0000b4"/>
<rect x="424" y="672.2" width="33.35" height="2.7" fill="#0000b4"/>
<text x="400.65" y="462.9" font-size="8.4" text-anchor="start" fill="#231f20" font-weight="normal" font-style="normal">0-527</text>
<text x="400.65" y="506.52" font-size="8.4" text-anchor="start" fill="#231f20" font-weight="normal" font-style="normal">0-1096</text>
<text x="400.65" y="550.14" font-size="8.4" text-anchor="start" fill="#231f20" font-weight="normal" font-style="normal">0-200</text>
<text x="400.65" y="593.76" font-size="8.4" text-anchor="start" fill="#231f20" font-weight="normal" font-style="normal">0-200</text>
<text x="400.65" y="637.38" font-size="8.4" text-anchor="start" fill="#231f20" font-weight="normal" font-style="normal">0-200</text>
<text x="400.65" y="681" font-size="8.4" text-anchor="start" fill="#231f20" font-weight="normal" font-style="normal">0-250</text>
<text x="400.65" y="717.22" font-size="8.4" text-anchor="start" fill="#231f20" font-weight="normal" font-style="normal">0-468</text>
<text x="400.65" y="760.84" font-size="8.4" text-anchor="start" fill="#231f20" font-weight="normal" font-style="normal">0-374</text>
<circle cx="428.85" cy="816.6" r="8.6" fill="#7cc3b4"/>
<path d="M428.85 816.6L420.67 819.26A8.6 8.6 0 0 1 428.85 808Z" fill="#f5d87a"/>
<path d="M489.22 488.7L489.22 488.7L490.22 488.7L490.22 488.12L491.22 488.12L491.22 487.87L492.22 487.87L492.22 487.79L493.22 487.79L493.22 487.89L494.22 487.89L494.22 487.4L495.22 487.4L495.22 487.43L496.22 487.43L496.22 486.28L497.22 486.28L497.22 485.55L498.22 485.55L498.22 484.59L499.22 484.59L499.22 483.3L500.22 483.3L500.22 481.65L501.22 481.65L501.22 477.35L502.22 477.35L502.22 473.43L503.22 473.43L503.22 471.79L504.22 471.79L504.22 470.53L505.22 470.53L505.22 469.51L506.22 469.51L506.22 468.69L507.22 468.69L507.22 467.57L508.22 467.57L508.22 467.69L509.22 467.69L509.22 466.64L510.22 466.64L510.22 466.47L511.22 466.47L511.22 466.18L512.22 466.18L512.22 465.48L513.22 465.48L513.22 464.94L514.22 464.94L514.22 464.6L515.22 464.6L515.22 463.64L516.22 463.64L516.22 463.36L517.22 463.36L517.22 462.53L518.22 462.53L518.22 461.62L519.22 461.62L519.22 461.03L520.22 461.03L520.22 461.3L521.22 461.3L521.22 460.97L522.22 460.97L522.22 460.44L523.22 460.44L523.22 460.69L524.22 460.69L524.22 460.64L525.22 460.64L525.22 460.88L526.22 460.88L526.22 461.13L527.22 461.13L527.22 462.14L528.22 462.14L528.22 462.55L529.12 462.55L529.12 488.7Z" fill="#fde0d3"/>
<path d="M488.08 532.32L488.08 532.32L489.08 532.32L489.08 531.63L490.08 531.63L490.08 531.57L491.08 531.57L491.08 531.58L492.08 531.58L492.08 531.13L493.08 531.13L493.08 530.97L494.08 530.97L494.08 530.6L495.08 530.6L495.08 530.22L496.08 530.22L496.08 529.5L497.08 529.5L497.08 529.21L498.08 529.21L498.08 528.84L499.08 528.84L499.08 526.67L500.08 526.67L500.08 524.17L501.08 524.17L501.08 521.49L502.08 521.49L502.08 518.28L503.08 518.28L503.08 517.19L504.08 517.19L504.08 516.59L505.08 516.59L505.08 515.84L506.08 515.84L506.08 515.14L507.08 515.14L507.08 514.8L508.08 514.8L508.08 513.94L509.08 513.94L509.08 512.97L510.08 512.97L510.08 512.69L511.08 512.69L511.08 512.2L512.08 512.2L512.08 511.56L513.08 511.56L513.08 510.83L514.08 510.83L514.08 510.18L515.08 510.18L515.08 509.43L516.08 509.43L516.08 508.51L517.08 508.51L517.08 507.9L518.08 507.9L518.08 506.82L519.08 506.82L519.08 506.35L520.08 506.35L520.08 506.51L521.08 506.51L521.08 507.1L522.08 507.1L522.08 507.25L523.08 507.25L523.08 507.89L524.08 507.89L524.08 508.05L525.08 508.05L525.08 508.46L526.08 508.46L526.08 509.27L527.08 509.27L527.08 509.69L528.08 509.69L528.08 509.97L529.08 509.97L529.08 510.03L529.12 510.03L529.12 532.32Z" fill="#fde0d3"/>
<path d="M472.12 575.94L472.12 570.23L473.12 570.23L473.12 570.16L474.12 570.16L474.12 570.18L475.12 570.18L475.12 569.93L476.12 569.93L476.12 570.92L477.12 570.92L477.12 570.94L478.12 570.94L478.12 570.93L479.12 570.93L479.12 570.03L480.12 570.03L480.12 570.8L481.12 570.8L481.12 570.6L482.12 570.6L482.12 570.85L483.12 570.85L483.12 570.01L484.12 570.01L484.12 571.11L485.12 571.11L485.12 571.26L486.12 571.26L486.12 570.96L487.12 570.96L487.12 571L488.12 571L488.12 572.05L489.12 572.05L489.12 571.51L490.12 571.51L490.12 571.79L491.12 571.79L491.12 571.98L492.12 571.98L492.12 572.24L493.12 572.24L493.12 572.09L494.12 572.09L494.12 572.27L495.12 572.27L495.12 572.44L496.12 572.44L496.12 573.36L497.12 573.36L497.12 573.95L498.12 573.95L498.12 573.61L499.12 573.61L499.12 573.43L500.12 573.43L500.12 571.47L501.12 571.47L501.12 570.52L502.12 570.52L502.12 569.01L503.12 569.01L503.12 568.32L504.12 568.32L504.12 568.11L505.12 568.11L505.12 567.81L506.12 567.81L506.12 567.94L507.12 567.94L507.12 567.07L508.12 567.07L508.12 566.83L509.12 566.83L509.12 566.48L510.12 566.48L510.12 564.72L511.12 564.72L511.12 564.35L512.12 564.35L512.12 563.37L513.12 563.37L513.12 562.91L514.12 562.91L514.12 562.39L515.12 562.39L515.12 563.32L516.12 563.32L516.12 563.43L517.12 563.43L517.12 563.76L518.12 563.76L518.12 564.65L519.12 564.65L519.12 564.76L520.12 564.76L520.12 564.02L521.12 564.02L521.12 563.4L522.12 563.4L522.12 561.75L523.12 561.75L523.12 560.81L524.12 560.81L524.12 561.69L525.12 561.69L525.12 561.4L526.12 561.4L526.12 560.53L527.12 560.53L527.12 561.32L528.12 561.32L528.12 561.28L529.12 561.28L529.12 575.94Z" fill="#f4c5c5"/>
<path d="M472.12 619.56L472.12 611.88L473.12 611.88L473.12 612.09L474.12 612.09L474.12 611.46L475.12 611.46L475.12 611.79L476.12 611.79L476.12 611.41L477.12 611.41L477.12 612.44L478.12 612.44L478.12 612.27L479.12 612.27L479.12 612.03L480.12 612.03L480.12 611.9L481.12 611.9L481.12 612.44L482.12 612.44L482.12 612.86L483.12 612.86L483.12 612.71L484.12 612.71L484.12 612.58L485.12 612.58L485.12 612.16L486.12 612.16L486.12 612.68L487.12 612.68L487.12 612.54L488.12 612.54L488.12 612.66L489.12 612.66L489.12 613.3L490.12 613.3L490.12 613.4L491.12 613.4L491.12 613.42L492.12 613.42L492.12 614.01L493.12 614.01L493.12 614.89L494.12 614.89L494.12 615.62L495.12 615.62L495.12 615.2L496.12 615.2L496.12 615.09L497.12 615.09L497.12 614.43L498.12 614.43L498.12 613.75L499.12 613.75L499.12 612.48L500.12 612.48L500.12 611.84L501.12 611.84L501.12 610.92L502.12 610.92L502.12 611.06L503.12 611.06L503.12 610.88L504.12 610.88L504.12 610.03L505.12 610.03L505.12 610.69L506.12 610.69L506.12 609.43L507.12 609.43L507.12 607.42L508.12 607.42L508.12 606.81L509.12 606.81L509.12 605.57L510.12 605.57L510.12 604.14L511.12 604.14L511.12 603.1L512.12 603.1L512.12 602.6L513.12 602.6L513.12 603.46L514.12 603.46L514.12 603.35L515.12 603.35L515.12 603.77L516.12 603.77L516.12 604.34L517.12 604.34L517.12 602.87L518.12 602.87L518.12 601.84L519.12 601.84L519.12 600.74L520.12 600.74L520.12 599.96L521.12 599.96L521.12 598.3L522.12 598.3L522.12 596.53L523.12 596.53L523.12 594.73L524.12 594.73L524.12 592.97L525.12 592.97L525.12 591.65L526.12 591.65L526.12 593.06L527.12 593.06L527.12 593.27L528.12 593.27L528.12 592.5L529.12 592.5L529.12 619.56Z" fill="#f4c5c5"/>
<path d="M472.12 663.18L472.12 662.8L473.12 662.8L473.12 662.47L474.12 662.47L474.12 662.78L475.12 662.78L475.12 662L476.12 662L476.12 661.95L477.12 661.95L477.12 662.43L478.12 662.43L478.12 663.06L479.12 663.06L479.12 662.69L480.12 662.69L480.12 662.25L481.12 662.25L481.12 662.43L482.12 662.43L482.12 662.81L483.12 662.81L483.12 662.66L484.12 662.66L484.12 663.1L485.12 663.1L485.12 662.65L486.12 662.65L486.12 662.09L487.12 662.09L487.12 662.67L488.12 662.67L488.12 662.56L489.12 662.56L489.12 662.96L490.12 662.96L490.12 662.24L491.12 662.24L491.12 662.45L492.12 662.45L492.12 662.24L493.12 662.24L493.12 661.47L494.12 661.47L494.12 661.84L495.12 661.84L495.12 661.87L496.12 661.87L496.12 660.32L497.12 660.32L497.12 658.97L498.12 658.97L498.12 658.64L499.12 658.64L499.12 657.02L500.12 657.02L500.12 655.08L501.12 655.08L501.12 655.33L502.12 655.33L502.12 655.22L503.12 655.22L503.12 655.33L504.12 655.33L504.12 654.89L505.12 654.89L505.12 655.19L506.12 655.19L506.12 655.45L507.12 655.45L507.12 655.61L508.12 655.61L508.12 650.45L509.12 650.45L509.12 646.45L510.12 646.45L510.12 642.96L511.12 642.96L511.12 640.48L512.12 640.48L512.12 640.2L513.12 640.2L513.12 641.63L514.12 641.63L514.12 642.61L515.12 642.61L515.12 642.52L516.12 642.52L516.12 643.53L517.12 643.53L517.12 644.78L518.12 644.78L518.12 645.1L519.12 645.1L519.12 644.16L520.12 644.16L520.12 645.45L521.12 645.45L521.12 644.77L522.12 644.77L522.12 644.37L523.12 644.37L523.12 643.9L524.12 643.9L524.12 643.62L525.12 643.62L525.12 642.26L526.12 642.26L526.12 641.05L527.12 641.05L527.12 641.18L528.12 641.18L528.12 639.83L529.12 639.83L529.12 663.18Z" fill="#91a8d3"/>
<path d="M472.12 706.8L472.12 706.63L473.12 706.63L473.12 705.76L474.12 705.76L474.12 705.61L475.12 705.61L475.12 705.65L476.12 705.65L476.12 706.1L477.12 706.1L477.12 706.61L478.12 706.61L478.12 705.85L479.12 705.85L479.12 706.71L480.12 706.71L480.12 705.78L481.12 705.78L481.12 706.4L482.12 706.4L482.12 705.62L483.12 705.62L483.12 706.42L484.12 706.42L484.12 705.82L485.12 705.82L485.12 706.15L486.12 706.15L486.12 706.48L487.12 706.48L487.12 706.15L488.12 706.15L488.12 706.23L489.12 706.23L489.12 706.59L490.12 706.59L490.12 706.08L491.12 706.08L491.12 705.3L492.12 705.3L492.12 703.92L493.12 703.92L493.12 703.24L494.12 703.24L494.12 702.69L495.12 702.69L495.12 703.24L496.12 703.24L496.12 702.81L497.12 702.81L497.12 703.18L498.12 703.18L498.12 702.46L499.12 702.46L499.12 703.09L500.12 703.09L500.12 701.8L501.12 701.8L501.12 700.93L502.12 700.93L502.12 699.47L503.12 699.47L503.12 697.97L504.12 697.97L504.12 697.05L505.12 697.05L505.12 695.86L506.12 695.86L506.12 693.51L507.12 693.51L507.12 692.94L508.12 692.94L508.12 691.74L509.12 691.74L509.12 690.43L510.12 690.43L510.12 689.1L511.12 689.1L511.12 688.48L512.12 688.48L512.12 687.53L513.12 687.53L513.12 688L514.12 688L514.12 689.15L515.12 689.15L515.12 689.79L516.12 689.79L516.12 691.25L517.12 691.25L517.12 691.29L518.12 691.29L518.12 690.95L519.12 690.95L519.12 690.6L520.12 690.6L520.12 690.46L521.12 690.46L521.12 690.46L522.12 690.46L522.12 688.74L523.12 688.74L523.12 687.77L524.12 687.77L524.12 685.77L525.12 685.77L525.12 684.98L526.12 684.98L526.12 682.97L527.12 682.97L527.12 682.53L528.12 682.53L528.12 681.98L529.12 681.98L529.12 706.8Z" fill="#91a8d3"/>
<path d="M484.09 750.42L484.09 745.25L485.09 745.25L485.09 743.91L486.09 743.91L486.09 743.11L487.09 743.11L487.09 739.94L488.09 739.94L488.09 739L489.09 739L489.09 737.56L490.09 737.56L490.09 735.52L491.09 735.52L491.09 735.37L492.09 735.37L492.09 735.24L493.09 735.24L493.09 735.47L494.09 735.47L494.09 737.23L495.09 737.23L495.09 736.99L496.09 736.99L496.09 737.22L497.09 737.22L497.09 736.51L498.09 736.51L498.09 735.33L499.09 735.33L499.09 734.06L500.09 734.06L500.09 733.3L501.09 733.3L501.09 732.71L502.09 732.71L502.09 733.17L503.09 733.17L503.09 733.25L504.09 733.25L504.09 734.09L505.09 734.09L505.09 735.82L506.09 735.82L506.09 739.23L507.09 739.23L507.09 741.34L508.09 741.34L508.09 741.55L509.09 741.55L509.09 744.49L510.09 744.49L510.09 745.1L511.09 745.1L511.09 746.6L512.09 746.6L512.09 749.14L513.09 749.14L513.09 749.31L514.09 749.31L514.09 750.42L515.09 750.42L515.09 750.42L516.09 750.42L516.09 750.42L517.09 750.42L517.09 750.42L518.09 750.42L518.09 750.42L519.09 750.42L519.09 750.42L520.09 750.42L520.09 750.42L521.09 750.42L521.09 750.42L522.09 750.42L522.09 747.94L523.09 747.94L523.09 742.77L524.09 742.77L524.09 742.99L525.09 742.99L525.09 741.01L526.09 741.01L526.09 742.13L527.09 742.13L527.09 739.26L528.09 739.26L528.09 738.91L529.09 738.91L529.09 738.17L529.12 738.17L529.12 750.42Z" fill="#d6c8e1"/>
<path d="M472.12 794.04L472.12 788.55L473.12 788.55L473.12 788.23L474.12 788.23L474.12 787.68L475.12 787.68L475.12 789.07L476.12 789.07L476.12 789.16L477.12 789.16L477.12 787.85L478.12 787.85L478.12 787.56L479.12 787.56L479.12 789.06L480.12 789.06L480.12 788.32L481.12 788.32L481.12 788.41L482.12 788.41L482.12 788.02L483.12 788.02L483.12 785.75L484.12 785.75L484.12 786L485.12 786L485.12 783.22L486.12 783.22L486.12 782.4L487.12 782.4L487.12 781.35L488.12 781.35L488.12 777.8L489.12 777.8L489.12 778.02L490.12 778.02L490.12 776.47L491.12 776.47L491.12 774.99L492.12 774.99L492.12 772.59L493.12 772.59L493.12 772.92L494.12 772.92L494.12 773.97L495.12 773.97L495.12 773.51L496.12 773.51L496.12 776.44L497.12 776.44L497.12 779L498.12 779L498.12 783.79L499.12 783.79L499.12 787.89L500.12 787.89L500.12 791.55L501.12 791.55L501.12 791.28L502.12 791.28L502.12 789.36L503.12 789.36L503.12 790.51L504.12 790.51L504.12 790.95L505.12 790.95L505.12 787.75L506.12 787.75L506.12 782.71L507.12 782.71L507.12 779.8L508.12 779.8L508.12 777.99L509.12 777.99L509.12 776.36L510.12 776.36L510.12 774.68L511.12 774.68L511.12 776.06L512.12 776.06L512.12 776.63L513.12 776.63L513.12 778.57L514.12 778.57L514.12 778.78L515.12 778.78L515.12 781.05L516.12 781.05L516.12 780.1L517.12 780.1L517.12 781.16L518.12 781.16L518.12 783.05L519.12 783.05L519.12 784.07L520.12 784.07L520.12 784.94L521.12 784.94L521.12 784.82L522.12 784.82L522.12 785.91L523.12 785.91L523.12 786.3L524.12 786.3L524.12 787.65L525.12 787.65L525.12 789.1L526.12 789.1L526.12 789.71L527.12 789.71L527.12 792.31L528.12 792.31L528.12 789.83L529.12 789.83L529.12 794.04Z" fill="#d6c8e1"/>
<rect x="499.62" y="481.77" width="2" height="6.93" fill="#f47a20"/>
<rect x="499.62" y="524.07" width="2" height="8.25" fill="#f47a20"/>
<rect x="498.8" y="541.34" width="30.32" height="2.7" fill="#0000b4"/>
<rect x="501.8" y="584.96" width="27.32" height="2.7" fill="#0000b4"/>
<rect x="496.7" y="628.58" width="32.42" height="2.7" fill="#0000b4"/>
<rect x="494.3" y="672.2" width="34.82" height="2.7" fill="#0000b4"/>
<text x="472.42" y="462.9" font-size="8.4" text-anchor="start" fill="#231f20" font-weight="normal" font-style="normal">0-2000</text>
<text x="472.42" y="506.52" font-size="8.4" text-anchor="start" fill="#231f20" font-weight="normal" font-style="normal">0-1800</text>
<text x="472.42" y="550.14" font-size="8.4" text-anchor="start" fill="#231f20" font-weight="normal" font-style="normal">0-200</text>
<text x="472.42" y="593.76" font-size="8.4" text-anchor="start" fill="#231f20" font-weight="normal" font-style="normal">0-250</text>
<text x="472.42" y="637.38" font-size="8.4" text-anchor="start" fill="#231f20" font-weight="normal" font-style="normal">0-200</text>
<text x="472.42" y="681" font-size="8.4" text-anchor="start" fill="#231f20" font-weight="normal" font-style="normal">0-500</text>
<text x="472.42" y="717.22" font-size="8.4" text-anchor="start" fill="#231f20" font-weight="normal" font-style="normal">0-22</text>
<text x="472.42" y="760.84" font-size="8.4" text-anchor="start" fill="#231f20" font-weight="normal" font-style="normal">0-17</text>
<circle cx="500.62" cy="816.6" r="8.6" fill="#7cc3b4"/>
<path d="M500.62 816.6L492.29 814.46A8.6 8.6 0 0 1 500.62 808Z" fill="#f5d87a"/>
<rect x="41.9" y="540.9" width="1.9" height="2.6" fill="#0000b4"/>
<line x1="41.8" y1="794.6" x2="41.8" y2="804.3" stroke="#231f20" stroke-width="1.1"/>
<line x1="97.6" y1="794.6" x2="97.6" y2="804.3" stroke="#231f20" stroke-width="1.1"/>
<line x1="53" y1="800.4" x2="43.9" y2="800.4" stroke="#231f20" stroke-width="0.7"/>
<path d="M44.54 799.12L44.54 801.68L42.3 800.4Z" fill="#231f20"/>
<line x1="86" y1="800.4" x2="95.5" y2="800.4" stroke="#231f20" stroke-width="0.7"/>
<path d="M94.86 799.12L94.86 801.68L97.1 800.4Z" fill="#231f20"/>
<text x="70.8" y="803.2" font-size="8.6" text-anchor="middle" fill="#231f20" font-weight="normal" font-style="normal">500bp</text>
<text x="35.6" y="471.7" font-size="8.2" text-anchor="middle" fill="#231f20" transform="rotate(-90 35.6 471.7)">Rep1</text>
<text x="35.6" y="515.32" font-size="8.2" text-anchor="middle" fill="#231f20" transform="rotate(-90 35.6 515.32)">Rep2</text>
<text x="35.6" y="558.94" font-size="8.2" text-anchor="middle" fill="#231f20" transform="rotate(-90 35.6 558.94)">Rep1</text>
<text x="35.6" y="602.56" font-size="8.2" text-anchor="middle" fill="#231f20" transform="rotate(-90 35.6 602.56)">Rep2</text>
<text x="35.6" y="646.18" font-size="8.2" text-anchor="middle" fill="#231f20" transform="rotate(-90 35.6 646.18)">Rep1</text>
<text x="35.6" y="689.8" font-size="8.2" text-anchor="middle" fill="#231f20" transform="rotate(-90 35.6 689.8)">Rep2</text>
<text x="35.6" y="731.22" font-size="8.2" text-anchor="middle" fill="#231f20" transform="rotate(-90 35.6 731.22)">Rep1</text>
<text x="35.6" y="774.84" font-size="8.2" text-anchor="middle" fill="#231f20" transform="rotate(-90 35.6 774.84)">Rep2</text>
<text x="35.6" y="818" font-size="8.2" text-anchor="middle" fill="#231f20" transform="rotate(-90 35.6 818)">Diet</text>
<line x1="10" y1="465.2" x2="10" y2="528.5" stroke="#4d4d4d" stroke-width="0.9"/>
<text x="6.1" y="498.3" font-size="8.4" text-anchor="middle" fill="#231f20" transform="rotate(-90 6.1 498.3)">RNA-seq</text>
<line x1="10" y1="550.2" x2="10" y2="699.5" stroke="#4d4d4d" stroke-width="0.9"/>
<text x="6.1" y="625.7" font-size="8.4" text-anchor="middle" fill="#231f20" transform="rotate(-90 6.1 625.7)">ChIP-seq</text>
<line x1="23.5" y1="550.2" x2="23.5" y2="613.8" stroke="#4d4d4d" stroke-width="0.9"/>
<text x="20" y="585.3" font-size="8.4" text-anchor="middle" fill="#f5bcbc" style="stroke:#f5bcbc" transform="rotate(-90 20 585.3)">H3K27ac</text>
<line x1="23.5" y1="636" x2="23.5" y2="699.5" stroke="#4d4d4d" stroke-width="0.9"/>
<text x="20.4" y="668.3" font-size="8.4" text-anchor="middle" fill="#a9bde6" style="stroke:#a9bde6" transform="rotate(-90 20.4 668.3)">H3K4me3</text>
<line x1="9.8" y1="721" x2="9.8" y2="784.9" stroke="#4d4d4d" stroke-width="0.9"/>
<text x="6.1" y="755.2" font-size="8.4" text-anchor="middle" fill="#231f20" transform="rotate(-90 6.1 755.2)">ATAC-seq</text>
<rect x="550.2" y="583.3" width="134" height="52.2" stroke="#1a1a1a" stroke-width="1.4" stroke-dasharray="9 5.4" fill="none"/>
<path d="M550.2 635.5V691.2H684.2V635.5" stroke="#1a1a1a" stroke-width="1.4" stroke-dasharray="9 5.4" fill="none"/>
<path d="M550.4 691.2V780.2H684.4V691.2" stroke="#1a1a1a" stroke-width="1.4" stroke-dasharray="9 5.4" fill="none"/>
<text x="619.3" y="597" font-size="8.4" text-anchor="middle" fill="#231f20" font-weight="normal" font-style="normal">H3K27ac</text>
<rect x="556.9" y="602.5" width="10.8" height="10.4" fill="#f4c5c5"/>
<text x="573.5" y="611" font-size="8.4" text-anchor="start" fill="#231f20" font-weight="normal" font-style="normal">Peak region beyond exon 1</text>
<rect x="556.9" y="618.9" width="10.8" height="10.4" fill="#fae6e6"/>
<text x="573.5" y="627.4" font-size="8.4" text-anchor="start" fill="#231f20" font-weight="normal" font-style="normal">Peak region within exon 1</text>
<text x="616.4" y="651.2" font-size="8.4" text-anchor="middle" fill="#231f20" font-weight="normal" font-style="normal">H3K4me3</text>
<rect x="556.9" y="657.2" width="10.8" height="10.4" fill="#91a8d3"/>
<text x="573.5" y="665.6" font-size="8.4" text-anchor="start" fill="#231f20" font-weight="normal" font-style="normal">Peak region beyond exon 1</text>
<rect x="556.9" y="673.6" width="10.8" height="10.4" fill="#d6e0f1"/>
<text x="573.5" y="682" font-size="8.4" text-anchor="start" fill="#231f20" font-weight="normal" font-style="normal">Peak region within exon 1</text>
<rect x="556.9" y="709.4" width="10.8" height="1.2" fill="#f47a20"/>
<text x="576.6" y="707" font-size="8.4" text-anchor="start" fill="#231f20" font-weight="normal" font-style="normal">Coverage in upstream</text>
<text x="576.6" y="717.1" font-size="8.4" text-anchor="start" fill="#231f20" font-weight="normal" font-style="normal">translation start site</text>
<rect x="556.9" y="726.5" width="10.8" height="9.6" fill="url(#ggray2)"/>
<text x="576.6" y="729.9" font-size="8.4" text-anchor="start" fill="#231f20" font-weight="normal" font-style="normal">Region after upstream</text>
<text x="576.6" y="740.2" font-size="8.4" text-anchor="start" fill="#231f20" font-weight="normal" font-style="normal">translation start site</text>
<circle cx="562.2" cy="750.6" r="5.5" fill="#7cc3b4"/>
<text x="576.6" y="753.3" font-size="8.4" text-anchor="start" fill="#231f20" font-weight="normal" font-style="normal">Plant tissue</text>
<circle cx="562.2" cy="769.2" r="5.5" fill="#f5d87a"/>
<text x="576.6" y="772" font-size="8.4" text-anchor="start" fill="#231f20" font-weight="normal" font-style="normal">Animal tissue</text>
<text x="73.3" y="892" font-size="9.2" font-style="italic" fill="#231f20" transform="rotate(-90 73.3 892)">B. taurus</text>
<text x="144.5" y="892" font-size="9.2" font-style="italic" fill="#231f20" transform="rotate(-90 144.5 892)">O. aries</text>
<text x="216.4" y="892" font-size="9.2" font-style="italic" fill="#231f20" transform="rotate(-90 216.4 892)">S. scrofa</text>
<text x="288.7" y="892" font-size="9.2" font-style="italic" fill="#231f20" transform="rotate(-90 288.7 892)">E. caballus</text>
<text x="359.8" y="892" font-size="9.2" font-style="italic" fill="#231f20" transform="rotate(-90 359.8 892)">C. lupus</text>
<text x="432.3" y="892" font-size="9.2" font-style="italic" fill="#231f20" transform="rotate(-90 432.3 892)">R. norvegicus</text>
<text x="503.8" y="892" font-size="9.2" font-style="italic" fill="#231f20" transform="rotate(-90 503.8 892)">M. musculus</text>
<path d="M70 897.5L70 904.8M141.2 897.5L141.2 904.8M70 904.8L141.2 904.8M105.6 904.8L105.6 912.5M213.1 897.5L213.1 912.5M105.6 912.5L213.1 912.5M159.4 912.5L159.4 918.8M285.4 897.5L285.4 918.8M159.4 918.8L285.4 918.8M222.4 918.8L222.4 925.8M356.5 897.5L356.5 925.8M222.4 925.8L356.5 925.8M429 897.5L429 905.7M500.5 897.5L500.5 905.7M429 905.7L500.5 905.7M289.5 925.8L289.5 932.3M464.8 905.7L464.8 932.3M289.5 932.3L464.8 932.3M377.1 932.3L377.1 945" stroke="#231f20" stroke-width="1" fill="none" stroke-linecap="square"/>
</svg>
</body></html>
